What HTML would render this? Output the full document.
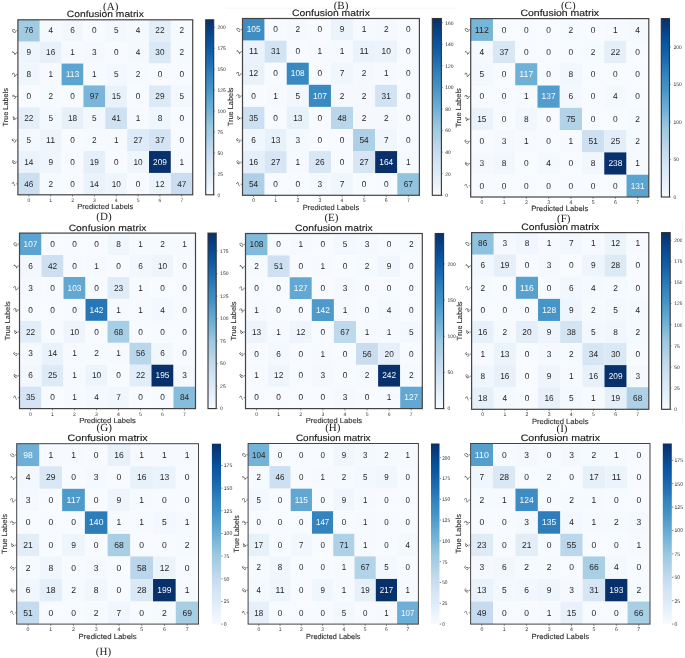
<!DOCTYPE html>
<html><head><meta charset="utf-8"><style>
html,body{margin:0;padding:0;background:#fff;}
svg{display:block;will-change:transform;}
text{font-family:"Liberation Sans", sans-serif;text-rendering:geometricPrecision;}
.cap{font-family:"Liberation Serif", serif;font-size:11px;text-anchor:middle;fill:#222;}
</style></head><body>
<svg width="685" height="658" viewBox="0 0 685 658">
<defs><linearGradient id="gA" x1="0" y1="0" x2="0" y2="1"><stop offset="0" stop-color="#08306b"/><stop offset="0.03" stop-color="#083776"/><stop offset="0.06" stop-color="#084082"/><stop offset="0.09" stop-color="#08488e"/><stop offset="0.12" stop-color="#08509b"/><stop offset="0.16" stop-color="#0e58a2"/><stop offset="0.19" stop-color="#1460a8"/><stop offset="0.22" stop-color="#1a68ae"/><stop offset="0.25" stop-color="#2070b4"/><stop offset="0.28" stop-color="#2979b9"/><stop offset="0.31" stop-color="#3181bd"/><stop offset="0.34" stop-color="#3989c1"/><stop offset="0.38" stop-color="#4191c6"/><stop offset="0.41" stop-color="#4b98ca"/><stop offset="0.44" stop-color="#56a0ce"/><stop offset="0.47" stop-color="#60a7d2"/><stop offset="0.5" stop-color="#6aaed6"/><stop offset="0.53" stop-color="#77b5d9"/><stop offset="0.56" stop-color="#84bcdb"/><stop offset="0.59" stop-color="#91c3de"/><stop offset="0.62" stop-color="#9dcae1"/><stop offset="0.66" stop-color="#a8cee4"/><stop offset="0.69" stop-color="#b2d2e8"/><stop offset="0.72" stop-color="#bcd7eb"/><stop offset="0.75" stop-color="#c6dbef"/><stop offset="0.78" stop-color="#ccdff1"/><stop offset="0.81" stop-color="#d2e3f3"/><stop offset="0.84" stop-color="#d8e7f5"/><stop offset="0.88" stop-color="#deebf7"/><stop offset="0.91" stop-color="#e4eff9"/><stop offset="0.94" stop-color="#eaf3fb"/><stop offset="0.97" stop-color="#f1f7fd"/><stop offset="1" stop-color="#f7fbff"/></linearGradient><linearGradient id="gB" x1="0" y1="0" x2="0" y2="1"><stop offset="0" stop-color="#08306b"/><stop offset="0.03" stop-color="#083776"/><stop offset="0.06" stop-color="#084082"/><stop offset="0.09" stop-color="#08488e"/><stop offset="0.12" stop-color="#08509b"/><stop offset="0.16" stop-color="#0e58a2"/><stop offset="0.19" stop-color="#1460a8"/><stop offset="0.22" stop-color="#1a68ae"/><stop offset="0.25" stop-color="#2070b4"/><stop offset="0.28" stop-color="#2979b9"/><stop offset="0.31" stop-color="#3181bd"/><stop offset="0.34" stop-color="#3989c1"/><stop offset="0.38" stop-color="#4191c6"/><stop offset="0.41" stop-color="#4b98ca"/><stop offset="0.44" stop-color="#56a0ce"/><stop offset="0.47" stop-color="#60a7d2"/><stop offset="0.5" stop-color="#6aaed6"/><stop offset="0.53" stop-color="#77b5d9"/><stop offset="0.56" stop-color="#84bcdb"/><stop offset="0.59" stop-color="#91c3de"/><stop offset="0.62" stop-color="#9dcae1"/><stop offset="0.66" stop-color="#a8cee4"/><stop offset="0.69" stop-color="#b2d2e8"/><stop offset="0.72" stop-color="#bcd7eb"/><stop offset="0.75" stop-color="#c6dbef"/><stop offset="0.78" stop-color="#ccdff1"/><stop offset="0.81" stop-color="#d2e3f3"/><stop offset="0.84" stop-color="#d8e7f5"/><stop offset="0.88" stop-color="#deebf7"/><stop offset="0.91" stop-color="#e4eff9"/><stop offset="0.94" stop-color="#eaf3fb"/><stop offset="0.97" stop-color="#f1f7fd"/><stop offset="1" stop-color="#f7fbff"/></linearGradient><linearGradient id="gC" x1="0" y1="0" x2="0" y2="1"><stop offset="0" stop-color="#08306b"/><stop offset="0.03" stop-color="#083776"/><stop offset="0.06" stop-color="#084082"/><stop offset="0.09" stop-color="#08488e"/><stop offset="0.12" stop-color="#08509b"/><stop offset="0.16" stop-color="#0e58a2"/><stop offset="0.19" stop-color="#1460a8"/><stop offset="0.22" stop-color="#1a68ae"/><stop offset="0.25" stop-color="#2070b4"/><stop offset="0.28" stop-color="#2979b9"/><stop offset="0.31" stop-color="#3181bd"/><stop offset="0.34" stop-color="#3989c1"/><stop offset="0.38" stop-color="#4191c6"/><stop offset="0.41" stop-color="#4b98ca"/><stop offset="0.44" stop-color="#56a0ce"/><stop offset="0.47" stop-color="#60a7d2"/><stop offset="0.5" stop-color="#6aaed6"/><stop offset="0.53" stop-color="#77b5d9"/><stop offset="0.56" stop-color="#84bcdb"/><stop offset="0.59" stop-color="#91c3de"/><stop offset="0.62" stop-color="#9dcae1"/><stop offset="0.66" stop-color="#a8cee4"/><stop offset="0.69" stop-color="#b2d2e8"/><stop offset="0.72" stop-color="#bcd7eb"/><stop offset="0.75" stop-color="#c6dbef"/><stop offset="0.78" stop-color="#ccdff1"/><stop offset="0.81" stop-color="#d2e3f3"/><stop offset="0.84" stop-color="#d8e7f5"/><stop offset="0.88" stop-color="#deebf7"/><stop offset="0.91" stop-color="#e4eff9"/><stop offset="0.94" stop-color="#eaf3fb"/><stop offset="0.97" stop-color="#f1f7fd"/><stop offset="1" stop-color="#f7fbff"/></linearGradient><linearGradient id="gD" x1="0" y1="0" x2="0" y2="1"><stop offset="0" stop-color="#08306b"/><stop offset="0.03" stop-color="#083776"/><stop offset="0.06" stop-color="#084082"/><stop offset="0.09" stop-color="#08488e"/><stop offset="0.12" stop-color="#08509b"/><stop offset="0.16" stop-color="#0e58a2"/><stop offset="0.19" stop-color="#1460a8"/><stop offset="0.22" stop-color="#1a68ae"/><stop offset="0.25" stop-color="#2070b4"/><stop offset="0.28" stop-color="#2979b9"/><stop offset="0.31" stop-color="#3181bd"/><stop offset="0.34" stop-color="#3989c1"/><stop offset="0.38" stop-color="#4191c6"/><stop offset="0.41" stop-color="#4b98ca"/><stop offset="0.44" stop-color="#56a0ce"/><stop offset="0.47" stop-color="#60a7d2"/><stop offset="0.5" stop-color="#6aaed6"/><stop offset="0.53" stop-color="#77b5d9"/><stop offset="0.56" stop-color="#84bcdb"/><stop offset="0.59" stop-color="#91c3de"/><stop offset="0.62" stop-color="#9dcae1"/><stop offset="0.66" stop-color="#a8cee4"/><stop offset="0.69" stop-color="#b2d2e8"/><stop offset="0.72" stop-color="#bcd7eb"/><stop offset="0.75" stop-color="#c6dbef"/><stop offset="0.78" stop-color="#ccdff1"/><stop offset="0.81" stop-color="#d2e3f3"/><stop offset="0.84" stop-color="#d8e7f5"/><stop offset="0.88" stop-color="#deebf7"/><stop offset="0.91" stop-color="#e4eff9"/><stop offset="0.94" stop-color="#eaf3fb"/><stop offset="0.97" stop-color="#f1f7fd"/><stop offset="1" stop-color="#f7fbff"/></linearGradient><linearGradient id="gE" x1="0" y1="0" x2="0" y2="1"><stop offset="0" stop-color="#08306b"/><stop offset="0.03" stop-color="#083776"/><stop offset="0.06" stop-color="#084082"/><stop offset="0.09" stop-color="#08488e"/><stop offset="0.12" stop-color="#08509b"/><stop offset="0.16" stop-color="#0e58a2"/><stop offset="0.19" stop-color="#1460a8"/><stop offset="0.22" stop-color="#1a68ae"/><stop offset="0.25" stop-color="#2070b4"/><stop offset="0.28" stop-color="#2979b9"/><stop offset="0.31" stop-color="#3181bd"/><stop offset="0.34" stop-color="#3989c1"/><stop offset="0.38" stop-color="#4191c6"/><stop offset="0.41" stop-color="#4b98ca"/><stop offset="0.44" stop-color="#56a0ce"/><stop offset="0.47" stop-color="#60a7d2"/><stop offset="0.5" stop-color="#6aaed6"/><stop offset="0.53" stop-color="#77b5d9"/><stop offset="0.56" stop-color="#84bcdb"/><stop offset="0.59" stop-color="#91c3de"/><stop offset="0.62" stop-color="#9dcae1"/><stop offset="0.66" stop-color="#a8cee4"/><stop offset="0.69" stop-color="#b2d2e8"/><stop offset="0.72" stop-color="#bcd7eb"/><stop offset="0.75" stop-color="#c6dbef"/><stop offset="0.78" stop-color="#ccdff1"/><stop offset="0.81" stop-color="#d2e3f3"/><stop offset="0.84" stop-color="#d8e7f5"/><stop offset="0.88" stop-color="#deebf7"/><stop offset="0.91" stop-color="#e4eff9"/><stop offset="0.94" stop-color="#eaf3fb"/><stop offset="0.97" stop-color="#f1f7fd"/><stop offset="1" stop-color="#f7fbff"/></linearGradient><linearGradient id="gF" x1="0" y1="0" x2="0" y2="1"><stop offset="0" stop-color="#08306b"/><stop offset="0.03" stop-color="#083776"/><stop offset="0.06" stop-color="#084082"/><stop offset="0.09" stop-color="#08488e"/><stop offset="0.12" stop-color="#08509b"/><stop offset="0.16" stop-color="#0e58a2"/><stop offset="0.19" stop-color="#1460a8"/><stop offset="0.22" stop-color="#1a68ae"/><stop offset="0.25" stop-color="#2070b4"/><stop offset="0.28" stop-color="#2979b9"/><stop offset="0.31" stop-color="#3181bd"/><stop offset="0.34" stop-color="#3989c1"/><stop offset="0.38" stop-color="#4191c6"/><stop offset="0.41" stop-color="#4b98ca"/><stop offset="0.44" stop-color="#56a0ce"/><stop offset="0.47" stop-color="#60a7d2"/><stop offset="0.5" stop-color="#6aaed6"/><stop offset="0.53" stop-color="#77b5d9"/><stop offset="0.56" stop-color="#84bcdb"/><stop offset="0.59" stop-color="#91c3de"/><stop offset="0.62" stop-color="#9dcae1"/><stop offset="0.66" stop-color="#a8cee4"/><stop offset="0.69" stop-color="#b2d2e8"/><stop offset="0.72" stop-color="#bcd7eb"/><stop offset="0.75" stop-color="#c6dbef"/><stop offset="0.78" stop-color="#ccdff1"/><stop offset="0.81" stop-color="#d2e3f3"/><stop offset="0.84" stop-color="#d8e7f5"/><stop offset="0.88" stop-color="#deebf7"/><stop offset="0.91" stop-color="#e4eff9"/><stop offset="0.94" stop-color="#eaf3fb"/><stop offset="0.97" stop-color="#f1f7fd"/><stop offset="1" stop-color="#f7fbff"/></linearGradient><linearGradient id="gG" x1="0" y1="0" x2="0" y2="1"><stop offset="0" stop-color="#08306b"/><stop offset="0.03" stop-color="#083776"/><stop offset="0.06" stop-color="#084082"/><stop offset="0.09" stop-color="#08488e"/><stop offset="0.12" stop-color="#08509b"/><stop offset="0.16" stop-color="#0e58a2"/><stop offset="0.19" stop-color="#1460a8"/><stop offset="0.22" stop-color="#1a68ae"/><stop offset="0.25" stop-color="#2070b4"/><stop offset="0.28" stop-color="#2979b9"/><stop offset="0.31" stop-color="#3181bd"/><stop offset="0.34" stop-color="#3989c1"/><stop offset="0.38" stop-color="#4191c6"/><stop offset="0.41" stop-color="#4b98ca"/><stop offset="0.44" stop-color="#56a0ce"/><stop offset="0.47" stop-color="#60a7d2"/><stop offset="0.5" stop-color="#6aaed6"/><stop offset="0.53" stop-color="#77b5d9"/><stop offset="0.56" stop-color="#84bcdb"/><stop offset="0.59" stop-color="#91c3de"/><stop offset="0.62" stop-color="#9dcae1"/><stop offset="0.66" stop-color="#a8cee4"/><stop offset="0.69" stop-color="#b2d2e8"/><stop offset="0.72" stop-color="#bcd7eb"/><stop offset="0.75" stop-color="#c6dbef"/><stop offset="0.78" stop-color="#ccdff1"/><stop offset="0.81" stop-color="#d2e3f3"/><stop offset="0.84" stop-color="#d8e7f5"/><stop offset="0.88" stop-color="#deebf7"/><stop offset="0.91" stop-color="#e4eff9"/><stop offset="0.94" stop-color="#eaf3fb"/><stop offset="0.97" stop-color="#f1f7fd"/><stop offset="1" stop-color="#f7fbff"/></linearGradient><linearGradient id="gH" x1="0" y1="0" x2="0" y2="1"><stop offset="0" stop-color="#08306b"/><stop offset="0.03" stop-color="#083776"/><stop offset="0.06" stop-color="#084082"/><stop offset="0.09" stop-color="#08488e"/><stop offset="0.12" stop-color="#08509b"/><stop offset="0.16" stop-color="#0e58a2"/><stop offset="0.19" stop-color="#1460a8"/><stop offset="0.22" stop-color="#1a68ae"/><stop offset="0.25" stop-color="#2070b4"/><stop offset="0.28" stop-color="#2979b9"/><stop offset="0.31" stop-color="#3181bd"/><stop offset="0.34" stop-color="#3989c1"/><stop offset="0.38" stop-color="#4191c6"/><stop offset="0.41" stop-color="#4b98ca"/><stop offset="0.44" stop-color="#56a0ce"/><stop offset="0.47" stop-color="#60a7d2"/><stop offset="0.5" stop-color="#6aaed6"/><stop offset="0.53" stop-color="#77b5d9"/><stop offset="0.56" stop-color="#84bcdb"/><stop offset="0.59" stop-color="#91c3de"/><stop offset="0.62" stop-color="#9dcae1"/><stop offset="0.66" stop-color="#a8cee4"/><stop offset="0.69" stop-color="#b2d2e8"/><stop offset="0.72" stop-color="#bcd7eb"/><stop offset="0.75" stop-color="#c6dbef"/><stop offset="0.78" stop-color="#ccdff1"/><stop offset="0.81" stop-color="#d2e3f3"/><stop offset="0.84" stop-color="#d8e7f5"/><stop offset="0.88" stop-color="#deebf7"/><stop offset="0.91" stop-color="#e4eff9"/><stop offset="0.94" stop-color="#eaf3fb"/><stop offset="0.97" stop-color="#f1f7fd"/><stop offset="1" stop-color="#f7fbff"/></linearGradient><linearGradient id="gI" x1="0" y1="0" x2="0" y2="1"><stop offset="0" stop-color="#08306b"/><stop offset="0.03" stop-color="#083776"/><stop offset="0.06" stop-color="#084082"/><stop offset="0.09" stop-color="#08488e"/><stop offset="0.12" stop-color="#08509b"/><stop offset="0.16" stop-color="#0e58a2"/><stop offset="0.19" stop-color="#1460a8"/><stop offset="0.22" stop-color="#1a68ae"/><stop offset="0.25" stop-color="#2070b4"/><stop offset="0.28" stop-color="#2979b9"/><stop offset="0.31" stop-color="#3181bd"/><stop offset="0.34" stop-color="#3989c1"/><stop offset="0.38" stop-color="#4191c6"/><stop offset="0.41" stop-color="#4b98ca"/><stop offset="0.44" stop-color="#56a0ce"/><stop offset="0.47" stop-color="#60a7d2"/><stop offset="0.5" stop-color="#6aaed6"/><stop offset="0.53" stop-color="#77b5d9"/><stop offset="0.56" stop-color="#84bcdb"/><stop offset="0.59" stop-color="#91c3de"/><stop offset="0.62" stop-color="#9dcae1"/><stop offset="0.66" stop-color="#a8cee4"/><stop offset="0.69" stop-color="#b2d2e8"/><stop offset="0.72" stop-color="#bcd7eb"/><stop offset="0.75" stop-color="#c6dbef"/><stop offset="0.78" stop-color="#ccdff1"/><stop offset="0.81" stop-color="#d2e3f3"/><stop offset="0.84" stop-color="#d8e7f5"/><stop offset="0.88" stop-color="#deebf7"/><stop offset="0.91" stop-color="#e4eff9"/><stop offset="0.94" stop-color="#eaf3fb"/><stop offset="0.97" stop-color="#f1f7fd"/><stop offset="1" stop-color="#f7fbff"/></linearGradient></defs>
<rect width="685" height="658" fill="#fff"/>
<rect x="17.9" y="19.8" width="21.91" height="21.93" fill="#a1cbe2"/>
<rect x="39.75" y="19.8" width="21.91" height="21.93" fill="#f4f9fe"/>
<rect x="61.6" y="19.8" width="21.91" height="21.93" fill="#f2f7fd"/>
<rect x="83.45" y="19.8" width="21.91" height="21.93" fill="#f7fbff"/>
<rect x="105.3" y="19.8" width="21.91" height="21.93" fill="#f2f8fd"/>
<rect x="127.15" y="19.8" width="21.91" height="21.93" fill="#f4f9fe"/>
<rect x="149" y="19.8" width="21.91" height="21.93" fill="#e3eef8"/>
<rect x="170.85" y="19.8" width="21.91" height="21.93" fill="#f5fafe"/>
<rect x="17.9" y="41.67" width="21.91" height="21.93" fill="#eef5fc"/>
<rect x="39.75" y="41.67" width="21.91" height="21.93" fill="#e8f1fa"/>
<rect x="61.6" y="41.67" width="21.91" height="21.93" fill="#f6faff"/>
<rect x="83.45" y="41.67" width="21.91" height="21.93" fill="#f5f9fe"/>
<rect x="105.3" y="41.67" width="21.91" height="21.93" fill="#f7fbff"/>
<rect x="127.15" y="41.67" width="21.91" height="21.93" fill="#f4f9fe"/>
<rect x="149" y="41.67" width="21.91" height="21.93" fill="#dbe9f6"/>
<rect x="170.85" y="41.67" width="21.91" height="21.93" fill="#f5fafe"/>
<rect x="17.9" y="63.55" width="21.91" height="21.93" fill="#f0f6fd"/>
<rect x="39.75" y="63.55" width="21.91" height="21.93" fill="#f6faff"/>
<rect x="61.6" y="63.55" width="21.91" height="21.93" fill="#5da5d1"/>
<rect x="83.45" y="63.55" width="21.91" height="21.93" fill="#f6faff"/>
<rect x="105.3" y="63.55" width="21.91" height="21.93" fill="#f2f8fd"/>
<rect x="127.15" y="63.55" width="21.91" height="21.93" fill="#f5fafe"/>
<rect x="149" y="63.55" width="21.91" height="21.93" fill="#f7fbff"/>
<rect x="170.85" y="63.55" width="21.91" height="21.93" fill="#f7fbff"/>
<rect x="17.9" y="85.42" width="21.91" height="21.93" fill="#f7fbff"/>
<rect x="39.75" y="85.42" width="21.91" height="21.93" fill="#f5fafe"/>
<rect x="61.6" y="85.42" width="21.91" height="21.93" fill="#f7fbff"/>
<rect x="83.45" y="85.42" width="21.91" height="21.93" fill="#7ab6d9"/>
<rect x="105.3" y="85.42" width="21.91" height="21.93" fill="#e9f2fa"/>
<rect x="127.15" y="85.42" width="21.91" height="21.93" fill="#f7fbff"/>
<rect x="149" y="85.42" width="21.91" height="21.93" fill="#dce9f6"/>
<rect x="170.85" y="85.42" width="21.91" height="21.93" fill="#f2f8fd"/>
<rect x="17.9" y="107.3" width="21.91" height="21.93" fill="#e3eef8"/>
<rect x="39.75" y="107.3" width="21.91" height="21.93" fill="#f2f8fd"/>
<rect x="61.6" y="107.3" width="21.91" height="21.93" fill="#e6f0f9"/>
<rect x="83.45" y="107.3" width="21.91" height="21.93" fill="#f2f8fd"/>
<rect x="105.3" y="107.3" width="21.91" height="21.93" fill="#d0e2f2"/>
<rect x="127.15" y="107.3" width="21.91" height="21.93" fill="#f6faff"/>
<rect x="149" y="107.3" width="21.91" height="21.93" fill="#f0f6fd"/>
<rect x="170.85" y="107.3" width="21.91" height="21.93" fill="#f7fbff"/>
<rect x="17.9" y="129.18" width="21.91" height="21.93" fill="#f2f8fd"/>
<rect x="39.75" y="129.18" width="21.91" height="21.93" fill="#edf4fc"/>
<rect x="61.6" y="129.18" width="21.91" height="21.93" fill="#f7fbff"/>
<rect x="83.45" y="129.18" width="21.91" height="21.93" fill="#f5fafe"/>
<rect x="105.3" y="129.18" width="21.91" height="21.93" fill="#f6faff"/>
<rect x="127.15" y="129.18" width="21.91" height="21.93" fill="#ddeaf7"/>
<rect x="149" y="129.18" width="21.91" height="21.93" fill="#d4e4f4"/>
<rect x="170.85" y="129.18" width="21.91" height="21.93" fill="#f7fbff"/>
<rect x="17.9" y="151.05" width="21.91" height="21.93" fill="#eaf2fb"/>
<rect x="39.75" y="151.05" width="21.91" height="21.93" fill="#eef5fc"/>
<rect x="61.6" y="151.05" width="21.91" height="21.93" fill="#f7fbff"/>
<rect x="83.45" y="151.05" width="21.91" height="21.93" fill="#e5eff9"/>
<rect x="105.3" y="151.05" width="21.91" height="21.93" fill="#f7fbff"/>
<rect x="127.15" y="151.05" width="21.91" height="21.93" fill="#eef5fc"/>
<rect x="149" y="151.05" width="21.91" height="21.93" fill="#08306b"/>
<rect x="170.85" y="151.05" width="21.91" height="21.93" fill="#f6faff"/>
<rect x="17.9" y="172.93" width="21.91" height="21.93" fill="#ccdff1"/>
<rect x="39.75" y="172.93" width="21.91" height="21.93" fill="#f5fafe"/>
<rect x="61.6" y="172.93" width="21.91" height="21.93" fill="#f7fbff"/>
<rect x="83.45" y="172.93" width="21.91" height="21.93" fill="#eaf2fb"/>
<rect x="105.3" y="172.93" width="21.91" height="21.93" fill="#eef5fc"/>
<rect x="127.15" y="172.93" width="21.91" height="21.93" fill="#f7fbff"/>
<rect x="149" y="172.93" width="21.91" height="21.93" fill="#ecf4fb"/>
<rect x="170.85" y="172.93" width="21.91" height="21.93" fill="#cbdef1"/>
<text transform="translate(28.82 33.44) scale(1 1)" font-size="8.5" text-anchor="middle" fill="#262626" textLength="9.16" lengthAdjust="spacingAndGlyphs">76</text>
<text transform="translate(50.67 33.44) scale(1 1)" font-size="8.5" text-anchor="middle" fill="#262626" textLength="4.58" lengthAdjust="spacingAndGlyphs">4</text>
<text transform="translate(72.52 33.44) scale(1 1)" font-size="8.5" text-anchor="middle" fill="#262626" textLength="4.58" lengthAdjust="spacingAndGlyphs">6</text>
<text transform="translate(94.38 33.44) scale(1 1)" font-size="8.5" text-anchor="middle" fill="#262626" textLength="4.58" lengthAdjust="spacingAndGlyphs">0</text>
<text transform="translate(116.22 33.44) scale(1 1)" font-size="8.5" text-anchor="middle" fill="#262626" textLength="4.58" lengthAdjust="spacingAndGlyphs">5</text>
<text transform="translate(138.07 33.44) scale(1 1)" font-size="8.5" text-anchor="middle" fill="#262626" textLength="4.58" lengthAdjust="spacingAndGlyphs">4</text>
<text transform="translate(159.92 33.44) scale(1 1)" font-size="8.5" text-anchor="middle" fill="#262626" textLength="9.16" lengthAdjust="spacingAndGlyphs">22</text>
<text transform="translate(181.77 33.44) scale(1 1)" font-size="8.5" text-anchor="middle" fill="#262626" textLength="4.58" lengthAdjust="spacingAndGlyphs">2</text>
<text transform="translate(28.82 55.31) scale(1 1)" font-size="8.5" text-anchor="middle" fill="#262626" textLength="4.58" lengthAdjust="spacingAndGlyphs">9</text>
<text transform="translate(50.67 55.31) scale(1 1)" font-size="8.5" text-anchor="middle" fill="#262626" textLength="9.16" lengthAdjust="spacingAndGlyphs">16</text>
<text transform="translate(72.52 55.31) scale(1 1)" font-size="8.5" text-anchor="middle" fill="#262626" textLength="4.58" lengthAdjust="spacingAndGlyphs">1</text>
<text transform="translate(94.38 55.31) scale(1 1)" font-size="8.5" text-anchor="middle" fill="#262626" textLength="4.58" lengthAdjust="spacingAndGlyphs">3</text>
<text transform="translate(116.22 55.31) scale(1 1)" font-size="8.5" text-anchor="middle" fill="#262626" textLength="4.58" lengthAdjust="spacingAndGlyphs">0</text>
<text transform="translate(138.07 55.31) scale(1 1)" font-size="8.5" text-anchor="middle" fill="#262626" textLength="4.58" lengthAdjust="spacingAndGlyphs">4</text>
<text transform="translate(159.92 55.31) scale(1 1)" font-size="8.5" text-anchor="middle" fill="#262626" textLength="9.16" lengthAdjust="spacingAndGlyphs">30</text>
<text transform="translate(181.77 55.31) scale(1 1)" font-size="8.5" text-anchor="middle" fill="#262626" textLength="4.58" lengthAdjust="spacingAndGlyphs">2</text>
<text transform="translate(28.82 77.19) scale(1 1)" font-size="8.5" text-anchor="middle" fill="#262626" textLength="4.58" lengthAdjust="spacingAndGlyphs">8</text>
<text transform="translate(50.67 77.19) scale(1 1)" font-size="8.5" text-anchor="middle" fill="#262626" textLength="4.58" lengthAdjust="spacingAndGlyphs">1</text>
<text transform="translate(72.52 77.19) scale(1 1)" font-size="8.5" text-anchor="middle" fill="#f7fbff" textLength="13.74" lengthAdjust="spacingAndGlyphs">113</text>
<text transform="translate(94.38 77.19) scale(1 1)" font-size="8.5" text-anchor="middle" fill="#262626" textLength="4.58" lengthAdjust="spacingAndGlyphs">1</text>
<text transform="translate(116.22 77.19) scale(1 1)" font-size="8.5" text-anchor="middle" fill="#262626" textLength="4.58" lengthAdjust="spacingAndGlyphs">5</text>
<text transform="translate(138.07 77.19) scale(1 1)" font-size="8.5" text-anchor="middle" fill="#262626" textLength="4.58" lengthAdjust="spacingAndGlyphs">2</text>
<text transform="translate(159.92 77.19) scale(1 1)" font-size="8.5" text-anchor="middle" fill="#262626" textLength="4.58" lengthAdjust="spacingAndGlyphs">0</text>
<text transform="translate(181.77 77.19) scale(1 1)" font-size="8.5" text-anchor="middle" fill="#262626" textLength="4.58" lengthAdjust="spacingAndGlyphs">0</text>
<text transform="translate(28.82 99.06) scale(1 1)" font-size="8.5" text-anchor="middle" fill="#262626" textLength="4.58" lengthAdjust="spacingAndGlyphs">0</text>
<text transform="translate(50.67 99.06) scale(1 1)" font-size="8.5" text-anchor="middle" fill="#262626" textLength="4.58" lengthAdjust="spacingAndGlyphs">2</text>
<text transform="translate(72.52 99.06) scale(1 1)" font-size="8.5" text-anchor="middle" fill="#262626" textLength="4.58" lengthAdjust="spacingAndGlyphs">0</text>
<text transform="translate(94.38 99.06) scale(1 1)" font-size="8.5" text-anchor="middle" fill="#262626" textLength="9.16" lengthAdjust="spacingAndGlyphs">97</text>
<text transform="translate(116.22 99.06) scale(1 1)" font-size="8.5" text-anchor="middle" fill="#262626" textLength="9.16" lengthAdjust="spacingAndGlyphs">15</text>
<text transform="translate(138.07 99.06) scale(1 1)" font-size="8.5" text-anchor="middle" fill="#262626" textLength="4.58" lengthAdjust="spacingAndGlyphs">0</text>
<text transform="translate(159.92 99.06) scale(1 1)" font-size="8.5" text-anchor="middle" fill="#262626" textLength="9.16" lengthAdjust="spacingAndGlyphs">29</text>
<text transform="translate(181.77 99.06) scale(1 1)" font-size="8.5" text-anchor="middle" fill="#262626" textLength="4.58" lengthAdjust="spacingAndGlyphs">5</text>
<text transform="translate(28.82 120.94) scale(1 1)" font-size="8.5" text-anchor="middle" fill="#262626" textLength="9.16" lengthAdjust="spacingAndGlyphs">22</text>
<text transform="translate(50.67 120.94) scale(1 1)" font-size="8.5" text-anchor="middle" fill="#262626" textLength="4.58" lengthAdjust="spacingAndGlyphs">5</text>
<text transform="translate(72.52 120.94) scale(1 1)" font-size="8.5" text-anchor="middle" fill="#262626" textLength="9.16" lengthAdjust="spacingAndGlyphs">18</text>
<text transform="translate(94.38 120.94) scale(1 1)" font-size="8.5" text-anchor="middle" fill="#262626" textLength="4.58" lengthAdjust="spacingAndGlyphs">5</text>
<text transform="translate(116.22 120.94) scale(1 1)" font-size="8.5" text-anchor="middle" fill="#262626" textLength="9.16" lengthAdjust="spacingAndGlyphs">41</text>
<text transform="translate(138.07 120.94) scale(1 1)" font-size="8.5" text-anchor="middle" fill="#262626" textLength="4.58" lengthAdjust="spacingAndGlyphs">1</text>
<text transform="translate(159.92 120.94) scale(1 1)" font-size="8.5" text-anchor="middle" fill="#262626" textLength="4.58" lengthAdjust="spacingAndGlyphs">8</text>
<text transform="translate(181.77 120.94) scale(1 1)" font-size="8.5" text-anchor="middle" fill="#262626" textLength="4.58" lengthAdjust="spacingAndGlyphs">0</text>
<text transform="translate(28.82 142.81) scale(1 1)" font-size="8.5" text-anchor="middle" fill="#262626" textLength="4.58" lengthAdjust="spacingAndGlyphs">5</text>
<text transform="translate(50.67 142.81) scale(1 1)" font-size="8.5" text-anchor="middle" fill="#262626" textLength="9.16" lengthAdjust="spacingAndGlyphs">11</text>
<text transform="translate(72.52 142.81) scale(1 1)" font-size="8.5" text-anchor="middle" fill="#262626" textLength="4.58" lengthAdjust="spacingAndGlyphs">0</text>
<text transform="translate(94.38 142.81) scale(1 1)" font-size="8.5" text-anchor="middle" fill="#262626" textLength="4.58" lengthAdjust="spacingAndGlyphs">2</text>
<text transform="translate(116.22 142.81) scale(1 1)" font-size="8.5" text-anchor="middle" fill="#262626" textLength="4.58" lengthAdjust="spacingAndGlyphs">1</text>
<text transform="translate(138.07 142.81) scale(1 1)" font-size="8.5" text-anchor="middle" fill="#262626" textLength="9.16" lengthAdjust="spacingAndGlyphs">27</text>
<text transform="translate(159.92 142.81) scale(1 1)" font-size="8.5" text-anchor="middle" fill="#262626" textLength="9.16" lengthAdjust="spacingAndGlyphs">37</text>
<text transform="translate(181.77 142.81) scale(1 1)" font-size="8.5" text-anchor="middle" fill="#262626" textLength="4.58" lengthAdjust="spacingAndGlyphs">0</text>
<text transform="translate(28.82 164.69) scale(1 1)" font-size="8.5" text-anchor="middle" fill="#262626" textLength="9.16" lengthAdjust="spacingAndGlyphs">14</text>
<text transform="translate(50.67 164.69) scale(1 1)" font-size="8.5" text-anchor="middle" fill="#262626" textLength="4.58" lengthAdjust="spacingAndGlyphs">9</text>
<text transform="translate(72.52 164.69) scale(1 1)" font-size="8.5" text-anchor="middle" fill="#262626" textLength="4.58" lengthAdjust="spacingAndGlyphs">0</text>
<text transform="translate(94.38 164.69) scale(1 1)" font-size="8.5" text-anchor="middle" fill="#262626" textLength="9.16" lengthAdjust="spacingAndGlyphs">19</text>
<text transform="translate(116.22 164.69) scale(1 1)" font-size="8.5" text-anchor="middle" fill="#262626" textLength="4.58" lengthAdjust="spacingAndGlyphs">0</text>
<text transform="translate(138.07 164.69) scale(1 1)" font-size="8.5" text-anchor="middle" fill="#262626" textLength="9.16" lengthAdjust="spacingAndGlyphs">10</text>
<text transform="translate(159.92 164.69) scale(1 1)" font-size="8.5" text-anchor="middle" fill="#f7fbff" textLength="13.74" lengthAdjust="spacingAndGlyphs">209</text>
<text transform="translate(181.77 164.69) scale(1 1)" font-size="8.5" text-anchor="middle" fill="#262626" textLength="4.58" lengthAdjust="spacingAndGlyphs">1</text>
<text transform="translate(28.82 186.56) scale(1 1)" font-size="8.5" text-anchor="middle" fill="#262626" textLength="9.16" lengthAdjust="spacingAndGlyphs">46</text>
<text transform="translate(50.67 186.56) scale(1 1)" font-size="8.5" text-anchor="middle" fill="#262626" textLength="4.58" lengthAdjust="spacingAndGlyphs">2</text>
<text transform="translate(72.52 186.56) scale(1 1)" font-size="8.5" text-anchor="middle" fill="#262626" textLength="4.58" lengthAdjust="spacingAndGlyphs">0</text>
<text transform="translate(94.38 186.56) scale(1 1)" font-size="8.5" text-anchor="middle" fill="#262626" textLength="9.16" lengthAdjust="spacingAndGlyphs">14</text>
<text transform="translate(116.22 186.56) scale(1 1)" font-size="8.5" text-anchor="middle" fill="#262626" textLength="9.16" lengthAdjust="spacingAndGlyphs">10</text>
<text transform="translate(138.07 186.56) scale(1 1)" font-size="8.5" text-anchor="middle" fill="#262626" textLength="4.58" lengthAdjust="spacingAndGlyphs">0</text>
<text transform="translate(159.92 186.56) scale(1 1)" font-size="8.5" text-anchor="middle" fill="#262626" textLength="9.16" lengthAdjust="spacingAndGlyphs">12</text>
<text transform="translate(181.77 186.56) scale(1 1)" font-size="8.5" text-anchor="middle" fill="#262626" textLength="9.16" lengthAdjust="spacingAndGlyphs">47</text>
<rect x="17.9" y="19.8" width="174.8" height="175" fill="none" stroke="#444" stroke-width="1.2"/>
<line x1="28.82" y1="194.8" x2="28.82" y2="196.6" stroke="#444" stroke-width="0.6"/>
<text transform="translate(28.82 201.9) scale(1 1)" font-size="5.19" text-anchor="middle" fill="#333" textLength="2.8" lengthAdjust="spacingAndGlyphs">0</text>
<line x1="50.67" y1="194.8" x2="50.67" y2="196.6" stroke="#444" stroke-width="0.6"/>
<text transform="translate(50.67 201.9) scale(1 1)" font-size="5.19" text-anchor="middle" fill="#333" textLength="2.8" lengthAdjust="spacingAndGlyphs">1</text>
<line x1="72.52" y1="194.8" x2="72.52" y2="196.6" stroke="#444" stroke-width="0.6"/>
<text transform="translate(72.52 201.9) scale(1 1)" font-size="5.19" text-anchor="middle" fill="#333" textLength="2.8" lengthAdjust="spacingAndGlyphs">2</text>
<line x1="94.38" y1="194.8" x2="94.38" y2="196.6" stroke="#444" stroke-width="0.6"/>
<text transform="translate(94.38 201.9) scale(1 1)" font-size="5.19" text-anchor="middle" fill="#333" textLength="2.8" lengthAdjust="spacingAndGlyphs">3</text>
<line x1="116.22" y1="194.8" x2="116.22" y2="196.6" stroke="#444" stroke-width="0.6"/>
<text transform="translate(116.22 201.9) scale(1 1)" font-size="5.19" text-anchor="middle" fill="#333" textLength="2.8" lengthAdjust="spacingAndGlyphs">4</text>
<line x1="138.07" y1="194.8" x2="138.07" y2="196.6" stroke="#444" stroke-width="0.6"/>
<text transform="translate(138.07 201.9) scale(1 1)" font-size="5.19" text-anchor="middle" fill="#333" textLength="2.8" lengthAdjust="spacingAndGlyphs">5</text>
<line x1="159.92" y1="194.8" x2="159.92" y2="196.6" stroke="#444" stroke-width="0.6"/>
<text transform="translate(159.92 201.9) scale(1 1)" font-size="5.19" text-anchor="middle" fill="#333" textLength="2.8" lengthAdjust="spacingAndGlyphs">6</text>
<line x1="181.77" y1="194.8" x2="181.77" y2="196.6" stroke="#444" stroke-width="0.6"/>
<text transform="translate(181.77 201.9) scale(1 1)" font-size="5.19" text-anchor="middle" fill="#333" textLength="2.8" lengthAdjust="spacingAndGlyphs">7</text>
<line x1="16.1" y1="30.74" x2="17.9" y2="30.74" stroke="#444" stroke-width="0.6"/>
<text dy="1.7" transform="translate(14.1 31.24) rotate(-45) scale(1 1)" font-size="5.97" text-anchor="middle" fill="#2a2a2a" textLength="3.22" lengthAdjust="spacingAndGlyphs">0</text>
<line x1="16.1" y1="52.61" x2="17.9" y2="52.61" stroke="#444" stroke-width="0.6"/>
<text dy="1.7" transform="translate(14.1 53.11) rotate(-45) scale(1 1)" font-size="5.97" text-anchor="middle" fill="#2a2a2a" textLength="3.22" lengthAdjust="spacingAndGlyphs">1</text>
<line x1="16.1" y1="74.49" x2="17.9" y2="74.49" stroke="#444" stroke-width="0.6"/>
<text dy="1.7" transform="translate(14.1 74.99) rotate(-45) scale(1 1)" font-size="5.97" text-anchor="middle" fill="#2a2a2a" textLength="3.22" lengthAdjust="spacingAndGlyphs">2</text>
<line x1="16.1" y1="96.36" x2="17.9" y2="96.36" stroke="#444" stroke-width="0.6"/>
<text dy="1.7" transform="translate(14.1 96.86) rotate(-45) scale(1 1)" font-size="5.97" text-anchor="middle" fill="#2a2a2a" textLength="3.22" lengthAdjust="spacingAndGlyphs">3</text>
<line x1="16.1" y1="118.24" x2="17.9" y2="118.24" stroke="#444" stroke-width="0.6"/>
<text dy="1.7" transform="translate(14.1 118.74) rotate(-45) scale(1 1)" font-size="5.97" text-anchor="middle" fill="#2a2a2a" textLength="3.22" lengthAdjust="spacingAndGlyphs">4</text>
<line x1="16.1" y1="140.11" x2="17.9" y2="140.11" stroke="#444" stroke-width="0.6"/>
<text dy="1.7" transform="translate(14.1 140.61) rotate(-45) scale(1 1)" font-size="5.97" text-anchor="middle" fill="#2a2a2a" textLength="3.22" lengthAdjust="spacingAndGlyphs">5</text>
<line x1="16.1" y1="161.99" x2="17.9" y2="161.99" stroke="#444" stroke-width="0.6"/>
<text dy="1.7" transform="translate(14.1 162.49) rotate(-45) scale(1 1)" font-size="5.97" text-anchor="middle" fill="#2a2a2a" textLength="3.22" lengthAdjust="spacingAndGlyphs">6</text>
<line x1="16.1" y1="183.86" x2="17.9" y2="183.86" stroke="#444" stroke-width="0.6"/>
<text dy="1.7" transform="translate(14.1 184.36) rotate(-45) scale(1 1)" font-size="5.97" text-anchor="middle" fill="#2a2a2a" textLength="3.22" lengthAdjust="spacingAndGlyphs">7</text>
<text transform="translate(105.3 17.4) scale(1 1)" font-size="9.09" text-anchor="middle" fill="#1a1a1a" stroke="#1a1a1a" stroke-width="0.14" textLength="76.97" lengthAdjust="spacingAndGlyphs">Confusion matrix</text>
<text transform="translate(105.3 209.4) scale(1 1)" font-size="7.34" text-anchor="middle" fill="#2a2a2a" stroke="#2a2a2a" stroke-width="0.1" textLength="55.97" lengthAdjust="spacingAndGlyphs">Predicted Labels</text>
<text transform="translate(8.31 107.3) rotate(-90) scale(1 1)" font-size="7.34" text-anchor="middle" fill="#2a2a2a" stroke="#2a2a2a" stroke-width="0.1" textLength="38.49" lengthAdjust="spacingAndGlyphs">True Labels</text>
<rect x="205.7" y="19.8" width="8" height="175" fill="url(#gA)"/>
<rect x="205.7" y="19.8" width="8" height="175" fill="none" stroke="#333" stroke-width="1.1"/>
<line x1="213.7" y1="194.8" x2="215.1" y2="194.8" stroke="#444" stroke-width="0.5"/>
<text transform="translate(217.6 196.6) scale(1 1)" font-size="5.07" text-anchor="start" fill="#2a2a2a" textLength="2.74" lengthAdjust="spacingAndGlyphs">0</text>
<line x1="213.7" y1="173.87" x2="215.1" y2="173.87" stroke="#444" stroke-width="0.5"/>
<text transform="translate(217.6 175.67) scale(1 1)" font-size="5.07" text-anchor="start" fill="#2a2a2a" textLength="5.47" lengthAdjust="spacingAndGlyphs">25</text>
<line x1="213.7" y1="152.93" x2="215.1" y2="152.93" stroke="#444" stroke-width="0.5"/>
<text transform="translate(217.6 154.73) scale(1 1)" font-size="5.07" text-anchor="start" fill="#2a2a2a" textLength="5.47" lengthAdjust="spacingAndGlyphs">50</text>
<line x1="213.7" y1="132" x2="215.1" y2="132" stroke="#444" stroke-width="0.5"/>
<text transform="translate(217.6 133.8) scale(1 1)" font-size="5.07" text-anchor="start" fill="#2a2a2a" textLength="5.47" lengthAdjust="spacingAndGlyphs">75</text>
<line x1="213.7" y1="111.07" x2="215.1" y2="111.07" stroke="#444" stroke-width="0.5"/>
<text transform="translate(217.6 112.87) scale(1 1)" font-size="5.07" text-anchor="start" fill="#2a2a2a" textLength="8.21" lengthAdjust="spacingAndGlyphs">100</text>
<line x1="213.7" y1="90.13" x2="215.1" y2="90.13" stroke="#444" stroke-width="0.5"/>
<text transform="translate(217.6 91.93) scale(1 1)" font-size="5.07" text-anchor="start" fill="#2a2a2a" textLength="8.21" lengthAdjust="spacingAndGlyphs">125</text>
<line x1="213.7" y1="69.2" x2="215.1" y2="69.2" stroke="#444" stroke-width="0.5"/>
<text transform="translate(217.6 71) scale(1 1)" font-size="5.07" text-anchor="start" fill="#2a2a2a" textLength="8.21" lengthAdjust="spacingAndGlyphs">150</text>
<line x1="213.7" y1="48.27" x2="215.1" y2="48.27" stroke="#444" stroke-width="0.5"/>
<text transform="translate(217.6 50.07) scale(1 1)" font-size="5.07" text-anchor="start" fill="#2a2a2a" textLength="8.21" lengthAdjust="spacingAndGlyphs">175</text>
<line x1="213.7" y1="27.34" x2="215.1" y2="27.34" stroke="#444" stroke-width="0.5"/>
<text transform="translate(217.6 29.14) scale(1 1)" font-size="5.07" text-anchor="start" fill="#2a2a2a" textLength="8.21" lengthAdjust="spacingAndGlyphs">200</text>
<rect x="242.5" y="18.5" width="22.17" height="22.16" fill="#3e8ec4"/>
<rect x="264.61" y="18.5" width="22.17" height="22.16" fill="#f7fbff"/>
<rect x="286.73" y="18.5" width="22.17" height="22.16" fill="#f5f9fe"/>
<rect x="308.84" y="18.5" width="22.17" height="22.16" fill="#f7fbff"/>
<rect x="330.95" y="18.5" width="22.17" height="22.16" fill="#ecf4fb"/>
<rect x="353.06" y="18.5" width="22.17" height="22.16" fill="#f6faff"/>
<rect x="375.17" y="18.5" width="22.17" height="22.16" fill="#f5f9fe"/>
<rect x="397.29" y="18.5" width="22.17" height="22.16" fill="#f7fbff"/>
<rect x="242.5" y="40.6" width="22.17" height="22.16" fill="#eaf2fb"/>
<rect x="264.61" y="40.6" width="22.17" height="22.16" fill="#d2e3f3"/>
<rect x="286.73" y="40.6" width="22.17" height="22.16" fill="#f7fbff"/>
<rect x="308.84" y="40.6" width="22.17" height="22.16" fill="#f6faff"/>
<rect x="330.95" y="40.6" width="22.17" height="22.16" fill="#f6faff"/>
<rect x="353.06" y="40.6" width="22.17" height="22.16" fill="#eaf2fb"/>
<rect x="375.17" y="40.6" width="22.17" height="22.16" fill="#ebf3fb"/>
<rect x="397.29" y="40.6" width="22.17" height="22.16" fill="#f7fbff"/>
<rect x="242.5" y="62.7" width="22.17" height="22.16" fill="#e9f2fa"/>
<rect x="264.61" y="62.7" width="22.17" height="22.16" fill="#f7fbff"/>
<rect x="286.73" y="62.7" width="22.17" height="22.16" fill="#3989c1"/>
<rect x="308.84" y="62.7" width="22.17" height="22.16" fill="#f7fbff"/>
<rect x="330.95" y="62.7" width="22.17" height="22.16" fill="#eff6fc"/>
<rect x="353.06" y="62.7" width="22.17" height="22.16" fill="#f5f9fe"/>
<rect x="375.17" y="62.7" width="22.17" height="22.16" fill="#f6faff"/>
<rect x="397.29" y="62.7" width="22.17" height="22.16" fill="#f7fbff"/>
<rect x="242.5" y="84.8" width="22.17" height="22.16" fill="#f7fbff"/>
<rect x="264.61" y="84.8" width="22.17" height="22.16" fill="#f6faff"/>
<rect x="286.73" y="84.8" width="22.17" height="22.16" fill="#f2f7fd"/>
<rect x="308.84" y="84.8" width="22.17" height="22.16" fill="#3a8ac2"/>
<rect x="330.95" y="84.8" width="22.17" height="22.16" fill="#f5f9fe"/>
<rect x="353.06" y="84.8" width="22.17" height="22.16" fill="#f5f9fe"/>
<rect x="375.17" y="84.8" width="22.17" height="22.16" fill="#d2e3f3"/>
<rect x="397.29" y="84.8" width="22.17" height="22.16" fill="#f7fbff"/>
<rect x="242.5" y="106.9" width="22.17" height="22.16" fill="#cde0f1"/>
<rect x="264.61" y="106.9" width="22.17" height="22.16" fill="#f7fbff"/>
<rect x="286.73" y="106.9" width="22.17" height="22.16" fill="#e7f1fa"/>
<rect x="308.84" y="106.9" width="22.17" height="22.16" fill="#f7fbff"/>
<rect x="330.95" y="106.9" width="22.17" height="22.16" fill="#b9d6ea"/>
<rect x="353.06" y="106.9" width="22.17" height="22.16" fill="#f5f9fe"/>
<rect x="375.17" y="106.9" width="22.17" height="22.16" fill="#f5f9fe"/>
<rect x="397.29" y="106.9" width="22.17" height="22.16" fill="#f7fbff"/>
<rect x="242.5" y="129" width="22.17" height="22.16" fill="#f0f6fd"/>
<rect x="264.61" y="129" width="22.17" height="22.16" fill="#e7f1fa"/>
<rect x="286.73" y="129" width="22.17" height="22.16" fill="#f4f9fe"/>
<rect x="308.84" y="129" width="22.17" height="22.16" fill="#f7fbff"/>
<rect x="330.95" y="129" width="22.17" height="22.16" fill="#f7fbff"/>
<rect x="353.06" y="129" width="22.17" height="22.16" fill="#add0e6"/>
<rect x="375.17" y="129" width="22.17" height="22.16" fill="#eff6fc"/>
<rect x="397.29" y="129" width="22.17" height="22.16" fill="#f7fbff"/>
<rect x="242.5" y="151.1" width="22.17" height="22.16" fill="#e4eff9"/>
<rect x="264.61" y="151.1" width="22.17" height="22.16" fill="#d6e6f4"/>
<rect x="286.73" y="151.1" width="22.17" height="22.16" fill="#f6faff"/>
<rect x="308.84" y="151.1" width="22.17" height="22.16" fill="#d8e7f5"/>
<rect x="330.95" y="151.1" width="22.17" height="22.16" fill="#f7fbff"/>
<rect x="353.06" y="151.1" width="22.17" height="22.16" fill="#d6e6f4"/>
<rect x="375.17" y="151.1" width="22.17" height="22.16" fill="#08306b"/>
<rect x="397.29" y="151.1" width="22.17" height="22.16" fill="#f6faff"/>
<rect x="242.5" y="173.2" width="22.17" height="22.16" fill="#add0e6"/>
<rect x="264.61" y="173.2" width="22.17" height="22.16" fill="#f7fbff"/>
<rect x="286.73" y="173.2" width="22.17" height="22.16" fill="#f7fbff"/>
<rect x="308.84" y="173.2" width="22.17" height="22.16" fill="#f4f9fe"/>
<rect x="330.95" y="173.2" width="22.17" height="22.16" fill="#eff6fc"/>
<rect x="353.06" y="173.2" width="22.17" height="22.16" fill="#f7fbff"/>
<rect x="375.17" y="173.2" width="22.17" height="22.16" fill="#f7fbff"/>
<rect x="397.29" y="173.2" width="22.17" height="22.16" fill="#91c3de"/>
<text transform="translate(253.56 32.28) scale(1.01 1.01)" font-size="8.5" text-anchor="middle" fill="#f7fbff" textLength="13.74" lengthAdjust="spacingAndGlyphs">105</text>
<text transform="translate(275.67 32.28) scale(1.01 1.01)" font-size="8.5" text-anchor="middle" fill="#262626" textLength="4.58" lengthAdjust="spacingAndGlyphs">0</text>
<text transform="translate(297.78 32.28) scale(1.01 1.01)" font-size="8.5" text-anchor="middle" fill="#262626" textLength="4.58" lengthAdjust="spacingAndGlyphs">2</text>
<text transform="translate(319.89 32.28) scale(1.01 1.01)" font-size="8.5" text-anchor="middle" fill="#262626" textLength="4.58" lengthAdjust="spacingAndGlyphs">0</text>
<text transform="translate(342.01 32.28) scale(1.01 1.01)" font-size="8.5" text-anchor="middle" fill="#262626" textLength="4.58" lengthAdjust="spacingAndGlyphs">9</text>
<text transform="translate(364.12 32.28) scale(1.01 1.01)" font-size="8.5" text-anchor="middle" fill="#262626" textLength="4.58" lengthAdjust="spacingAndGlyphs">1</text>
<text transform="translate(386.23 32.28) scale(1.01 1.01)" font-size="8.5" text-anchor="middle" fill="#262626" textLength="4.58" lengthAdjust="spacingAndGlyphs">2</text>
<text transform="translate(408.34 32.28) scale(1.01 1.01)" font-size="8.5" text-anchor="middle" fill="#262626" textLength="4.58" lengthAdjust="spacingAndGlyphs">0</text>
<text transform="translate(253.56 54.38) scale(1.01 1.01)" font-size="8.5" text-anchor="middle" fill="#262626" textLength="9.16" lengthAdjust="spacingAndGlyphs">11</text>
<text transform="translate(275.67 54.38) scale(1.01 1.01)" font-size="8.5" text-anchor="middle" fill="#262626" textLength="9.16" lengthAdjust="spacingAndGlyphs">31</text>
<text transform="translate(297.78 54.38) scale(1.01 1.01)" font-size="8.5" text-anchor="middle" fill="#262626" textLength="4.58" lengthAdjust="spacingAndGlyphs">0</text>
<text transform="translate(319.89 54.38) scale(1.01 1.01)" font-size="8.5" text-anchor="middle" fill="#262626" textLength="4.58" lengthAdjust="spacingAndGlyphs">1</text>
<text transform="translate(342.01 54.38) scale(1.01 1.01)" font-size="8.5" text-anchor="middle" fill="#262626" textLength="4.58" lengthAdjust="spacingAndGlyphs">1</text>
<text transform="translate(364.12 54.38) scale(1.01 1.01)" font-size="8.5" text-anchor="middle" fill="#262626" textLength="9.16" lengthAdjust="spacingAndGlyphs">11</text>
<text transform="translate(386.23 54.38) scale(1.01 1.01)" font-size="8.5" text-anchor="middle" fill="#262626" textLength="9.16" lengthAdjust="spacingAndGlyphs">10</text>
<text transform="translate(408.34 54.38) scale(1.01 1.01)" font-size="8.5" text-anchor="middle" fill="#262626" textLength="4.58" lengthAdjust="spacingAndGlyphs">0</text>
<text transform="translate(253.56 76.48) scale(1.01 1.01)" font-size="8.5" text-anchor="middle" fill="#262626" textLength="9.16" lengthAdjust="spacingAndGlyphs">12</text>
<text transform="translate(275.67 76.48) scale(1.01 1.01)" font-size="8.5" text-anchor="middle" fill="#262626" textLength="4.58" lengthAdjust="spacingAndGlyphs">0</text>
<text transform="translate(297.78 76.48) scale(1.01 1.01)" font-size="8.5" text-anchor="middle" fill="#f7fbff" textLength="13.74" lengthAdjust="spacingAndGlyphs">108</text>
<text transform="translate(319.89 76.48) scale(1.01 1.01)" font-size="8.5" text-anchor="middle" fill="#262626" textLength="4.58" lengthAdjust="spacingAndGlyphs">0</text>
<text transform="translate(342.01 76.48) scale(1.01 1.01)" font-size="8.5" text-anchor="middle" fill="#262626" textLength="4.58" lengthAdjust="spacingAndGlyphs">7</text>
<text transform="translate(364.12 76.48) scale(1.01 1.01)" font-size="8.5" text-anchor="middle" fill="#262626" textLength="4.58" lengthAdjust="spacingAndGlyphs">2</text>
<text transform="translate(386.23 76.48) scale(1.01 1.01)" font-size="8.5" text-anchor="middle" fill="#262626" textLength="4.58" lengthAdjust="spacingAndGlyphs">1</text>
<text transform="translate(408.34 76.48) scale(1.01 1.01)" font-size="8.5" text-anchor="middle" fill="#262626" textLength="4.58" lengthAdjust="spacingAndGlyphs">0</text>
<text transform="translate(253.56 98.58) scale(1.01 1.01)" font-size="8.5" text-anchor="middle" fill="#262626" textLength="4.58" lengthAdjust="spacingAndGlyphs">0</text>
<text transform="translate(275.67 98.58) scale(1.01 1.01)" font-size="8.5" text-anchor="middle" fill="#262626" textLength="4.58" lengthAdjust="spacingAndGlyphs">1</text>
<text transform="translate(297.78 98.58) scale(1.01 1.01)" font-size="8.5" text-anchor="middle" fill="#262626" textLength="4.58" lengthAdjust="spacingAndGlyphs">5</text>
<text transform="translate(319.89 98.58) scale(1.01 1.01)" font-size="8.5" text-anchor="middle" fill="#f7fbff" textLength="13.74" lengthAdjust="spacingAndGlyphs">107</text>
<text transform="translate(342.01 98.58) scale(1.01 1.01)" font-size="8.5" text-anchor="middle" fill="#262626" textLength="4.58" lengthAdjust="spacingAndGlyphs">2</text>
<text transform="translate(364.12 98.58) scale(1.01 1.01)" font-size="8.5" text-anchor="middle" fill="#262626" textLength="4.58" lengthAdjust="spacingAndGlyphs">2</text>
<text transform="translate(386.23 98.58) scale(1.01 1.01)" font-size="8.5" text-anchor="middle" fill="#262626" textLength="9.16" lengthAdjust="spacingAndGlyphs">31</text>
<text transform="translate(408.34 98.58) scale(1.01 1.01)" font-size="8.5" text-anchor="middle" fill="#262626" textLength="4.58" lengthAdjust="spacingAndGlyphs">0</text>
<text transform="translate(253.56 120.68) scale(1.01 1.01)" font-size="8.5" text-anchor="middle" fill="#262626" textLength="9.16" lengthAdjust="spacingAndGlyphs">35</text>
<text transform="translate(275.67 120.68) scale(1.01 1.01)" font-size="8.5" text-anchor="middle" fill="#262626" textLength="4.58" lengthAdjust="spacingAndGlyphs">0</text>
<text transform="translate(297.78 120.68) scale(1.01 1.01)" font-size="8.5" text-anchor="middle" fill="#262626" textLength="9.16" lengthAdjust="spacingAndGlyphs">13</text>
<text transform="translate(319.89 120.68) scale(1.01 1.01)" font-size="8.5" text-anchor="middle" fill="#262626" textLength="4.58" lengthAdjust="spacingAndGlyphs">0</text>
<text transform="translate(342.01 120.68) scale(1.01 1.01)" font-size="8.5" text-anchor="middle" fill="#262626" textLength="9.16" lengthAdjust="spacingAndGlyphs">48</text>
<text transform="translate(364.12 120.68) scale(1.01 1.01)" font-size="8.5" text-anchor="middle" fill="#262626" textLength="4.58" lengthAdjust="spacingAndGlyphs">2</text>
<text transform="translate(386.23 120.68) scale(1.01 1.01)" font-size="8.5" text-anchor="middle" fill="#262626" textLength="4.58" lengthAdjust="spacingAndGlyphs">2</text>
<text transform="translate(408.34 120.68) scale(1.01 1.01)" font-size="8.5" text-anchor="middle" fill="#262626" textLength="4.58" lengthAdjust="spacingAndGlyphs">0</text>
<text transform="translate(253.56 142.78) scale(1.01 1.01)" font-size="8.5" text-anchor="middle" fill="#262626" textLength="4.58" lengthAdjust="spacingAndGlyphs">6</text>
<text transform="translate(275.67 142.78) scale(1.01 1.01)" font-size="8.5" text-anchor="middle" fill="#262626" textLength="9.16" lengthAdjust="spacingAndGlyphs">13</text>
<text transform="translate(297.78 142.78) scale(1.01 1.01)" font-size="8.5" text-anchor="middle" fill="#262626" textLength="4.58" lengthAdjust="spacingAndGlyphs">3</text>
<text transform="translate(319.89 142.78) scale(1.01 1.01)" font-size="8.5" text-anchor="middle" fill="#262626" textLength="4.58" lengthAdjust="spacingAndGlyphs">0</text>
<text transform="translate(342.01 142.78) scale(1.01 1.01)" font-size="8.5" text-anchor="middle" fill="#262626" textLength="4.58" lengthAdjust="spacingAndGlyphs">0</text>
<text transform="translate(364.12 142.78) scale(1.01 1.01)" font-size="8.5" text-anchor="middle" fill="#262626" textLength="9.16" lengthAdjust="spacingAndGlyphs">54</text>
<text transform="translate(386.23 142.78) scale(1.01 1.01)" font-size="8.5" text-anchor="middle" fill="#262626" textLength="4.58" lengthAdjust="spacingAndGlyphs">7</text>
<text transform="translate(408.34 142.78) scale(1.01 1.01)" font-size="8.5" text-anchor="middle" fill="#262626" textLength="4.58" lengthAdjust="spacingAndGlyphs">0</text>
<text transform="translate(253.56 164.88) scale(1.01 1.01)" font-size="8.5" text-anchor="middle" fill="#262626" textLength="9.16" lengthAdjust="spacingAndGlyphs">16</text>
<text transform="translate(275.67 164.88) scale(1.01 1.01)" font-size="8.5" text-anchor="middle" fill="#262626" textLength="9.16" lengthAdjust="spacingAndGlyphs">27</text>
<text transform="translate(297.78 164.88) scale(1.01 1.01)" font-size="8.5" text-anchor="middle" fill="#262626" textLength="4.58" lengthAdjust="spacingAndGlyphs">1</text>
<text transform="translate(319.89 164.88) scale(1.01 1.01)" font-size="8.5" text-anchor="middle" fill="#262626" textLength="9.16" lengthAdjust="spacingAndGlyphs">26</text>
<text transform="translate(342.01 164.88) scale(1.01 1.01)" font-size="8.5" text-anchor="middle" fill="#262626" textLength="4.58" lengthAdjust="spacingAndGlyphs">0</text>
<text transform="translate(364.12 164.88) scale(1.01 1.01)" font-size="8.5" text-anchor="middle" fill="#262626" textLength="9.16" lengthAdjust="spacingAndGlyphs">27</text>
<text transform="translate(386.23 164.88) scale(1.01 1.01)" font-size="8.5" text-anchor="middle" fill="#f7fbff" textLength="13.74" lengthAdjust="spacingAndGlyphs">164</text>
<text transform="translate(408.34 164.88) scale(1.01 1.01)" font-size="8.5" text-anchor="middle" fill="#262626" textLength="4.58" lengthAdjust="spacingAndGlyphs">1</text>
<text transform="translate(253.56 186.98) scale(1.01 1.01)" font-size="8.5" text-anchor="middle" fill="#262626" textLength="9.16" lengthAdjust="spacingAndGlyphs">54</text>
<text transform="translate(275.67 186.98) scale(1.01 1.01)" font-size="8.5" text-anchor="middle" fill="#262626" textLength="4.58" lengthAdjust="spacingAndGlyphs">0</text>
<text transform="translate(297.78 186.98) scale(1.01 1.01)" font-size="8.5" text-anchor="middle" fill="#262626" textLength="4.58" lengthAdjust="spacingAndGlyphs">0</text>
<text transform="translate(319.89 186.98) scale(1.01 1.01)" font-size="8.5" text-anchor="middle" fill="#262626" textLength="4.58" lengthAdjust="spacingAndGlyphs">3</text>
<text transform="translate(342.01 186.98) scale(1.01 1.01)" font-size="8.5" text-anchor="middle" fill="#262626" textLength="4.58" lengthAdjust="spacingAndGlyphs">7</text>
<text transform="translate(364.12 186.98) scale(1.01 1.01)" font-size="8.5" text-anchor="middle" fill="#262626" textLength="4.58" lengthAdjust="spacingAndGlyphs">0</text>
<text transform="translate(386.23 186.98) scale(1.01 1.01)" font-size="8.5" text-anchor="middle" fill="#262626" textLength="4.58" lengthAdjust="spacingAndGlyphs">0</text>
<text transform="translate(408.34 186.98) scale(1.01 1.01)" font-size="8.5" text-anchor="middle" fill="#262626" textLength="9.16" lengthAdjust="spacingAndGlyphs">67</text>
<rect x="242.5" y="18.5" width="176.9" height="176.8" fill="none" stroke="#444" stroke-width="1.2"/>
<line x1="253.56" y1="195.3" x2="253.56" y2="197.12" stroke="#444" stroke-width="0.6"/>
<text transform="translate(253.56 202.4) scale(1.01 1.01)" font-size="5.19" text-anchor="middle" fill="#333" textLength="2.8" lengthAdjust="spacingAndGlyphs">0</text>
<line x1="275.67" y1="195.3" x2="275.67" y2="197.12" stroke="#444" stroke-width="0.6"/>
<text transform="translate(275.67 202.4) scale(1.01 1.01)" font-size="5.19" text-anchor="middle" fill="#333" textLength="2.8" lengthAdjust="spacingAndGlyphs">1</text>
<line x1="297.78" y1="195.3" x2="297.78" y2="197.12" stroke="#444" stroke-width="0.6"/>
<text transform="translate(297.78 202.4) scale(1.01 1.01)" font-size="5.19" text-anchor="middle" fill="#333" textLength="2.8" lengthAdjust="spacingAndGlyphs">2</text>
<line x1="319.89" y1="195.3" x2="319.89" y2="197.12" stroke="#444" stroke-width="0.6"/>
<text transform="translate(319.89 202.4) scale(1.01 1.01)" font-size="5.19" text-anchor="middle" fill="#333" textLength="2.8" lengthAdjust="spacingAndGlyphs">3</text>
<line x1="342.01" y1="195.3" x2="342.01" y2="197.12" stroke="#444" stroke-width="0.6"/>
<text transform="translate(342.01 202.4) scale(1.01 1.01)" font-size="5.19" text-anchor="middle" fill="#333" textLength="2.8" lengthAdjust="spacingAndGlyphs">4</text>
<line x1="364.12" y1="195.3" x2="364.12" y2="197.12" stroke="#444" stroke-width="0.6"/>
<text transform="translate(364.12 202.4) scale(1.01 1.01)" font-size="5.19" text-anchor="middle" fill="#333" textLength="2.8" lengthAdjust="spacingAndGlyphs">5</text>
<line x1="386.23" y1="195.3" x2="386.23" y2="197.12" stroke="#444" stroke-width="0.6"/>
<text transform="translate(386.23 202.4) scale(1.01 1.01)" font-size="5.19" text-anchor="middle" fill="#333" textLength="2.8" lengthAdjust="spacingAndGlyphs">6</text>
<line x1="408.34" y1="195.3" x2="408.34" y2="197.12" stroke="#444" stroke-width="0.6"/>
<text transform="translate(408.34 202.4) scale(1.01 1.01)" font-size="5.19" text-anchor="middle" fill="#333" textLength="2.8" lengthAdjust="spacingAndGlyphs">7</text>
<line x1="240.68" y1="29.55" x2="242.5" y2="29.55" stroke="#444" stroke-width="0.6"/>
<text dy="1.7" transform="translate(238.66 30.05) rotate(-45) scale(1.01 1.01)" font-size="5.97" text-anchor="middle" fill="#2a2a2a" textLength="3.22" lengthAdjust="spacingAndGlyphs">0</text>
<line x1="240.68" y1="51.65" x2="242.5" y2="51.65" stroke="#444" stroke-width="0.6"/>
<text dy="1.7" transform="translate(238.66 52.15) rotate(-45) scale(1.01 1.01)" font-size="5.97" text-anchor="middle" fill="#2a2a2a" textLength="3.22" lengthAdjust="spacingAndGlyphs">1</text>
<line x1="240.68" y1="73.75" x2="242.5" y2="73.75" stroke="#444" stroke-width="0.6"/>
<text dy="1.7" transform="translate(238.66 74.25) rotate(-45) scale(1.01 1.01)" font-size="5.97" text-anchor="middle" fill="#2a2a2a" textLength="3.22" lengthAdjust="spacingAndGlyphs">2</text>
<line x1="240.68" y1="95.85" x2="242.5" y2="95.85" stroke="#444" stroke-width="0.6"/>
<text dy="1.7" transform="translate(238.66 96.35) rotate(-45) scale(1.01 1.01)" font-size="5.97" text-anchor="middle" fill="#2a2a2a" textLength="3.22" lengthAdjust="spacingAndGlyphs">3</text>
<line x1="240.68" y1="117.95" x2="242.5" y2="117.95" stroke="#444" stroke-width="0.6"/>
<text dy="1.7" transform="translate(238.66 118.45) rotate(-45) scale(1.01 1.01)" font-size="5.97" text-anchor="middle" fill="#2a2a2a" textLength="3.22" lengthAdjust="spacingAndGlyphs">4</text>
<line x1="240.68" y1="140.05" x2="242.5" y2="140.05" stroke="#444" stroke-width="0.6"/>
<text dy="1.7" transform="translate(238.66 140.55) rotate(-45) scale(1.01 1.01)" font-size="5.97" text-anchor="middle" fill="#2a2a2a" textLength="3.22" lengthAdjust="spacingAndGlyphs">5</text>
<line x1="240.68" y1="162.15" x2="242.5" y2="162.15" stroke="#444" stroke-width="0.6"/>
<text dy="1.7" transform="translate(238.66 162.65) rotate(-45) scale(1.01 1.01)" font-size="5.97" text-anchor="middle" fill="#2a2a2a" textLength="3.22" lengthAdjust="spacingAndGlyphs">6</text>
<line x1="240.68" y1="184.25" x2="242.5" y2="184.25" stroke="#444" stroke-width="0.6"/>
<text dy="1.7" transform="translate(238.66 184.75) rotate(-45) scale(1.01 1.01)" font-size="5.97" text-anchor="middle" fill="#2a2a2a" textLength="3.22" lengthAdjust="spacingAndGlyphs">7</text>
<text transform="translate(330.95 16.08) scale(1.01 1.01)" font-size="9.09" text-anchor="middle" fill="#1a1a1a" stroke="#1a1a1a" stroke-width="0.14" textLength="76.97" lengthAdjust="spacingAndGlyphs">Confusion matrix</text>
<text transform="translate(330.95 210.05) scale(1.01 1.01)" font-size="7.34" text-anchor="middle" fill="#2a2a2a" stroke="#2a2a2a" stroke-width="0.1" textLength="55.97" lengthAdjust="spacingAndGlyphs">Predicted Labels</text>
<text transform="translate(232.8 106.9) rotate(-90) scale(1.01 1.01)" font-size="7.34" text-anchor="middle" fill="#2a2a2a" stroke="#2a2a2a" stroke-width="0.1" textLength="38.49" lengthAdjust="spacingAndGlyphs">True Labels</text>
<rect x="432.3" y="18.5" width="9.1" height="176.8" fill="url(#gB)"/>
<rect x="432.3" y="18.5" width="9.1" height="176.8" fill="none" stroke="#333" stroke-width="1.1"/>
<line x1="441.4" y1="195.3" x2="442.82" y2="195.3" stroke="#444" stroke-width="0.5"/>
<text transform="translate(445.34 197.12) scale(1.01 1.01)" font-size="5.07" text-anchor="start" fill="#2a2a2a" textLength="2.74" lengthAdjust="spacingAndGlyphs">0</text>
<line x1="441.4" y1="173.74" x2="442.82" y2="173.74" stroke="#444" stroke-width="0.5"/>
<text transform="translate(445.34 175.56) scale(1.01 1.01)" font-size="5.07" text-anchor="start" fill="#2a2a2a" textLength="5.47" lengthAdjust="spacingAndGlyphs">20</text>
<line x1="441.4" y1="152.18" x2="442.82" y2="152.18" stroke="#444" stroke-width="0.5"/>
<text transform="translate(445.34 154) scale(1.01 1.01)" font-size="5.07" text-anchor="start" fill="#2a2a2a" textLength="5.47" lengthAdjust="spacingAndGlyphs">40</text>
<line x1="441.4" y1="130.62" x2="442.82" y2="130.62" stroke="#444" stroke-width="0.5"/>
<text transform="translate(445.34 132.44) scale(1.01 1.01)" font-size="5.07" text-anchor="start" fill="#2a2a2a" textLength="5.47" lengthAdjust="spacingAndGlyphs">60</text>
<line x1="441.4" y1="109.06" x2="442.82" y2="109.06" stroke="#444" stroke-width="0.5"/>
<text transform="translate(445.34 110.87) scale(1.01 1.01)" font-size="5.07" text-anchor="start" fill="#2a2a2a" textLength="5.47" lengthAdjust="spacingAndGlyphs">80</text>
<line x1="441.4" y1="87.5" x2="442.82" y2="87.5" stroke="#444" stroke-width="0.5"/>
<text transform="translate(445.34 89.31) scale(1.01 1.01)" font-size="5.07" text-anchor="start" fill="#2a2a2a" textLength="8.21" lengthAdjust="spacingAndGlyphs">100</text>
<line x1="441.4" y1="65.93" x2="442.82" y2="65.93" stroke="#444" stroke-width="0.5"/>
<text transform="translate(445.34 67.75) scale(1.01 1.01)" font-size="5.07" text-anchor="start" fill="#2a2a2a" textLength="8.21" lengthAdjust="spacingAndGlyphs">120</text>
<line x1="441.4" y1="44.37" x2="442.82" y2="44.37" stroke="#444" stroke-width="0.5"/>
<text transform="translate(445.34 46.19) scale(1.01 1.01)" font-size="5.07" text-anchor="start" fill="#2a2a2a" textLength="8.21" lengthAdjust="spacingAndGlyphs">140</text>
<line x1="441.4" y1="22.81" x2="442.82" y2="22.81" stroke="#444" stroke-width="0.5"/>
<text transform="translate(445.34 24.63) scale(1.01 1.01)" font-size="5.07" text-anchor="start" fill="#2a2a2a" textLength="8.21" lengthAdjust="spacingAndGlyphs">160</text>
<rect x="470.7" y="18.6" width="22.32" height="22.36" fill="#77b5d9"/>
<rect x="492.96" y="18.6" width="22.32" height="22.36" fill="#f7fbff"/>
<rect x="515.23" y="18.6" width="22.32" height="22.36" fill="#f7fbff"/>
<rect x="537.49" y="18.6" width="22.32" height="22.36" fill="#f7fbff"/>
<rect x="559.75" y="18.6" width="22.32" height="22.36" fill="#f5fafe"/>
<rect x="582.01" y="18.6" width="22.32" height="22.36" fill="#f7fbff"/>
<rect x="604.27" y="18.6" width="22.32" height="22.36" fill="#f6faff"/>
<rect x="626.54" y="18.6" width="22.32" height="22.36" fill="#f4f9fe"/>
<rect x="470.7" y="40.9" width="22.32" height="22.36" fill="#f4f9fe"/>
<rect x="492.96" y="40.9" width="22.32" height="22.36" fill="#d9e7f5"/>
<rect x="515.23" y="40.9" width="22.32" height="22.36" fill="#f7fbff"/>
<rect x="537.49" y="40.9" width="22.32" height="22.36" fill="#f7fbff"/>
<rect x="559.75" y="40.9" width="22.32" height="22.36" fill="#f7fbff"/>
<rect x="582.01" y="40.9" width="22.32" height="22.36" fill="#f5fafe"/>
<rect x="604.27" y="40.9" width="22.32" height="22.36" fill="#e5eff9"/>
<rect x="626.54" y="40.9" width="22.32" height="22.36" fill="#f7fbff"/>
<rect x="470.7" y="63.2" width="22.32" height="22.36" fill="#f3f8fe"/>
<rect x="492.96" y="63.2" width="22.32" height="22.36" fill="#f7fbff"/>
<rect x="515.23" y="63.2" width="22.32" height="22.36" fill="#6fb0d7"/>
<rect x="537.49" y="63.2" width="22.32" height="22.36" fill="#f7fbff"/>
<rect x="559.75" y="63.2" width="22.32" height="22.36" fill="#f1f7fd"/>
<rect x="582.01" y="63.2" width="22.32" height="22.36" fill="#f7fbff"/>
<rect x="604.27" y="63.2" width="22.32" height="22.36" fill="#f7fbff"/>
<rect x="626.54" y="63.2" width="22.32" height="22.36" fill="#f7fbff"/>
<rect x="470.7" y="85.5" width="22.32" height="22.36" fill="#f7fbff"/>
<rect x="492.96" y="85.5" width="22.32" height="22.36" fill="#f7fbff"/>
<rect x="515.23" y="85.5" width="22.32" height="22.36" fill="#f6faff"/>
<rect x="537.49" y="85.5" width="22.32" height="22.36" fill="#529dcc"/>
<rect x="559.75" y="85.5" width="22.32" height="22.36" fill="#f2f8fd"/>
<rect x="582.01" y="85.5" width="22.32" height="22.36" fill="#f7fbff"/>
<rect x="604.27" y="85.5" width="22.32" height="22.36" fill="#f4f9fe"/>
<rect x="626.54" y="85.5" width="22.32" height="22.36" fill="#f7fbff"/>
<rect x="470.7" y="107.8" width="22.32" height="22.36" fill="#eaf3fb"/>
<rect x="492.96" y="107.8" width="22.32" height="22.36" fill="#f7fbff"/>
<rect x="515.23" y="107.8" width="22.32" height="22.36" fill="#f1f7fd"/>
<rect x="537.49" y="107.8" width="22.32" height="22.36" fill="#f7fbff"/>
<rect x="559.75" y="107.8" width="22.32" height="22.36" fill="#b2d2e8"/>
<rect x="582.01" y="107.8" width="22.32" height="22.36" fill="#f7fbff"/>
<rect x="604.27" y="107.8" width="22.32" height="22.36" fill="#f7fbff"/>
<rect x="626.54" y="107.8" width="22.32" height="22.36" fill="#f5fafe"/>
<rect x="470.7" y="130.1" width="22.32" height="22.36" fill="#f7fbff"/>
<rect x="492.96" y="130.1" width="22.32" height="22.36" fill="#f5f9fe"/>
<rect x="515.23" y="130.1" width="22.32" height="22.36" fill="#f6faff"/>
<rect x="537.49" y="130.1" width="22.32" height="22.36" fill="#f7fbff"/>
<rect x="559.75" y="130.1" width="22.32" height="22.36" fill="#f6faff"/>
<rect x="582.01" y="130.1" width="22.32" height="22.36" fill="#cde0f1"/>
<rect x="604.27" y="130.1" width="22.32" height="22.36" fill="#e3eef8"/>
<rect x="626.54" y="130.1" width="22.32" height="22.36" fill="#f5fafe"/>
<rect x="470.7" y="152.4" width="22.32" height="22.36" fill="#f5f9fe"/>
<rect x="492.96" y="152.4" width="22.32" height="22.36" fill="#f1f7fd"/>
<rect x="515.23" y="152.4" width="22.32" height="22.36" fill="#f7fbff"/>
<rect x="537.49" y="152.4" width="22.32" height="22.36" fill="#f4f9fe"/>
<rect x="559.75" y="152.4" width="22.32" height="22.36" fill="#f7fbff"/>
<rect x="582.01" y="152.4" width="22.32" height="22.36" fill="#f1f7fd"/>
<rect x="604.27" y="152.4" width="22.32" height="22.36" fill="#08306b"/>
<rect x="626.54" y="152.4" width="22.32" height="22.36" fill="#f6faff"/>
<rect x="470.7" y="174.7" width="22.32" height="22.36" fill="#f7fbff"/>
<rect x="492.96" y="174.7" width="22.32" height="22.36" fill="#f7fbff"/>
<rect x="515.23" y="174.7" width="22.32" height="22.36" fill="#f7fbff"/>
<rect x="537.49" y="174.7" width="22.32" height="22.36" fill="#f7fbff"/>
<rect x="559.75" y="174.7" width="22.32" height="22.36" fill="#f7fbff"/>
<rect x="582.01" y="174.7" width="22.32" height="22.36" fill="#f7fbff"/>
<rect x="604.27" y="174.7" width="22.32" height="22.36" fill="#f7fbff"/>
<rect x="626.54" y="174.7" width="22.32" height="22.36" fill="#5ba3d0"/>
<text transform="translate(481.83 32.5) scale(1.02 1.02)" font-size="8.5" text-anchor="middle" fill="#262626" textLength="13.74" lengthAdjust="spacingAndGlyphs">112</text>
<text transform="translate(504.09 32.5) scale(1.02 1.02)" font-size="8.5" text-anchor="middle" fill="#262626" textLength="4.58" lengthAdjust="spacingAndGlyphs">0</text>
<text transform="translate(526.36 32.5) scale(1.02 1.02)" font-size="8.5" text-anchor="middle" fill="#262626" textLength="4.58" lengthAdjust="spacingAndGlyphs">0</text>
<text transform="translate(548.62 32.5) scale(1.02 1.02)" font-size="8.5" text-anchor="middle" fill="#262626" textLength="4.58" lengthAdjust="spacingAndGlyphs">0</text>
<text transform="translate(570.88 32.5) scale(1.02 1.02)" font-size="8.5" text-anchor="middle" fill="#262626" textLength="4.58" lengthAdjust="spacingAndGlyphs">2</text>
<text transform="translate(593.14 32.5) scale(1.02 1.02)" font-size="8.5" text-anchor="middle" fill="#262626" textLength="4.58" lengthAdjust="spacingAndGlyphs">0</text>
<text transform="translate(615.41 32.5) scale(1.02 1.02)" font-size="8.5" text-anchor="middle" fill="#262626" textLength="4.58" lengthAdjust="spacingAndGlyphs">1</text>
<text transform="translate(637.67 32.5) scale(1.02 1.02)" font-size="8.5" text-anchor="middle" fill="#262626" textLength="4.58" lengthAdjust="spacingAndGlyphs">4</text>
<text transform="translate(481.83 54.8) scale(1.02 1.02)" font-size="8.5" text-anchor="middle" fill="#262626" textLength="4.58" lengthAdjust="spacingAndGlyphs">4</text>
<text transform="translate(504.09 54.8) scale(1.02 1.02)" font-size="8.5" text-anchor="middle" fill="#262626" textLength="9.16" lengthAdjust="spacingAndGlyphs">37</text>
<text transform="translate(526.36 54.8) scale(1.02 1.02)" font-size="8.5" text-anchor="middle" fill="#262626" textLength="4.58" lengthAdjust="spacingAndGlyphs">0</text>
<text transform="translate(548.62 54.8) scale(1.02 1.02)" font-size="8.5" text-anchor="middle" fill="#262626" textLength="4.58" lengthAdjust="spacingAndGlyphs">0</text>
<text transform="translate(570.88 54.8) scale(1.02 1.02)" font-size="8.5" text-anchor="middle" fill="#262626" textLength="4.58" lengthAdjust="spacingAndGlyphs">0</text>
<text transform="translate(593.14 54.8) scale(1.02 1.02)" font-size="8.5" text-anchor="middle" fill="#262626" textLength="4.58" lengthAdjust="spacingAndGlyphs">2</text>
<text transform="translate(615.41 54.8) scale(1.02 1.02)" font-size="8.5" text-anchor="middle" fill="#262626" textLength="9.16" lengthAdjust="spacingAndGlyphs">22</text>
<text transform="translate(637.67 54.8) scale(1.02 1.02)" font-size="8.5" text-anchor="middle" fill="#262626" textLength="4.58" lengthAdjust="spacingAndGlyphs">0</text>
<text transform="translate(481.83 77.1) scale(1.02 1.02)" font-size="8.5" text-anchor="middle" fill="#262626" textLength="4.58" lengthAdjust="spacingAndGlyphs">5</text>
<text transform="translate(504.09 77.1) scale(1.02 1.02)" font-size="8.5" text-anchor="middle" fill="#262626" textLength="4.58" lengthAdjust="spacingAndGlyphs">0</text>
<text transform="translate(526.36 77.1) scale(1.02 1.02)" font-size="8.5" text-anchor="middle" fill="#f7fbff" textLength="13.74" lengthAdjust="spacingAndGlyphs">117</text>
<text transform="translate(548.62 77.1) scale(1.02 1.02)" font-size="8.5" text-anchor="middle" fill="#262626" textLength="4.58" lengthAdjust="spacingAndGlyphs">0</text>
<text transform="translate(570.88 77.1) scale(1.02 1.02)" font-size="8.5" text-anchor="middle" fill="#262626" textLength="4.58" lengthAdjust="spacingAndGlyphs">8</text>
<text transform="translate(593.14 77.1) scale(1.02 1.02)" font-size="8.5" text-anchor="middle" fill="#262626" textLength="4.58" lengthAdjust="spacingAndGlyphs">0</text>
<text transform="translate(615.41 77.1) scale(1.02 1.02)" font-size="8.5" text-anchor="middle" fill="#262626" textLength="4.58" lengthAdjust="spacingAndGlyphs">0</text>
<text transform="translate(637.67 77.1) scale(1.02 1.02)" font-size="8.5" text-anchor="middle" fill="#262626" textLength="4.58" lengthAdjust="spacingAndGlyphs">0</text>
<text transform="translate(481.83 99.4) scale(1.02 1.02)" font-size="8.5" text-anchor="middle" fill="#262626" textLength="4.58" lengthAdjust="spacingAndGlyphs">0</text>
<text transform="translate(504.09 99.4) scale(1.02 1.02)" font-size="8.5" text-anchor="middle" fill="#262626" textLength="4.58" lengthAdjust="spacingAndGlyphs">0</text>
<text transform="translate(526.36 99.4) scale(1.02 1.02)" font-size="8.5" text-anchor="middle" fill="#262626" textLength="4.58" lengthAdjust="spacingAndGlyphs">1</text>
<text transform="translate(548.62 99.4) scale(1.02 1.02)" font-size="8.5" text-anchor="middle" fill="#f7fbff" textLength="13.74" lengthAdjust="spacingAndGlyphs">137</text>
<text transform="translate(570.88 99.4) scale(1.02 1.02)" font-size="8.5" text-anchor="middle" fill="#262626" textLength="4.58" lengthAdjust="spacingAndGlyphs">6</text>
<text transform="translate(593.14 99.4) scale(1.02 1.02)" font-size="8.5" text-anchor="middle" fill="#262626" textLength="4.58" lengthAdjust="spacingAndGlyphs">0</text>
<text transform="translate(615.41 99.4) scale(1.02 1.02)" font-size="8.5" text-anchor="middle" fill="#262626" textLength="4.58" lengthAdjust="spacingAndGlyphs">4</text>
<text transform="translate(637.67 99.4) scale(1.02 1.02)" font-size="8.5" text-anchor="middle" fill="#262626" textLength="4.58" lengthAdjust="spacingAndGlyphs">0</text>
<text transform="translate(481.83 121.7) scale(1.02 1.02)" font-size="8.5" text-anchor="middle" fill="#262626" textLength="9.16" lengthAdjust="spacingAndGlyphs">15</text>
<text transform="translate(504.09 121.7) scale(1.02 1.02)" font-size="8.5" text-anchor="middle" fill="#262626" textLength="4.58" lengthAdjust="spacingAndGlyphs">0</text>
<text transform="translate(526.36 121.7) scale(1.02 1.02)" font-size="8.5" text-anchor="middle" fill="#262626" textLength="4.58" lengthAdjust="spacingAndGlyphs">8</text>
<text transform="translate(548.62 121.7) scale(1.02 1.02)" font-size="8.5" text-anchor="middle" fill="#262626" textLength="4.58" lengthAdjust="spacingAndGlyphs">0</text>
<text transform="translate(570.88 121.7) scale(1.02 1.02)" font-size="8.5" text-anchor="middle" fill="#262626" textLength="9.16" lengthAdjust="spacingAndGlyphs">75</text>
<text transform="translate(593.14 121.7) scale(1.02 1.02)" font-size="8.5" text-anchor="middle" fill="#262626" textLength="4.58" lengthAdjust="spacingAndGlyphs">0</text>
<text transform="translate(615.41 121.7) scale(1.02 1.02)" font-size="8.5" text-anchor="middle" fill="#262626" textLength="4.58" lengthAdjust="spacingAndGlyphs">0</text>
<text transform="translate(637.67 121.7) scale(1.02 1.02)" font-size="8.5" text-anchor="middle" fill="#262626" textLength="4.58" lengthAdjust="spacingAndGlyphs">2</text>
<text transform="translate(481.83 144) scale(1.02 1.02)" font-size="8.5" text-anchor="middle" fill="#262626" textLength="4.58" lengthAdjust="spacingAndGlyphs">0</text>
<text transform="translate(504.09 144) scale(1.02 1.02)" font-size="8.5" text-anchor="middle" fill="#262626" textLength="4.58" lengthAdjust="spacingAndGlyphs">3</text>
<text transform="translate(526.36 144) scale(1.02 1.02)" font-size="8.5" text-anchor="middle" fill="#262626" textLength="4.58" lengthAdjust="spacingAndGlyphs">1</text>
<text transform="translate(548.62 144) scale(1.02 1.02)" font-size="8.5" text-anchor="middle" fill="#262626" textLength="4.58" lengthAdjust="spacingAndGlyphs">0</text>
<text transform="translate(570.88 144) scale(1.02 1.02)" font-size="8.5" text-anchor="middle" fill="#262626" textLength="4.58" lengthAdjust="spacingAndGlyphs">1</text>
<text transform="translate(593.14 144) scale(1.02 1.02)" font-size="8.5" text-anchor="middle" fill="#262626" textLength="9.16" lengthAdjust="spacingAndGlyphs">51</text>
<text transform="translate(615.41 144) scale(1.02 1.02)" font-size="8.5" text-anchor="middle" fill="#262626" textLength="9.16" lengthAdjust="spacingAndGlyphs">25</text>
<text transform="translate(637.67 144) scale(1.02 1.02)" font-size="8.5" text-anchor="middle" fill="#262626" textLength="4.58" lengthAdjust="spacingAndGlyphs">2</text>
<text transform="translate(481.83 166.3) scale(1.02 1.02)" font-size="8.5" text-anchor="middle" fill="#262626" textLength="4.58" lengthAdjust="spacingAndGlyphs">3</text>
<text transform="translate(504.09 166.3) scale(1.02 1.02)" font-size="8.5" text-anchor="middle" fill="#262626" textLength="4.58" lengthAdjust="spacingAndGlyphs">8</text>
<text transform="translate(526.36 166.3) scale(1.02 1.02)" font-size="8.5" text-anchor="middle" fill="#262626" textLength="4.58" lengthAdjust="spacingAndGlyphs">0</text>
<text transform="translate(548.62 166.3) scale(1.02 1.02)" font-size="8.5" text-anchor="middle" fill="#262626" textLength="4.58" lengthAdjust="spacingAndGlyphs">4</text>
<text transform="translate(570.88 166.3) scale(1.02 1.02)" font-size="8.5" text-anchor="middle" fill="#262626" textLength="4.58" lengthAdjust="spacingAndGlyphs">0</text>
<text transform="translate(593.14 166.3) scale(1.02 1.02)" font-size="8.5" text-anchor="middle" fill="#262626" textLength="4.58" lengthAdjust="spacingAndGlyphs">8</text>
<text transform="translate(615.41 166.3) scale(1.02 1.02)" font-size="8.5" text-anchor="middle" fill="#f7fbff" textLength="13.74" lengthAdjust="spacingAndGlyphs">238</text>
<text transform="translate(637.67 166.3) scale(1.02 1.02)" font-size="8.5" text-anchor="middle" fill="#262626" textLength="4.58" lengthAdjust="spacingAndGlyphs">1</text>
<text transform="translate(481.83 188.6) scale(1.02 1.02)" font-size="8.5" text-anchor="middle" fill="#262626" textLength="4.58" lengthAdjust="spacingAndGlyphs">0</text>
<text transform="translate(504.09 188.6) scale(1.02 1.02)" font-size="8.5" text-anchor="middle" fill="#262626" textLength="4.58" lengthAdjust="spacingAndGlyphs">0</text>
<text transform="translate(526.36 188.6) scale(1.02 1.02)" font-size="8.5" text-anchor="middle" fill="#262626" textLength="4.58" lengthAdjust="spacingAndGlyphs">0</text>
<text transform="translate(548.62 188.6) scale(1.02 1.02)" font-size="8.5" text-anchor="middle" fill="#262626" textLength="4.58" lengthAdjust="spacingAndGlyphs">0</text>
<text transform="translate(570.88 188.6) scale(1.02 1.02)" font-size="8.5" text-anchor="middle" fill="#262626" textLength="4.58" lengthAdjust="spacingAndGlyphs">0</text>
<text transform="translate(593.14 188.6) scale(1.02 1.02)" font-size="8.5" text-anchor="middle" fill="#262626" textLength="4.58" lengthAdjust="spacingAndGlyphs">0</text>
<text transform="translate(615.41 188.6) scale(1.02 1.02)" font-size="8.5" text-anchor="middle" fill="#262626" textLength="4.58" lengthAdjust="spacingAndGlyphs">0</text>
<text transform="translate(637.67 188.6) scale(1.02 1.02)" font-size="8.5" text-anchor="middle" fill="#f7fbff" textLength="13.74" lengthAdjust="spacingAndGlyphs">131</text>
<rect x="470.7" y="18.6" width="178.1" height="178.4" fill="none" stroke="#444" stroke-width="1.2"/>
<line x1="481.83" y1="197" x2="481.83" y2="198.83" stroke="#444" stroke-width="0.6"/>
<text transform="translate(481.83 204.1) scale(1.02 1.02)" font-size="5.19" text-anchor="middle" fill="#333" textLength="2.8" lengthAdjust="spacingAndGlyphs">0</text>
<line x1="504.09" y1="197" x2="504.09" y2="198.83" stroke="#444" stroke-width="0.6"/>
<text transform="translate(504.09 204.1) scale(1.02 1.02)" font-size="5.19" text-anchor="middle" fill="#333" textLength="2.8" lengthAdjust="spacingAndGlyphs">1</text>
<line x1="526.36" y1="197" x2="526.36" y2="198.83" stroke="#444" stroke-width="0.6"/>
<text transform="translate(526.36 204.1) scale(1.02 1.02)" font-size="5.19" text-anchor="middle" fill="#333" textLength="2.8" lengthAdjust="spacingAndGlyphs">2</text>
<line x1="548.62" y1="197" x2="548.62" y2="198.83" stroke="#444" stroke-width="0.6"/>
<text transform="translate(548.62 204.1) scale(1.02 1.02)" font-size="5.19" text-anchor="middle" fill="#333" textLength="2.8" lengthAdjust="spacingAndGlyphs">3</text>
<line x1="570.88" y1="197" x2="570.88" y2="198.83" stroke="#444" stroke-width="0.6"/>
<text transform="translate(570.88 204.1) scale(1.02 1.02)" font-size="5.19" text-anchor="middle" fill="#333" textLength="2.8" lengthAdjust="spacingAndGlyphs">4</text>
<line x1="593.14" y1="197" x2="593.14" y2="198.83" stroke="#444" stroke-width="0.6"/>
<text transform="translate(593.14 204.1) scale(1.02 1.02)" font-size="5.19" text-anchor="middle" fill="#333" textLength="2.8" lengthAdjust="spacingAndGlyphs">5</text>
<line x1="615.41" y1="197" x2="615.41" y2="198.83" stroke="#444" stroke-width="0.6"/>
<text transform="translate(615.41 204.1) scale(1.02 1.02)" font-size="5.19" text-anchor="middle" fill="#333" textLength="2.8" lengthAdjust="spacingAndGlyphs">6</text>
<line x1="637.67" y1="197" x2="637.67" y2="198.83" stroke="#444" stroke-width="0.6"/>
<text transform="translate(637.67 204.1) scale(1.02 1.02)" font-size="5.19" text-anchor="middle" fill="#333" textLength="2.8" lengthAdjust="spacingAndGlyphs">7</text>
<line x1="468.87" y1="29.75" x2="470.7" y2="29.75" stroke="#444" stroke-width="0.6"/>
<text dy="1.7" transform="translate(466.83 30.25) rotate(-45) scale(1.02 1.02)" font-size="5.97" text-anchor="middle" fill="#2a2a2a" textLength="3.22" lengthAdjust="spacingAndGlyphs">0</text>
<line x1="468.87" y1="52.05" x2="470.7" y2="52.05" stroke="#444" stroke-width="0.6"/>
<text dy="1.7" transform="translate(466.83 52.55) rotate(-45) scale(1.02 1.02)" font-size="5.97" text-anchor="middle" fill="#2a2a2a" textLength="3.22" lengthAdjust="spacingAndGlyphs">1</text>
<line x1="468.87" y1="74.35" x2="470.7" y2="74.35" stroke="#444" stroke-width="0.6"/>
<text dy="1.7" transform="translate(466.83 74.85) rotate(-45) scale(1.02 1.02)" font-size="5.97" text-anchor="middle" fill="#2a2a2a" textLength="3.22" lengthAdjust="spacingAndGlyphs">2</text>
<line x1="468.87" y1="96.65" x2="470.7" y2="96.65" stroke="#444" stroke-width="0.6"/>
<text dy="1.7" transform="translate(466.83 97.15) rotate(-45) scale(1.02 1.02)" font-size="5.97" text-anchor="middle" fill="#2a2a2a" textLength="3.22" lengthAdjust="spacingAndGlyphs">3</text>
<line x1="468.87" y1="118.95" x2="470.7" y2="118.95" stroke="#444" stroke-width="0.6"/>
<text dy="1.7" transform="translate(466.83 119.45) rotate(-45) scale(1.02 1.02)" font-size="5.97" text-anchor="middle" fill="#2a2a2a" textLength="3.22" lengthAdjust="spacingAndGlyphs">4</text>
<line x1="468.87" y1="141.25" x2="470.7" y2="141.25" stroke="#444" stroke-width="0.6"/>
<text dy="1.7" transform="translate(466.83 141.75) rotate(-45) scale(1.02 1.02)" font-size="5.97" text-anchor="middle" fill="#2a2a2a" textLength="3.22" lengthAdjust="spacingAndGlyphs">5</text>
<line x1="468.87" y1="163.55" x2="470.7" y2="163.55" stroke="#444" stroke-width="0.6"/>
<text dy="1.7" transform="translate(466.83 164.05) rotate(-45) scale(1.02 1.02)" font-size="5.97" text-anchor="middle" fill="#2a2a2a" textLength="3.22" lengthAdjust="spacingAndGlyphs">6</text>
<line x1="468.87" y1="185.85" x2="470.7" y2="185.85" stroke="#444" stroke-width="0.6"/>
<text dy="1.7" transform="translate(466.83 186.35) rotate(-45) scale(1.02 1.02)" font-size="5.97" text-anchor="middle" fill="#2a2a2a" textLength="3.22" lengthAdjust="spacingAndGlyphs">7</text>
<text transform="translate(559.75 16.15) scale(1.02 1.02)" font-size="9.09" text-anchor="middle" fill="#1a1a1a" stroke="#1a1a1a" stroke-width="0.14" textLength="76.97" lengthAdjust="spacingAndGlyphs">Confusion matrix</text>
<text transform="translate(559.75 211.4) scale(1.02 1.02)" font-size="7.34" text-anchor="middle" fill="#2a2a2a" stroke="#2a2a2a" stroke-width="0.1" textLength="55.97" lengthAdjust="spacingAndGlyphs">Predicted Labels</text>
<text transform="translate(460.93 107.8) rotate(-90) scale(1.02 1.02)" font-size="7.34" text-anchor="middle" fill="#2a2a2a" stroke="#2a2a2a" stroke-width="0.1" textLength="38.49" lengthAdjust="spacingAndGlyphs">True Labels</text>
<rect x="661.3" y="18.6" width="8.2" height="178.4" fill="url(#gC)"/>
<rect x="661.3" y="18.6" width="8.2" height="178.4" fill="none" stroke="#333" stroke-width="1.1"/>
<line x1="669.5" y1="197" x2="670.92" y2="197" stroke="#444" stroke-width="0.5"/>
<text transform="translate(673.47 198.83) scale(1.02 1.02)" font-size="5.07" text-anchor="start" fill="#2a2a2a" textLength="2.74" lengthAdjust="spacingAndGlyphs">0</text>
<line x1="669.5" y1="159.52" x2="670.92" y2="159.52" stroke="#444" stroke-width="0.5"/>
<text transform="translate(673.47 161.36) scale(1.02 1.02)" font-size="5.07" text-anchor="start" fill="#2a2a2a" textLength="5.47" lengthAdjust="spacingAndGlyphs">50</text>
<line x1="669.5" y1="122.04" x2="670.92" y2="122.04" stroke="#444" stroke-width="0.5"/>
<text transform="translate(673.47 123.88) scale(1.02 1.02)" font-size="5.07" text-anchor="start" fill="#2a2a2a" textLength="8.21" lengthAdjust="spacingAndGlyphs">100</text>
<line x1="669.5" y1="84.56" x2="670.92" y2="84.56" stroke="#444" stroke-width="0.5"/>
<text transform="translate(673.47 86.4) scale(1.02 1.02)" font-size="5.07" text-anchor="start" fill="#2a2a2a" textLength="8.21" lengthAdjust="spacingAndGlyphs">150</text>
<line x1="669.5" y1="47.08" x2="670.92" y2="47.08" stroke="#444" stroke-width="0.5"/>
<text transform="translate(673.47 48.92) scale(1.02 1.02)" font-size="5.07" text-anchor="start" fill="#2a2a2a" textLength="8.21" lengthAdjust="spacingAndGlyphs">200</text>
<rect x="19.5" y="233.1" width="22.06" height="22" fill="#5ba3d0"/>
<rect x="41.5" y="233.1" width="22.06" height="22" fill="#f7fbff"/>
<rect x="63.5" y="233.1" width="22.06" height="22" fill="#f7fbff"/>
<rect x="85.5" y="233.1" width="22.06" height="22" fill="#f7fbff"/>
<rect x="107.5" y="233.1" width="22.06" height="22" fill="#eff6fc"/>
<rect x="129.5" y="233.1" width="22.06" height="22" fill="#f6faff"/>
<rect x="151.5" y="233.1" width="22.06" height="22" fill="#f5fafe"/>
<rect x="173.5" y="233.1" width="22.06" height="22" fill="#f6faff"/>
<rect x="19.5" y="255.04" width="22.06" height="22" fill="#f2f7fd"/>
<rect x="41.5" y="255.04" width="22.06" height="22" fill="#cddff1"/>
<rect x="63.5" y="255.04" width="22.06" height="22" fill="#f7fbff"/>
<rect x="85.5" y="255.04" width="22.06" height="22" fill="#f6faff"/>
<rect x="107.5" y="255.04" width="22.06" height="22" fill="#f7fbff"/>
<rect x="129.5" y="255.04" width="22.06" height="22" fill="#f2f7fd"/>
<rect x="151.5" y="255.04" width="22.06" height="22" fill="#edf4fc"/>
<rect x="173.5" y="255.04" width="22.06" height="22" fill="#f7fbff"/>
<rect x="19.5" y="276.98" width="22.06" height="22" fill="#f5f9fe"/>
<rect x="41.5" y="276.98" width="22.06" height="22" fill="#f7fbff"/>
<rect x="63.5" y="276.98" width="22.06" height="22" fill="#61a7d2"/>
<rect x="85.5" y="276.98" width="22.06" height="22" fill="#f7fbff"/>
<rect x="107.5" y="276.98" width="22.06" height="22" fill="#dfecf7"/>
<rect x="129.5" y="276.98" width="22.06" height="22" fill="#f6faff"/>
<rect x="151.5" y="276.98" width="22.06" height="22" fill="#f7fbff"/>
<rect x="173.5" y="276.98" width="22.06" height="22" fill="#f7fbff"/>
<rect x="19.5" y="298.91" width="22.06" height="22" fill="#f7fbff"/>
<rect x="41.5" y="298.91" width="22.06" height="22" fill="#f7fbff"/>
<rect x="63.5" y="298.91" width="22.06" height="22" fill="#f7fbff"/>
<rect x="85.5" y="298.91" width="22.06" height="22" fill="#2676b8"/>
<rect x="107.5" y="298.91" width="22.06" height="22" fill="#f6faff"/>
<rect x="129.5" y="298.91" width="22.06" height="22" fill="#f6faff"/>
<rect x="151.5" y="298.91" width="22.06" height="22" fill="#f3f8fe"/>
<rect x="173.5" y="298.91" width="22.06" height="22" fill="#f7fbff"/>
<rect x="19.5" y="320.85" width="22.06" height="22" fill="#e1edf8"/>
<rect x="41.5" y="320.85" width="22.06" height="22" fill="#f7fbff"/>
<rect x="63.5" y="320.85" width="22.06" height="22" fill="#edf4fc"/>
<rect x="85.5" y="320.85" width="22.06" height="22" fill="#f7fbff"/>
<rect x="107.5" y="320.85" width="22.06" height="22" fill="#a6cee4"/>
<rect x="129.5" y="320.85" width="22.06" height="22" fill="#f7fbff"/>
<rect x="151.5" y="320.85" width="22.06" height="22" fill="#f7fbff"/>
<rect x="173.5" y="320.85" width="22.06" height="22" fill="#f7fbff"/>
<rect x="19.5" y="342.79" width="22.06" height="22" fill="#f5f9fe"/>
<rect x="41.5" y="342.79" width="22.06" height="22" fill="#e9f2fa"/>
<rect x="63.5" y="342.79" width="22.06" height="22" fill="#f6faff"/>
<rect x="85.5" y="342.79" width="22.06" height="22" fill="#f5fafe"/>
<rect x="107.5" y="342.79" width="22.06" height="22" fill="#f6faff"/>
<rect x="129.5" y="342.79" width="22.06" height="22" fill="#bad6eb"/>
<rect x="151.5" y="342.79" width="22.06" height="22" fill="#f2f7fd"/>
<rect x="173.5" y="342.79" width="22.06" height="22" fill="#f7fbff"/>
<rect x="19.5" y="364.73" width="22.06" height="22" fill="#f2f7fd"/>
<rect x="41.5" y="364.73" width="22.06" height="22" fill="#deebf7"/>
<rect x="63.5" y="364.73" width="22.06" height="22" fill="#f6faff"/>
<rect x="85.5" y="364.73" width="22.06" height="22" fill="#edf4fc"/>
<rect x="107.5" y="364.73" width="22.06" height="22" fill="#f7fbff"/>
<rect x="129.5" y="364.73" width="22.06" height="22" fill="#e1edf8"/>
<rect x="151.5" y="364.73" width="22.06" height="22" fill="#08306b"/>
<rect x="173.5" y="364.73" width="22.06" height="22" fill="#f5f9fe"/>
<rect x="19.5" y="386.66" width="22.06" height="22" fill="#d4e4f4"/>
<rect x="41.5" y="386.66" width="22.06" height="22" fill="#f7fbff"/>
<rect x="63.5" y="386.66" width="22.06" height="22" fill="#f6faff"/>
<rect x="85.5" y="386.66" width="22.06" height="22" fill="#f3f8fe"/>
<rect x="107.5" y="386.66" width="22.06" height="22" fill="#f0f6fd"/>
<rect x="129.5" y="386.66" width="22.06" height="22" fill="#f7fbff"/>
<rect x="151.5" y="386.66" width="22.06" height="22" fill="#f7fbff"/>
<rect x="173.5" y="386.66" width="22.06" height="22" fill="#87bddc"/>
<text transform="translate(30.5 246.78) scale(1.01 1)" font-size="8.5" text-anchor="middle" fill="#f7fbff" textLength="13.74" lengthAdjust="spacingAndGlyphs">107</text>
<text transform="translate(52.5 246.78) scale(1.01 1)" font-size="8.5" text-anchor="middle" fill="#262626" textLength="4.58" lengthAdjust="spacingAndGlyphs">0</text>
<text transform="translate(74.5 246.78) scale(1.01 1)" font-size="8.5" text-anchor="middle" fill="#262626" textLength="4.58" lengthAdjust="spacingAndGlyphs">0</text>
<text transform="translate(96.5 246.78) scale(1.01 1)" font-size="8.5" text-anchor="middle" fill="#262626" textLength="4.58" lengthAdjust="spacingAndGlyphs">0</text>
<text transform="translate(118.5 246.78) scale(1.01 1)" font-size="8.5" text-anchor="middle" fill="#262626" textLength="4.58" lengthAdjust="spacingAndGlyphs">8</text>
<text transform="translate(140.5 246.78) scale(1.01 1)" font-size="8.5" text-anchor="middle" fill="#262626" textLength="4.58" lengthAdjust="spacingAndGlyphs">1</text>
<text transform="translate(162.5 246.78) scale(1.01 1)" font-size="8.5" text-anchor="middle" fill="#262626" textLength="4.58" lengthAdjust="spacingAndGlyphs">2</text>
<text transform="translate(184.5 246.78) scale(1.01 1)" font-size="8.5" text-anchor="middle" fill="#262626" textLength="4.58" lengthAdjust="spacingAndGlyphs">1</text>
<text transform="translate(30.5 268.71) scale(1.01 1)" font-size="8.5" text-anchor="middle" fill="#262626" textLength="4.58" lengthAdjust="spacingAndGlyphs">6</text>
<text transform="translate(52.5 268.71) scale(1.01 1)" font-size="8.5" text-anchor="middle" fill="#262626" textLength="9.16" lengthAdjust="spacingAndGlyphs">42</text>
<text transform="translate(74.5 268.71) scale(1.01 1)" font-size="8.5" text-anchor="middle" fill="#262626" textLength="4.58" lengthAdjust="spacingAndGlyphs">0</text>
<text transform="translate(96.5 268.71) scale(1.01 1)" font-size="8.5" text-anchor="middle" fill="#262626" textLength="4.58" lengthAdjust="spacingAndGlyphs">1</text>
<text transform="translate(118.5 268.71) scale(1.01 1)" font-size="8.5" text-anchor="middle" fill="#262626" textLength="4.58" lengthAdjust="spacingAndGlyphs">0</text>
<text transform="translate(140.5 268.71) scale(1.01 1)" font-size="8.5" text-anchor="middle" fill="#262626" textLength="4.58" lengthAdjust="spacingAndGlyphs">6</text>
<text transform="translate(162.5 268.71) scale(1.01 1)" font-size="8.5" text-anchor="middle" fill="#262626" textLength="9.16" lengthAdjust="spacingAndGlyphs">10</text>
<text transform="translate(184.5 268.71) scale(1.01 1)" font-size="8.5" text-anchor="middle" fill="#262626" textLength="4.58" lengthAdjust="spacingAndGlyphs">0</text>
<text transform="translate(30.5 290.65) scale(1.01 1)" font-size="8.5" text-anchor="middle" fill="#262626" textLength="4.58" lengthAdjust="spacingAndGlyphs">3</text>
<text transform="translate(52.5 290.65) scale(1.01 1)" font-size="8.5" text-anchor="middle" fill="#262626" textLength="4.58" lengthAdjust="spacingAndGlyphs">0</text>
<text transform="translate(74.5 290.65) scale(1.01 1)" font-size="8.5" text-anchor="middle" fill="#f7fbff" textLength="13.74" lengthAdjust="spacingAndGlyphs">103</text>
<text transform="translate(96.5 290.65) scale(1.01 1)" font-size="8.5" text-anchor="middle" fill="#262626" textLength="4.58" lengthAdjust="spacingAndGlyphs">0</text>
<text transform="translate(118.5 290.65) scale(1.01 1)" font-size="8.5" text-anchor="middle" fill="#262626" textLength="9.16" lengthAdjust="spacingAndGlyphs">23</text>
<text transform="translate(140.5 290.65) scale(1.01 1)" font-size="8.5" text-anchor="middle" fill="#262626" textLength="4.58" lengthAdjust="spacingAndGlyphs">1</text>
<text transform="translate(162.5 290.65) scale(1.01 1)" font-size="8.5" text-anchor="middle" fill="#262626" textLength="4.58" lengthAdjust="spacingAndGlyphs">0</text>
<text transform="translate(184.5 290.65) scale(1.01 1)" font-size="8.5" text-anchor="middle" fill="#262626" textLength="4.58" lengthAdjust="spacingAndGlyphs">0</text>
<text transform="translate(30.5 312.59) scale(1.01 1)" font-size="8.5" text-anchor="middle" fill="#262626" textLength="4.58" lengthAdjust="spacingAndGlyphs">0</text>
<text transform="translate(52.5 312.59) scale(1.01 1)" font-size="8.5" text-anchor="middle" fill="#262626" textLength="4.58" lengthAdjust="spacingAndGlyphs">0</text>
<text transform="translate(74.5 312.59) scale(1.01 1)" font-size="8.5" text-anchor="middle" fill="#262626" textLength="4.58" lengthAdjust="spacingAndGlyphs">0</text>
<text transform="translate(96.5 312.59) scale(1.01 1)" font-size="8.5" text-anchor="middle" fill="#f7fbff" textLength="13.74" lengthAdjust="spacingAndGlyphs">142</text>
<text transform="translate(118.5 312.59) scale(1.01 1)" font-size="8.5" text-anchor="middle" fill="#262626" textLength="4.58" lengthAdjust="spacingAndGlyphs">1</text>
<text transform="translate(140.5 312.59) scale(1.01 1)" font-size="8.5" text-anchor="middle" fill="#262626" textLength="4.58" lengthAdjust="spacingAndGlyphs">1</text>
<text transform="translate(162.5 312.59) scale(1.01 1)" font-size="8.5" text-anchor="middle" fill="#262626" textLength="4.58" lengthAdjust="spacingAndGlyphs">4</text>
<text transform="translate(184.5 312.59) scale(1.01 1)" font-size="8.5" text-anchor="middle" fill="#262626" textLength="4.58" lengthAdjust="spacingAndGlyphs">0</text>
<text transform="translate(30.5 334.53) scale(1.01 1)" font-size="8.5" text-anchor="middle" fill="#262626" textLength="9.16" lengthAdjust="spacingAndGlyphs">22</text>
<text transform="translate(52.5 334.53) scale(1.01 1)" font-size="8.5" text-anchor="middle" fill="#262626" textLength="4.58" lengthAdjust="spacingAndGlyphs">0</text>
<text transform="translate(74.5 334.53) scale(1.01 1)" font-size="8.5" text-anchor="middle" fill="#262626" textLength="9.16" lengthAdjust="spacingAndGlyphs">10</text>
<text transform="translate(96.5 334.53) scale(1.01 1)" font-size="8.5" text-anchor="middle" fill="#262626" textLength="4.58" lengthAdjust="spacingAndGlyphs">0</text>
<text transform="translate(118.5 334.53) scale(1.01 1)" font-size="8.5" text-anchor="middle" fill="#262626" textLength="9.16" lengthAdjust="spacingAndGlyphs">68</text>
<text transform="translate(140.5 334.53) scale(1.01 1)" font-size="8.5" text-anchor="middle" fill="#262626" textLength="4.58" lengthAdjust="spacingAndGlyphs">0</text>
<text transform="translate(162.5 334.53) scale(1.01 1)" font-size="8.5" text-anchor="middle" fill="#262626" textLength="4.58" lengthAdjust="spacingAndGlyphs">0</text>
<text transform="translate(184.5 334.53) scale(1.01 1)" font-size="8.5" text-anchor="middle" fill="#262626" textLength="4.58" lengthAdjust="spacingAndGlyphs">0</text>
<text transform="translate(30.5 356.46) scale(1.01 1)" font-size="8.5" text-anchor="middle" fill="#262626" textLength="4.58" lengthAdjust="spacingAndGlyphs">3</text>
<text transform="translate(52.5 356.46) scale(1.01 1)" font-size="8.5" text-anchor="middle" fill="#262626" textLength="9.16" lengthAdjust="spacingAndGlyphs">14</text>
<text transform="translate(74.5 356.46) scale(1.01 1)" font-size="8.5" text-anchor="middle" fill="#262626" textLength="4.58" lengthAdjust="spacingAndGlyphs">1</text>
<text transform="translate(96.5 356.46) scale(1.01 1)" font-size="8.5" text-anchor="middle" fill="#262626" textLength="4.58" lengthAdjust="spacingAndGlyphs">2</text>
<text transform="translate(118.5 356.46) scale(1.01 1)" font-size="8.5" text-anchor="middle" fill="#262626" textLength="4.58" lengthAdjust="spacingAndGlyphs">1</text>
<text transform="translate(140.5 356.46) scale(1.01 1)" font-size="8.5" text-anchor="middle" fill="#262626" textLength="9.16" lengthAdjust="spacingAndGlyphs">56</text>
<text transform="translate(162.5 356.46) scale(1.01 1)" font-size="8.5" text-anchor="middle" fill="#262626" textLength="4.58" lengthAdjust="spacingAndGlyphs">6</text>
<text transform="translate(184.5 356.46) scale(1.01 1)" font-size="8.5" text-anchor="middle" fill="#262626" textLength="4.58" lengthAdjust="spacingAndGlyphs">0</text>
<text transform="translate(30.5 378.4) scale(1.01 1)" font-size="8.5" text-anchor="middle" fill="#262626" textLength="4.58" lengthAdjust="spacingAndGlyphs">6</text>
<text transform="translate(52.5 378.4) scale(1.01 1)" font-size="8.5" text-anchor="middle" fill="#262626" textLength="9.16" lengthAdjust="spacingAndGlyphs">25</text>
<text transform="translate(74.5 378.4) scale(1.01 1)" font-size="8.5" text-anchor="middle" fill="#262626" textLength="4.58" lengthAdjust="spacingAndGlyphs">1</text>
<text transform="translate(96.5 378.4) scale(1.01 1)" font-size="8.5" text-anchor="middle" fill="#262626" textLength="9.16" lengthAdjust="spacingAndGlyphs">10</text>
<text transform="translate(118.5 378.4) scale(1.01 1)" font-size="8.5" text-anchor="middle" fill="#262626" textLength="4.58" lengthAdjust="spacingAndGlyphs">0</text>
<text transform="translate(140.5 378.4) scale(1.01 1)" font-size="8.5" text-anchor="middle" fill="#262626" textLength="9.16" lengthAdjust="spacingAndGlyphs">22</text>
<text transform="translate(162.5 378.4) scale(1.01 1)" font-size="8.5" text-anchor="middle" fill="#f7fbff" textLength="13.74" lengthAdjust="spacingAndGlyphs">195</text>
<text transform="translate(184.5 378.4) scale(1.01 1)" font-size="8.5" text-anchor="middle" fill="#262626" textLength="4.58" lengthAdjust="spacingAndGlyphs">3</text>
<text transform="translate(30.5 400.34) scale(1.01 1)" font-size="8.5" text-anchor="middle" fill="#262626" textLength="9.16" lengthAdjust="spacingAndGlyphs">35</text>
<text transform="translate(52.5 400.34) scale(1.01 1)" font-size="8.5" text-anchor="middle" fill="#262626" textLength="4.58" lengthAdjust="spacingAndGlyphs">0</text>
<text transform="translate(74.5 400.34) scale(1.01 1)" font-size="8.5" text-anchor="middle" fill="#262626" textLength="4.58" lengthAdjust="spacingAndGlyphs">1</text>
<text transform="translate(96.5 400.34) scale(1.01 1)" font-size="8.5" text-anchor="middle" fill="#262626" textLength="4.58" lengthAdjust="spacingAndGlyphs">4</text>
<text transform="translate(118.5 400.34) scale(1.01 1)" font-size="8.5" text-anchor="middle" fill="#262626" textLength="4.58" lengthAdjust="spacingAndGlyphs">7</text>
<text transform="translate(140.5 400.34) scale(1.01 1)" font-size="8.5" text-anchor="middle" fill="#262626" textLength="4.58" lengthAdjust="spacingAndGlyphs">0</text>
<text transform="translate(162.5 400.34) scale(1.01 1)" font-size="8.5" text-anchor="middle" fill="#262626" textLength="4.58" lengthAdjust="spacingAndGlyphs">0</text>
<text transform="translate(184.5 400.34) scale(1.01 1)" font-size="8.5" text-anchor="middle" fill="#262626" textLength="9.16" lengthAdjust="spacingAndGlyphs">84</text>
<rect x="19.5" y="233.1" width="176" height="175.5" fill="none" stroke="#444" stroke-width="1.2"/>
<line x1="30.5" y1="408.6" x2="30.5" y2="410.41" stroke="#444" stroke-width="0.6"/>
<text transform="translate(30.5 415.7) scale(1.01 1)" font-size="5.19" text-anchor="middle" fill="#333" textLength="2.8" lengthAdjust="spacingAndGlyphs">0</text>
<line x1="52.5" y1="408.6" x2="52.5" y2="410.41" stroke="#444" stroke-width="0.6"/>
<text transform="translate(52.5 415.7) scale(1.01 1)" font-size="5.19" text-anchor="middle" fill="#333" textLength="2.8" lengthAdjust="spacingAndGlyphs">1</text>
<line x1="74.5" y1="408.6" x2="74.5" y2="410.41" stroke="#444" stroke-width="0.6"/>
<text transform="translate(74.5 415.7) scale(1.01 1)" font-size="5.19" text-anchor="middle" fill="#333" textLength="2.8" lengthAdjust="spacingAndGlyphs">2</text>
<line x1="96.5" y1="408.6" x2="96.5" y2="410.41" stroke="#444" stroke-width="0.6"/>
<text transform="translate(96.5 415.7) scale(1.01 1)" font-size="5.19" text-anchor="middle" fill="#333" textLength="2.8" lengthAdjust="spacingAndGlyphs">3</text>
<line x1="118.5" y1="408.6" x2="118.5" y2="410.41" stroke="#444" stroke-width="0.6"/>
<text transform="translate(118.5 415.7) scale(1.01 1)" font-size="5.19" text-anchor="middle" fill="#333" textLength="2.8" lengthAdjust="spacingAndGlyphs">4</text>
<line x1="140.5" y1="408.6" x2="140.5" y2="410.41" stroke="#444" stroke-width="0.6"/>
<text transform="translate(140.5 415.7) scale(1.01 1)" font-size="5.19" text-anchor="middle" fill="#333" textLength="2.8" lengthAdjust="spacingAndGlyphs">5</text>
<line x1="162.5" y1="408.6" x2="162.5" y2="410.41" stroke="#444" stroke-width="0.6"/>
<text transform="translate(162.5 415.7) scale(1.01 1)" font-size="5.19" text-anchor="middle" fill="#333" textLength="2.8" lengthAdjust="spacingAndGlyphs">6</text>
<line x1="184.5" y1="408.6" x2="184.5" y2="410.41" stroke="#444" stroke-width="0.6"/>
<text transform="translate(184.5 415.7) scale(1.01 1)" font-size="5.19" text-anchor="middle" fill="#333" textLength="2.8" lengthAdjust="spacingAndGlyphs">7</text>
<line x1="17.69" y1="244.07" x2="19.5" y2="244.07" stroke="#444" stroke-width="0.6"/>
<text dy="1.7" transform="translate(15.68 244.57) rotate(-45) scale(1.01 1)" font-size="5.97" text-anchor="middle" fill="#2a2a2a" textLength="3.22" lengthAdjust="spacingAndGlyphs">0</text>
<line x1="17.69" y1="266.01" x2="19.5" y2="266.01" stroke="#444" stroke-width="0.6"/>
<text dy="1.7" transform="translate(15.68 266.51) rotate(-45) scale(1.01 1)" font-size="5.97" text-anchor="middle" fill="#2a2a2a" textLength="3.22" lengthAdjust="spacingAndGlyphs">1</text>
<line x1="17.69" y1="287.94" x2="19.5" y2="287.94" stroke="#444" stroke-width="0.6"/>
<text dy="1.7" transform="translate(15.68 288.44) rotate(-45) scale(1.01 1)" font-size="5.97" text-anchor="middle" fill="#2a2a2a" textLength="3.22" lengthAdjust="spacingAndGlyphs">2</text>
<line x1="17.69" y1="309.88" x2="19.5" y2="309.88" stroke="#444" stroke-width="0.6"/>
<text dy="1.7" transform="translate(15.68 310.38) rotate(-45) scale(1.01 1)" font-size="5.97" text-anchor="middle" fill="#2a2a2a" textLength="3.22" lengthAdjust="spacingAndGlyphs">3</text>
<line x1="17.69" y1="331.82" x2="19.5" y2="331.82" stroke="#444" stroke-width="0.6"/>
<text dy="1.7" transform="translate(15.68 332.32) rotate(-45) scale(1.01 1)" font-size="5.97" text-anchor="middle" fill="#2a2a2a" textLength="3.22" lengthAdjust="spacingAndGlyphs">4</text>
<line x1="17.69" y1="353.76" x2="19.5" y2="353.76" stroke="#444" stroke-width="0.6"/>
<text dy="1.7" transform="translate(15.68 354.26) rotate(-45) scale(1.01 1)" font-size="5.97" text-anchor="middle" fill="#2a2a2a" textLength="3.22" lengthAdjust="spacingAndGlyphs">5</text>
<line x1="17.69" y1="375.69" x2="19.5" y2="375.69" stroke="#444" stroke-width="0.6"/>
<text dy="1.7" transform="translate(15.68 376.19) rotate(-45) scale(1.01 1)" font-size="5.97" text-anchor="middle" fill="#2a2a2a" textLength="3.22" lengthAdjust="spacingAndGlyphs">6</text>
<line x1="17.69" y1="397.63" x2="19.5" y2="397.63" stroke="#444" stroke-width="0.6"/>
<text dy="1.7" transform="translate(15.68 398.13) rotate(-45) scale(1.01 1)" font-size="5.97" text-anchor="middle" fill="#2a2a2a" textLength="3.22" lengthAdjust="spacingAndGlyphs">7</text>
<text transform="translate(107.5 230.69) scale(1.01 1)" font-size="9.09" text-anchor="middle" fill="#1a1a1a" stroke="#1a1a1a" stroke-width="0.14" textLength="76.97" lengthAdjust="spacingAndGlyphs">Confusion matrix</text>
<text transform="translate(107.5 423.05) scale(1.01 1)" font-size="7.34" text-anchor="middle" fill="#2a2a2a" stroke="#2a2a2a" stroke-width="0.1" textLength="55.97" lengthAdjust="spacingAndGlyphs">Predicted Labels</text>
<text transform="translate(9.85 320.85) rotate(-90) scale(1.01 1)" font-size="7.34" text-anchor="middle" fill="#2a2a2a" stroke="#2a2a2a" stroke-width="0.1" textLength="38.49" lengthAdjust="spacingAndGlyphs">True Labels</text>
<rect x="208" y="233.1" width="8.2" height="175.5" fill="url(#gD)"/>
<rect x="208" y="233.1" width="8.2" height="175.5" fill="none" stroke="#333" stroke-width="1.1"/>
<line x1="216.2" y1="408.6" x2="217.61" y2="408.6" stroke="#444" stroke-width="0.5"/>
<text transform="translate(220.12 410.41) scale(1.01 1)" font-size="5.07" text-anchor="start" fill="#2a2a2a" textLength="2.74" lengthAdjust="spacingAndGlyphs">0</text>
<line x1="216.2" y1="386.1" x2="217.61" y2="386.1" stroke="#444" stroke-width="0.5"/>
<text transform="translate(220.12 387.91) scale(1.01 1)" font-size="5.07" text-anchor="start" fill="#2a2a2a" textLength="5.47" lengthAdjust="spacingAndGlyphs">25</text>
<line x1="216.2" y1="363.6" x2="217.61" y2="363.6" stroke="#444" stroke-width="0.5"/>
<text transform="translate(220.12 365.41) scale(1.01 1)" font-size="5.07" text-anchor="start" fill="#2a2a2a" textLength="5.47" lengthAdjust="spacingAndGlyphs">50</text>
<line x1="216.2" y1="341.1" x2="217.61" y2="341.1" stroke="#444" stroke-width="0.5"/>
<text transform="translate(220.12 342.91) scale(1.01 1)" font-size="5.07" text-anchor="start" fill="#2a2a2a" textLength="5.47" lengthAdjust="spacingAndGlyphs">75</text>
<line x1="216.2" y1="318.6" x2="217.61" y2="318.6" stroke="#444" stroke-width="0.5"/>
<text transform="translate(220.12 320.41) scale(1.01 1)" font-size="5.07" text-anchor="start" fill="#2a2a2a" textLength="8.21" lengthAdjust="spacingAndGlyphs">100</text>
<line x1="216.2" y1="296.1" x2="217.61" y2="296.1" stroke="#444" stroke-width="0.5"/>
<text transform="translate(220.12 297.91) scale(1.01 1)" font-size="5.07" text-anchor="start" fill="#2a2a2a" textLength="8.21" lengthAdjust="spacingAndGlyphs">125</text>
<line x1="216.2" y1="273.6" x2="217.61" y2="273.6" stroke="#444" stroke-width="0.5"/>
<text transform="translate(220.12 275.41) scale(1.01 1)" font-size="5.07" text-anchor="start" fill="#2a2a2a" textLength="8.21" lengthAdjust="spacingAndGlyphs">150</text>
<line x1="216.2" y1="251.1" x2="217.61" y2="251.1" stroke="#444" stroke-width="0.5"/>
<text transform="translate(220.12 252.91) scale(1.01 1)" font-size="5.07" text-anchor="start" fill="#2a2a2a" textLength="8.21" lengthAdjust="spacingAndGlyphs">175</text>
<rect x="245.5" y="233.5" width="22.16" height="21.95" fill="#81badb"/>
<rect x="267.6" y="233.5" width="22.16" height="21.95" fill="#f7fbff"/>
<rect x="289.7" y="233.5" width="22.16" height="21.95" fill="#f6faff"/>
<rect x="311.8" y="233.5" width="22.16" height="21.95" fill="#f7fbff"/>
<rect x="333.9" y="233.5" width="22.16" height="21.95" fill="#f3f8fe"/>
<rect x="356" y="233.5" width="22.16" height="21.95" fill="#f5f9fe"/>
<rect x="378.1" y="233.5" width="22.16" height="21.95" fill="#f7fbff"/>
<rect x="400.2" y="233.5" width="22.16" height="21.95" fill="#f5fafe"/>
<rect x="245.5" y="255.39" width="22.16" height="21.95" fill="#f5fafe"/>
<rect x="267.6" y="255.39" width="22.16" height="21.95" fill="#cee0f2"/>
<rect x="289.7" y="255.39" width="22.16" height="21.95" fill="#f7fbff"/>
<rect x="311.8" y="255.39" width="22.16" height="21.95" fill="#f6faff"/>
<rect x="333.9" y="255.39" width="22.16" height="21.95" fill="#f7fbff"/>
<rect x="356" y="255.39" width="22.16" height="21.95" fill="#f5fafe"/>
<rect x="378.1" y="255.39" width="22.16" height="21.95" fill="#f0f6fd"/>
<rect x="400.2" y="255.39" width="22.16" height="21.95" fill="#f7fbff"/>
<rect x="245.5" y="277.27" width="22.16" height="21.95" fill="#f7fbff"/>
<rect x="267.6" y="277.27" width="22.16" height="21.95" fill="#f7fbff"/>
<rect x="289.7" y="277.27" width="22.16" height="21.95" fill="#63a8d3"/>
<rect x="311.8" y="277.27" width="22.16" height="21.95" fill="#f7fbff"/>
<rect x="333.9" y="277.27" width="22.16" height="21.95" fill="#f5f9fe"/>
<rect x="356" y="277.27" width="22.16" height="21.95" fill="#f7fbff"/>
<rect x="378.1" y="277.27" width="22.16" height="21.95" fill="#f7fbff"/>
<rect x="400.2" y="277.27" width="22.16" height="21.95" fill="#f7fbff"/>
<rect x="245.5" y="299.16" width="22.16" height="21.95" fill="#f6faff"/>
<rect x="267.6" y="299.16" width="22.16" height="21.95" fill="#f7fbff"/>
<rect x="289.7" y="299.16" width="22.16" height="21.95" fill="#f7fbff"/>
<rect x="311.8" y="299.16" width="22.16" height="21.95" fill="#4e9acb"/>
<rect x="333.9" y="299.16" width="22.16" height="21.95" fill="#f6faff"/>
<rect x="356" y="299.16" width="22.16" height="21.95" fill="#f7fbff"/>
<rect x="378.1" y="299.16" width="22.16" height="21.95" fill="#f4f9fe"/>
<rect x="400.2" y="299.16" width="22.16" height="21.95" fill="#f7fbff"/>
<rect x="245.5" y="321.05" width="22.16" height="21.95" fill="#edf4fc"/>
<rect x="267.6" y="321.05" width="22.16" height="21.95" fill="#f6faff"/>
<rect x="289.7" y="321.05" width="22.16" height="21.95" fill="#eef5fc"/>
<rect x="311.8" y="321.05" width="22.16" height="21.95" fill="#f7fbff"/>
<rect x="333.9" y="321.05" width="22.16" height="21.95" fill="#bed8ec"/>
<rect x="356" y="321.05" width="22.16" height="21.95" fill="#f6faff"/>
<rect x="378.1" y="321.05" width="22.16" height="21.95" fill="#f6faff"/>
<rect x="400.2" y="321.05" width="22.16" height="21.95" fill="#f3f8fe"/>
<rect x="245.5" y="342.94" width="22.16" height="21.95" fill="#f7fbff"/>
<rect x="267.6" y="342.94" width="22.16" height="21.95" fill="#f2f8fd"/>
<rect x="289.7" y="342.94" width="22.16" height="21.95" fill="#f7fbff"/>
<rect x="311.8" y="342.94" width="22.16" height="21.95" fill="#f6faff"/>
<rect x="333.9" y="342.94" width="22.16" height="21.95" fill="#f7fbff"/>
<rect x="356" y="342.94" width="22.16" height="21.95" fill="#caddf0"/>
<rect x="378.1" y="342.94" width="22.16" height="21.95" fill="#e7f0fa"/>
<rect x="400.2" y="342.94" width="22.16" height="21.95" fill="#f7fbff"/>
<rect x="245.5" y="364.83" width="22.16" height="21.95" fill="#f6faff"/>
<rect x="267.6" y="364.83" width="22.16" height="21.95" fill="#eef5fc"/>
<rect x="289.7" y="364.83" width="22.16" height="21.95" fill="#f7fbff"/>
<rect x="311.8" y="364.83" width="22.16" height="21.95" fill="#f5f9fe"/>
<rect x="333.9" y="364.83" width="22.16" height="21.95" fill="#f7fbff"/>
<rect x="356" y="364.83" width="22.16" height="21.95" fill="#f5fafe"/>
<rect x="378.1" y="364.83" width="22.16" height="21.95" fill="#08306b"/>
<rect x="400.2" y="364.83" width="22.16" height="21.95" fill="#f5fafe"/>
<rect x="245.5" y="386.71" width="22.16" height="21.95" fill="#f7fbff"/>
<rect x="267.6" y="386.71" width="22.16" height="21.95" fill="#f7fbff"/>
<rect x="289.7" y="386.71" width="22.16" height="21.95" fill="#f7fbff"/>
<rect x="311.8" y="386.71" width="22.16" height="21.95" fill="#f7fbff"/>
<rect x="333.9" y="386.71" width="22.16" height="21.95" fill="#f5f9fe"/>
<rect x="356" y="386.71" width="22.16" height="21.95" fill="#f7fbff"/>
<rect x="378.1" y="386.71" width="22.16" height="21.95" fill="#f6faff"/>
<rect x="400.2" y="386.71" width="22.16" height="21.95" fill="#63a8d3"/>
<text transform="translate(256.55 247.15) scale(1.01 1)" font-size="8.5" text-anchor="middle" fill="#262626" textLength="13.74" lengthAdjust="spacingAndGlyphs">108</text>
<text transform="translate(278.65 247.15) scale(1.01 1)" font-size="8.5" text-anchor="middle" fill="#262626" textLength="4.58" lengthAdjust="spacingAndGlyphs">0</text>
<text transform="translate(300.75 247.15) scale(1.01 1)" font-size="8.5" text-anchor="middle" fill="#262626" textLength="4.58" lengthAdjust="spacingAndGlyphs">1</text>
<text transform="translate(322.85 247.15) scale(1.01 1)" font-size="8.5" text-anchor="middle" fill="#262626" textLength="4.58" lengthAdjust="spacingAndGlyphs">0</text>
<text transform="translate(344.95 247.15) scale(1.01 1)" font-size="8.5" text-anchor="middle" fill="#262626" textLength="4.58" lengthAdjust="spacingAndGlyphs">5</text>
<text transform="translate(367.05 247.15) scale(1.01 1)" font-size="8.5" text-anchor="middle" fill="#262626" textLength="4.58" lengthAdjust="spacingAndGlyphs">3</text>
<text transform="translate(389.15 247.15) scale(1.01 1)" font-size="8.5" text-anchor="middle" fill="#262626" textLength="4.58" lengthAdjust="spacingAndGlyphs">0</text>
<text transform="translate(411.25 247.15) scale(1.01 1)" font-size="8.5" text-anchor="middle" fill="#262626" textLength="4.58" lengthAdjust="spacingAndGlyphs">2</text>
<text transform="translate(256.55 269.03) scale(1.01 1)" font-size="8.5" text-anchor="middle" fill="#262626" textLength="4.58" lengthAdjust="spacingAndGlyphs">2</text>
<text transform="translate(278.65 269.03) scale(1.01 1)" font-size="8.5" text-anchor="middle" fill="#262626" textLength="9.16" lengthAdjust="spacingAndGlyphs">51</text>
<text transform="translate(300.75 269.03) scale(1.01 1)" font-size="8.5" text-anchor="middle" fill="#262626" textLength="4.58" lengthAdjust="spacingAndGlyphs">0</text>
<text transform="translate(322.85 269.03) scale(1.01 1)" font-size="8.5" text-anchor="middle" fill="#262626" textLength="4.58" lengthAdjust="spacingAndGlyphs">1</text>
<text transform="translate(344.95 269.03) scale(1.01 1)" font-size="8.5" text-anchor="middle" fill="#262626" textLength="4.58" lengthAdjust="spacingAndGlyphs">0</text>
<text transform="translate(367.05 269.03) scale(1.01 1)" font-size="8.5" text-anchor="middle" fill="#262626" textLength="4.58" lengthAdjust="spacingAndGlyphs">2</text>
<text transform="translate(389.15 269.03) scale(1.01 1)" font-size="8.5" text-anchor="middle" fill="#262626" textLength="4.58" lengthAdjust="spacingAndGlyphs">9</text>
<text transform="translate(411.25 269.03) scale(1.01 1)" font-size="8.5" text-anchor="middle" fill="#262626" textLength="4.58" lengthAdjust="spacingAndGlyphs">0</text>
<text transform="translate(256.55 290.92) scale(1.01 1)" font-size="8.5" text-anchor="middle" fill="#262626" textLength="4.58" lengthAdjust="spacingAndGlyphs">0</text>
<text transform="translate(278.65 290.92) scale(1.01 1)" font-size="8.5" text-anchor="middle" fill="#262626" textLength="4.58" lengthAdjust="spacingAndGlyphs">0</text>
<text transform="translate(300.75 290.92) scale(1.01 1)" font-size="8.5" text-anchor="middle" fill="#f7fbff" textLength="13.74" lengthAdjust="spacingAndGlyphs">127</text>
<text transform="translate(322.85 290.92) scale(1.01 1)" font-size="8.5" text-anchor="middle" fill="#262626" textLength="4.58" lengthAdjust="spacingAndGlyphs">0</text>
<text transform="translate(344.95 290.92) scale(1.01 1)" font-size="8.5" text-anchor="middle" fill="#262626" textLength="4.58" lengthAdjust="spacingAndGlyphs">3</text>
<text transform="translate(367.05 290.92) scale(1.01 1)" font-size="8.5" text-anchor="middle" fill="#262626" textLength="4.58" lengthAdjust="spacingAndGlyphs">0</text>
<text transform="translate(389.15 290.92) scale(1.01 1)" font-size="8.5" text-anchor="middle" fill="#262626" textLength="4.58" lengthAdjust="spacingAndGlyphs">0</text>
<text transform="translate(411.25 290.92) scale(1.01 1)" font-size="8.5" text-anchor="middle" fill="#262626" textLength="4.58" lengthAdjust="spacingAndGlyphs">0</text>
<text transform="translate(256.55 312.81) scale(1.01 1)" font-size="8.5" text-anchor="middle" fill="#262626" textLength="4.58" lengthAdjust="spacingAndGlyphs">1</text>
<text transform="translate(278.65 312.81) scale(1.01 1)" font-size="8.5" text-anchor="middle" fill="#262626" textLength="4.58" lengthAdjust="spacingAndGlyphs">0</text>
<text transform="translate(300.75 312.81) scale(1.01 1)" font-size="8.5" text-anchor="middle" fill="#262626" textLength="4.58" lengthAdjust="spacingAndGlyphs">0</text>
<text transform="translate(322.85 312.81) scale(1.01 1)" font-size="8.5" text-anchor="middle" fill="#f7fbff" textLength="13.74" lengthAdjust="spacingAndGlyphs">142</text>
<text transform="translate(344.95 312.81) scale(1.01 1)" font-size="8.5" text-anchor="middle" fill="#262626" textLength="4.58" lengthAdjust="spacingAndGlyphs">1</text>
<text transform="translate(367.05 312.81) scale(1.01 1)" font-size="8.5" text-anchor="middle" fill="#262626" textLength="4.58" lengthAdjust="spacingAndGlyphs">0</text>
<text transform="translate(389.15 312.81) scale(1.01 1)" font-size="8.5" text-anchor="middle" fill="#262626" textLength="4.58" lengthAdjust="spacingAndGlyphs">4</text>
<text transform="translate(411.25 312.81) scale(1.01 1)" font-size="8.5" text-anchor="middle" fill="#262626" textLength="4.58" lengthAdjust="spacingAndGlyphs">0</text>
<text transform="translate(256.55 334.7) scale(1.01 1)" font-size="8.5" text-anchor="middle" fill="#262626" textLength="9.16" lengthAdjust="spacingAndGlyphs">13</text>
<text transform="translate(278.65 334.7) scale(1.01 1)" font-size="8.5" text-anchor="middle" fill="#262626" textLength="4.58" lengthAdjust="spacingAndGlyphs">1</text>
<text transform="translate(300.75 334.7) scale(1.01 1)" font-size="8.5" text-anchor="middle" fill="#262626" textLength="9.16" lengthAdjust="spacingAndGlyphs">12</text>
<text transform="translate(322.85 334.7) scale(1.01 1)" font-size="8.5" text-anchor="middle" fill="#262626" textLength="4.58" lengthAdjust="spacingAndGlyphs">0</text>
<text transform="translate(344.95 334.7) scale(1.01 1)" font-size="8.5" text-anchor="middle" fill="#262626" textLength="9.16" lengthAdjust="spacingAndGlyphs">67</text>
<text transform="translate(367.05 334.7) scale(1.01 1)" font-size="8.5" text-anchor="middle" fill="#262626" textLength="4.58" lengthAdjust="spacingAndGlyphs">1</text>
<text transform="translate(389.15 334.7) scale(1.01 1)" font-size="8.5" text-anchor="middle" fill="#262626" textLength="4.58" lengthAdjust="spacingAndGlyphs">1</text>
<text transform="translate(411.25 334.7) scale(1.01 1)" font-size="8.5" text-anchor="middle" fill="#262626" textLength="4.58" lengthAdjust="spacingAndGlyphs">5</text>
<text transform="translate(256.55 356.58) scale(1.01 1)" font-size="8.5" text-anchor="middle" fill="#262626" textLength="4.58" lengthAdjust="spacingAndGlyphs">0</text>
<text transform="translate(278.65 356.58) scale(1.01 1)" font-size="8.5" text-anchor="middle" fill="#262626" textLength="4.58" lengthAdjust="spacingAndGlyphs">6</text>
<text transform="translate(300.75 356.58) scale(1.01 1)" font-size="8.5" text-anchor="middle" fill="#262626" textLength="4.58" lengthAdjust="spacingAndGlyphs">0</text>
<text transform="translate(322.85 356.58) scale(1.01 1)" font-size="8.5" text-anchor="middle" fill="#262626" textLength="4.58" lengthAdjust="spacingAndGlyphs">1</text>
<text transform="translate(344.95 356.58) scale(1.01 1)" font-size="8.5" text-anchor="middle" fill="#262626" textLength="4.58" lengthAdjust="spacingAndGlyphs">0</text>
<text transform="translate(367.05 356.58) scale(1.01 1)" font-size="8.5" text-anchor="middle" fill="#262626" textLength="9.16" lengthAdjust="spacingAndGlyphs">56</text>
<text transform="translate(389.15 356.58) scale(1.01 1)" font-size="8.5" text-anchor="middle" fill="#262626" textLength="9.16" lengthAdjust="spacingAndGlyphs">20</text>
<text transform="translate(411.25 356.58) scale(1.01 1)" font-size="8.5" text-anchor="middle" fill="#262626" textLength="4.58" lengthAdjust="spacingAndGlyphs">0</text>
<text transform="translate(256.55 378.47) scale(1.01 1)" font-size="8.5" text-anchor="middle" fill="#262626" textLength="4.58" lengthAdjust="spacingAndGlyphs">1</text>
<text transform="translate(278.65 378.47) scale(1.01 1)" font-size="8.5" text-anchor="middle" fill="#262626" textLength="9.16" lengthAdjust="spacingAndGlyphs">12</text>
<text transform="translate(300.75 378.47) scale(1.01 1)" font-size="8.5" text-anchor="middle" fill="#262626" textLength="4.58" lengthAdjust="spacingAndGlyphs">0</text>
<text transform="translate(322.85 378.47) scale(1.01 1)" font-size="8.5" text-anchor="middle" fill="#262626" textLength="4.58" lengthAdjust="spacingAndGlyphs">3</text>
<text transform="translate(344.95 378.47) scale(1.01 1)" font-size="8.5" text-anchor="middle" fill="#262626" textLength="4.58" lengthAdjust="spacingAndGlyphs">0</text>
<text transform="translate(367.05 378.47) scale(1.01 1)" font-size="8.5" text-anchor="middle" fill="#262626" textLength="4.58" lengthAdjust="spacingAndGlyphs">2</text>
<text transform="translate(389.15 378.47) scale(1.01 1)" font-size="8.5" text-anchor="middle" fill="#f7fbff" textLength="13.74" lengthAdjust="spacingAndGlyphs">242</text>
<text transform="translate(411.25 378.47) scale(1.01 1)" font-size="8.5" text-anchor="middle" fill="#262626" textLength="4.58" lengthAdjust="spacingAndGlyphs">2</text>
<text transform="translate(256.55 400.36) scale(1.01 1)" font-size="8.5" text-anchor="middle" fill="#262626" textLength="4.58" lengthAdjust="spacingAndGlyphs">0</text>
<text transform="translate(278.65 400.36) scale(1.01 1)" font-size="8.5" text-anchor="middle" fill="#262626" textLength="4.58" lengthAdjust="spacingAndGlyphs">0</text>
<text transform="translate(300.75 400.36) scale(1.01 1)" font-size="8.5" text-anchor="middle" fill="#262626" textLength="4.58" lengthAdjust="spacingAndGlyphs">0</text>
<text transform="translate(322.85 400.36) scale(1.01 1)" font-size="8.5" text-anchor="middle" fill="#262626" textLength="4.58" lengthAdjust="spacingAndGlyphs">0</text>
<text transform="translate(344.95 400.36) scale(1.01 1)" font-size="8.5" text-anchor="middle" fill="#262626" textLength="4.58" lengthAdjust="spacingAndGlyphs">3</text>
<text transform="translate(367.05 400.36) scale(1.01 1)" font-size="8.5" text-anchor="middle" fill="#262626" textLength="4.58" lengthAdjust="spacingAndGlyphs">0</text>
<text transform="translate(389.15 400.36) scale(1.01 1)" font-size="8.5" text-anchor="middle" fill="#262626" textLength="4.58" lengthAdjust="spacingAndGlyphs">1</text>
<text transform="translate(411.25 400.36) scale(1.01 1)" font-size="8.5" text-anchor="middle" fill="#f7fbff" textLength="13.74" lengthAdjust="spacingAndGlyphs">127</text>
<rect x="245.5" y="233.5" width="176.8" height="175.1" fill="none" stroke="#444" stroke-width="1.2"/>
<line x1="256.55" y1="408.6" x2="256.55" y2="410.4" stroke="#444" stroke-width="0.6"/>
<text transform="translate(256.55 415.7) scale(1.01 1)" font-size="5.19" text-anchor="middle" fill="#333" textLength="2.8" lengthAdjust="spacingAndGlyphs">0</text>
<line x1="278.65" y1="408.6" x2="278.65" y2="410.4" stroke="#444" stroke-width="0.6"/>
<text transform="translate(278.65 415.7) scale(1.01 1)" font-size="5.19" text-anchor="middle" fill="#333" textLength="2.8" lengthAdjust="spacingAndGlyphs">1</text>
<line x1="300.75" y1="408.6" x2="300.75" y2="410.4" stroke="#444" stroke-width="0.6"/>
<text transform="translate(300.75 415.7) scale(1.01 1)" font-size="5.19" text-anchor="middle" fill="#333" textLength="2.8" lengthAdjust="spacingAndGlyphs">2</text>
<line x1="322.85" y1="408.6" x2="322.85" y2="410.4" stroke="#444" stroke-width="0.6"/>
<text transform="translate(322.85 415.7) scale(1.01 1)" font-size="5.19" text-anchor="middle" fill="#333" textLength="2.8" lengthAdjust="spacingAndGlyphs">3</text>
<line x1="344.95" y1="408.6" x2="344.95" y2="410.4" stroke="#444" stroke-width="0.6"/>
<text transform="translate(344.95 415.7) scale(1.01 1)" font-size="5.19" text-anchor="middle" fill="#333" textLength="2.8" lengthAdjust="spacingAndGlyphs">4</text>
<line x1="367.05" y1="408.6" x2="367.05" y2="410.4" stroke="#444" stroke-width="0.6"/>
<text transform="translate(367.05 415.7) scale(1.01 1)" font-size="5.19" text-anchor="middle" fill="#333" textLength="2.8" lengthAdjust="spacingAndGlyphs">5</text>
<line x1="389.15" y1="408.6" x2="389.15" y2="410.4" stroke="#444" stroke-width="0.6"/>
<text transform="translate(389.15 415.7) scale(1.01 1)" font-size="5.19" text-anchor="middle" fill="#333" textLength="2.8" lengthAdjust="spacingAndGlyphs">6</text>
<line x1="411.25" y1="408.6" x2="411.25" y2="410.4" stroke="#444" stroke-width="0.6"/>
<text transform="translate(411.25 415.7) scale(1.01 1)" font-size="5.19" text-anchor="middle" fill="#333" textLength="2.8" lengthAdjust="spacingAndGlyphs">7</text>
<line x1="243.68" y1="244.44" x2="245.5" y2="244.44" stroke="#444" stroke-width="0.6"/>
<text dy="1.7" transform="translate(241.66 244.94) rotate(-45) scale(1.01 1)" font-size="5.97" text-anchor="middle" fill="#2a2a2a" textLength="3.22" lengthAdjust="spacingAndGlyphs">0</text>
<line x1="243.68" y1="266.33" x2="245.5" y2="266.33" stroke="#444" stroke-width="0.6"/>
<text dy="1.7" transform="translate(241.66 266.83) rotate(-45) scale(1.01 1)" font-size="5.97" text-anchor="middle" fill="#2a2a2a" textLength="3.22" lengthAdjust="spacingAndGlyphs">1</text>
<line x1="243.68" y1="288.22" x2="245.5" y2="288.22" stroke="#444" stroke-width="0.6"/>
<text dy="1.7" transform="translate(241.66 288.72) rotate(-45) scale(1.01 1)" font-size="5.97" text-anchor="middle" fill="#2a2a2a" textLength="3.22" lengthAdjust="spacingAndGlyphs">2</text>
<line x1="243.68" y1="310.11" x2="245.5" y2="310.11" stroke="#444" stroke-width="0.6"/>
<text dy="1.7" transform="translate(241.66 310.61) rotate(-45) scale(1.01 1)" font-size="5.97" text-anchor="middle" fill="#2a2a2a" textLength="3.22" lengthAdjust="spacingAndGlyphs">3</text>
<line x1="243.68" y1="331.99" x2="245.5" y2="331.99" stroke="#444" stroke-width="0.6"/>
<text dy="1.7" transform="translate(241.66 332.49) rotate(-45) scale(1.01 1)" font-size="5.97" text-anchor="middle" fill="#2a2a2a" textLength="3.22" lengthAdjust="spacingAndGlyphs">4</text>
<line x1="243.68" y1="353.88" x2="245.5" y2="353.88" stroke="#444" stroke-width="0.6"/>
<text dy="1.7" transform="translate(241.66 354.38) rotate(-45) scale(1.01 1)" font-size="5.97" text-anchor="middle" fill="#2a2a2a" textLength="3.22" lengthAdjust="spacingAndGlyphs">5</text>
<line x1="243.68" y1="375.77" x2="245.5" y2="375.77" stroke="#444" stroke-width="0.6"/>
<text dy="1.7" transform="translate(241.66 376.27) rotate(-45) scale(1.01 1)" font-size="5.97" text-anchor="middle" fill="#2a2a2a" textLength="3.22" lengthAdjust="spacingAndGlyphs">6</text>
<line x1="243.68" y1="397.66" x2="245.5" y2="397.66" stroke="#444" stroke-width="0.6"/>
<text dy="1.7" transform="translate(241.66 398.16) rotate(-45) scale(1.01 1)" font-size="5.97" text-anchor="middle" fill="#2a2a2a" textLength="3.22" lengthAdjust="spacingAndGlyphs">7</text>
<text transform="translate(333.9 231.1) scale(1.01 1)" font-size="9.09" text-anchor="middle" fill="#1a1a1a" stroke="#1a1a1a" stroke-width="0.14" textLength="76.97" lengthAdjust="spacingAndGlyphs">Confusion matrix</text>
<text transform="translate(333.9 423.05) scale(1.01 1)" font-size="7.34" text-anchor="middle" fill="#2a2a2a" stroke="#2a2a2a" stroke-width="0.1" textLength="55.97" lengthAdjust="spacingAndGlyphs">Predicted Labels</text>
<text transform="translate(235.8 321.05) rotate(-90) scale(1.01 1)" font-size="7.34" text-anchor="middle" fill="#2a2a2a" stroke="#2a2a2a" stroke-width="0.1" textLength="38.49" lengthAdjust="spacingAndGlyphs">True Labels</text>
<rect x="435.2" y="233.5" width="8.4" height="175.1" fill="url(#gE)"/>
<rect x="435.2" y="233.5" width="8.4" height="175.1" fill="none" stroke="#333" stroke-width="1.1"/>
<line x1="443.6" y1="408.6" x2="445.01" y2="408.6" stroke="#444" stroke-width="0.5"/>
<text transform="translate(447.54 410.4) scale(1.01 1)" font-size="5.07" text-anchor="start" fill="#2a2a2a" textLength="2.74" lengthAdjust="spacingAndGlyphs">0</text>
<line x1="443.6" y1="372.42" x2="445.01" y2="372.42" stroke="#444" stroke-width="0.5"/>
<text transform="translate(447.54 374.22) scale(1.01 1)" font-size="5.07" text-anchor="start" fill="#2a2a2a" textLength="5.47" lengthAdjust="spacingAndGlyphs">50</text>
<line x1="443.6" y1="336.24" x2="445.01" y2="336.24" stroke="#444" stroke-width="0.5"/>
<text transform="translate(447.54 338.05) scale(1.01 1)" font-size="5.07" text-anchor="start" fill="#2a2a2a" textLength="8.21" lengthAdjust="spacingAndGlyphs">100</text>
<line x1="443.6" y1="300.07" x2="445.01" y2="300.07" stroke="#444" stroke-width="0.5"/>
<text transform="translate(447.54 301.87) scale(1.01 1)" font-size="5.07" text-anchor="start" fill="#2a2a2a" textLength="8.21" lengthAdjust="spacingAndGlyphs">150</text>
<line x1="443.6" y1="263.89" x2="445.01" y2="263.89" stroke="#444" stroke-width="0.5"/>
<text transform="translate(447.54 265.69) scale(1.01 1)" font-size="5.07" text-anchor="start" fill="#2a2a2a" textLength="8.21" lengthAdjust="spacingAndGlyphs">200</text>
<rect x="471.6" y="232.6" width="22.21" height="22.15" fill="#8fc2de"/>
<rect x="493.75" y="232.6" width="22.21" height="22.15" fill="#f5f9fe"/>
<rect x="515.9" y="232.6" width="22.21" height="22.15" fill="#f0f6fd"/>
<rect x="538.05" y="232.6" width="22.21" height="22.15" fill="#f6faff"/>
<rect x="560.2" y="232.6" width="22.21" height="22.15" fill="#f1f7fd"/>
<rect x="582.35" y="232.6" width="22.21" height="22.15" fill="#f6faff"/>
<rect x="604.5" y="232.6" width="22.21" height="22.15" fill="#ecf4fb"/>
<rect x="626.65" y="232.6" width="22.21" height="22.15" fill="#f6faff"/>
<rect x="471.6" y="254.69" width="22.21" height="22.15" fill="#f2f7fd"/>
<rect x="493.75" y="254.69" width="22.21" height="22.15" fill="#e5eff9"/>
<rect x="515.9" y="254.69" width="22.21" height="22.15" fill="#f7fbff"/>
<rect x="538.05" y="254.69" width="22.21" height="22.15" fill="#f5f9fe"/>
<rect x="560.2" y="254.69" width="22.21" height="22.15" fill="#f7fbff"/>
<rect x="582.35" y="254.69" width="22.21" height="22.15" fill="#eef5fc"/>
<rect x="604.5" y="254.69" width="22.21" height="22.15" fill="#dceaf6"/>
<rect x="626.65" y="254.69" width="22.21" height="22.15" fill="#f7fbff"/>
<rect x="471.6" y="276.77" width="22.21" height="22.15" fill="#f5fafe"/>
<rect x="493.75" y="276.77" width="22.21" height="22.15" fill="#f7fbff"/>
<rect x="515.9" y="276.77" width="22.21" height="22.15" fill="#58a1cf"/>
<rect x="538.05" y="276.77" width="22.21" height="22.15" fill="#f7fbff"/>
<rect x="560.2" y="276.77" width="22.21" height="22.15" fill="#f2f7fd"/>
<rect x="582.35" y="276.77" width="22.21" height="22.15" fill="#f4f9fe"/>
<rect x="604.5" y="276.77" width="22.21" height="22.15" fill="#f5fafe"/>
<rect x="626.65" y="276.77" width="22.21" height="22.15" fill="#f7fbff"/>
<rect x="471.6" y="298.86" width="22.21" height="22.15" fill="#f7fbff"/>
<rect x="493.75" y="298.86" width="22.21" height="22.15" fill="#f7fbff"/>
<rect x="515.9" y="298.86" width="22.21" height="22.15" fill="#f7fbff"/>
<rect x="538.05" y="298.86" width="22.21" height="22.15" fill="#4695c8"/>
<rect x="560.2" y="298.86" width="22.21" height="22.15" fill="#eef5fc"/>
<rect x="582.35" y="298.86" width="22.21" height="22.15" fill="#f5fafe"/>
<rect x="604.5" y="298.86" width="22.21" height="22.15" fill="#f2f8fd"/>
<rect x="626.65" y="298.86" width="22.21" height="22.15" fill="#f4f9fe"/>
<rect x="471.6" y="320.95" width="22.21" height="22.15" fill="#e8f1fa"/>
<rect x="493.75" y="320.95" width="22.21" height="22.15" fill="#f5fafe"/>
<rect x="515.9" y="320.95" width="22.21" height="22.15" fill="#e4eff9"/>
<rect x="538.05" y="320.95" width="22.21" height="22.15" fill="#eef5fc"/>
<rect x="560.2" y="320.95" width="22.21" height="22.15" fill="#d3e4f3"/>
<rect x="582.35" y="320.95" width="22.21" height="22.15" fill="#f2f8fd"/>
<rect x="604.5" y="320.95" width="22.21" height="22.15" fill="#f0f6fd"/>
<rect x="626.65" y="320.95" width="22.21" height="22.15" fill="#f5fafe"/>
<rect x="471.6" y="343.04" width="22.21" height="22.15" fill="#f6faff"/>
<rect x="493.75" y="343.04" width="22.21" height="22.15" fill="#ebf3fb"/>
<rect x="515.9" y="343.04" width="22.21" height="22.15" fill="#f7fbff"/>
<rect x="538.05" y="343.04" width="22.21" height="22.15" fill="#f5f9fe"/>
<rect x="560.2" y="343.04" width="22.21" height="22.15" fill="#f5fafe"/>
<rect x="582.35" y="343.04" width="22.21" height="22.15" fill="#d7e6f5"/>
<rect x="604.5" y="343.04" width="22.21" height="22.15" fill="#dbe9f6"/>
<rect x="626.65" y="343.04" width="22.21" height="22.15" fill="#f7fbff"/>
<rect x="471.6" y="365.12" width="22.21" height="22.15" fill="#f0f6fd"/>
<rect x="493.75" y="365.12" width="22.21" height="22.15" fill="#e8f1fa"/>
<rect x="515.9" y="365.12" width="22.21" height="22.15" fill="#f7fbff"/>
<rect x="538.05" y="365.12" width="22.21" height="22.15" fill="#eef5fc"/>
<rect x="560.2" y="365.12" width="22.21" height="22.15" fill="#f6faff"/>
<rect x="582.35" y="365.12" width="22.21" height="22.15" fill="#e8f1fa"/>
<rect x="604.5" y="365.12" width="22.21" height="22.15" fill="#08306b"/>
<rect x="626.65" y="365.12" width="22.21" height="22.15" fill="#f5f9fe"/>
<rect x="471.6" y="387.21" width="22.21" height="22.15" fill="#e6f0f9"/>
<rect x="493.75" y="387.21" width="22.21" height="22.15" fill="#f4f9fe"/>
<rect x="515.9" y="387.21" width="22.21" height="22.15" fill="#f7fbff"/>
<rect x="538.05" y="387.21" width="22.21" height="22.15" fill="#e8f1fa"/>
<rect x="560.2" y="387.21" width="22.21" height="22.15" fill="#f2f8fd"/>
<rect x="582.35" y="387.21" width="22.21" height="22.15" fill="#f6faff"/>
<rect x="604.5" y="387.21" width="22.21" height="22.15" fill="#e5eff9"/>
<rect x="626.65" y="387.21" width="22.21" height="22.15" fill="#aed1e7"/>
<text transform="translate(482.68 246.37) scale(1.01 1.01)" font-size="8.5" text-anchor="middle" fill="#262626" textLength="9.16" lengthAdjust="spacingAndGlyphs">86</text>
<text transform="translate(504.82 246.37) scale(1.01 1.01)" font-size="8.5" text-anchor="middle" fill="#262626" textLength="4.58" lengthAdjust="spacingAndGlyphs">3</text>
<text transform="translate(526.98 246.37) scale(1.01 1.01)" font-size="8.5" text-anchor="middle" fill="#262626" textLength="4.58" lengthAdjust="spacingAndGlyphs">8</text>
<text transform="translate(549.12 246.37) scale(1.01 1.01)" font-size="8.5" text-anchor="middle" fill="#262626" textLength="4.58" lengthAdjust="spacingAndGlyphs">1</text>
<text transform="translate(571.27 246.37) scale(1.01 1.01)" font-size="8.5" text-anchor="middle" fill="#262626" textLength="4.58" lengthAdjust="spacingAndGlyphs">7</text>
<text transform="translate(593.42 246.37) scale(1.01 1.01)" font-size="8.5" text-anchor="middle" fill="#262626" textLength="4.58" lengthAdjust="spacingAndGlyphs">1</text>
<text transform="translate(615.57 246.37) scale(1.01 1.01)" font-size="8.5" text-anchor="middle" fill="#262626" textLength="9.16" lengthAdjust="spacingAndGlyphs">12</text>
<text transform="translate(637.72 246.37) scale(1.01 1.01)" font-size="8.5" text-anchor="middle" fill="#262626" textLength="4.58" lengthAdjust="spacingAndGlyphs">1</text>
<text transform="translate(482.68 268.46) scale(1.01 1.01)" font-size="8.5" text-anchor="middle" fill="#262626" textLength="4.58" lengthAdjust="spacingAndGlyphs">6</text>
<text transform="translate(504.82 268.46) scale(1.01 1.01)" font-size="8.5" text-anchor="middle" fill="#262626" textLength="9.16" lengthAdjust="spacingAndGlyphs">19</text>
<text transform="translate(526.98 268.46) scale(1.01 1.01)" font-size="8.5" text-anchor="middle" fill="#262626" textLength="4.58" lengthAdjust="spacingAndGlyphs">0</text>
<text transform="translate(549.12 268.46) scale(1.01 1.01)" font-size="8.5" text-anchor="middle" fill="#262626" textLength="4.58" lengthAdjust="spacingAndGlyphs">3</text>
<text transform="translate(571.27 268.46) scale(1.01 1.01)" font-size="8.5" text-anchor="middle" fill="#262626" textLength="4.58" lengthAdjust="spacingAndGlyphs">0</text>
<text transform="translate(593.42 268.46) scale(1.01 1.01)" font-size="8.5" text-anchor="middle" fill="#262626" textLength="4.58" lengthAdjust="spacingAndGlyphs">9</text>
<text transform="translate(615.57 268.46) scale(1.01 1.01)" font-size="8.5" text-anchor="middle" fill="#262626" textLength="9.16" lengthAdjust="spacingAndGlyphs">28</text>
<text transform="translate(637.72 268.46) scale(1.01 1.01)" font-size="8.5" text-anchor="middle" fill="#262626" textLength="4.58" lengthAdjust="spacingAndGlyphs">0</text>
<text transform="translate(482.68 290.54) scale(1.01 1.01)" font-size="8.5" text-anchor="middle" fill="#262626" textLength="4.58" lengthAdjust="spacingAndGlyphs">2</text>
<text transform="translate(504.82 290.54) scale(1.01 1.01)" font-size="8.5" text-anchor="middle" fill="#262626" textLength="4.58" lengthAdjust="spacingAndGlyphs">0</text>
<text transform="translate(526.98 290.54) scale(1.01 1.01)" font-size="8.5" text-anchor="middle" fill="#f7fbff" textLength="13.74" lengthAdjust="spacingAndGlyphs">116</text>
<text transform="translate(549.12 290.54) scale(1.01 1.01)" font-size="8.5" text-anchor="middle" fill="#262626" textLength="4.58" lengthAdjust="spacingAndGlyphs">0</text>
<text transform="translate(571.27 290.54) scale(1.01 1.01)" font-size="8.5" text-anchor="middle" fill="#262626" textLength="4.58" lengthAdjust="spacingAndGlyphs">6</text>
<text transform="translate(593.42 290.54) scale(1.01 1.01)" font-size="8.5" text-anchor="middle" fill="#262626" textLength="4.58" lengthAdjust="spacingAndGlyphs">4</text>
<text transform="translate(615.57 290.54) scale(1.01 1.01)" font-size="8.5" text-anchor="middle" fill="#262626" textLength="4.58" lengthAdjust="spacingAndGlyphs">2</text>
<text transform="translate(637.72 290.54) scale(1.01 1.01)" font-size="8.5" text-anchor="middle" fill="#262626" textLength="4.58" lengthAdjust="spacingAndGlyphs">0</text>
<text transform="translate(482.68 312.63) scale(1.01 1.01)" font-size="8.5" text-anchor="middle" fill="#262626" textLength="4.58" lengthAdjust="spacingAndGlyphs">0</text>
<text transform="translate(504.82 312.63) scale(1.01 1.01)" font-size="8.5" text-anchor="middle" fill="#262626" textLength="4.58" lengthAdjust="spacingAndGlyphs">0</text>
<text transform="translate(526.98 312.63) scale(1.01 1.01)" font-size="8.5" text-anchor="middle" fill="#262626" textLength="4.58" lengthAdjust="spacingAndGlyphs">0</text>
<text transform="translate(549.12 312.63) scale(1.01 1.01)" font-size="8.5" text-anchor="middle" fill="#f7fbff" textLength="13.74" lengthAdjust="spacingAndGlyphs">128</text>
<text transform="translate(571.27 312.63) scale(1.01 1.01)" font-size="8.5" text-anchor="middle" fill="#262626" textLength="4.58" lengthAdjust="spacingAndGlyphs">9</text>
<text transform="translate(593.42 312.63) scale(1.01 1.01)" font-size="8.5" text-anchor="middle" fill="#262626" textLength="4.58" lengthAdjust="spacingAndGlyphs">2</text>
<text transform="translate(615.57 312.63) scale(1.01 1.01)" font-size="8.5" text-anchor="middle" fill="#262626" textLength="4.58" lengthAdjust="spacingAndGlyphs">5</text>
<text transform="translate(637.72 312.63) scale(1.01 1.01)" font-size="8.5" text-anchor="middle" fill="#262626" textLength="4.58" lengthAdjust="spacingAndGlyphs">4</text>
<text transform="translate(482.68 334.72) scale(1.01 1.01)" font-size="8.5" text-anchor="middle" fill="#262626" textLength="9.16" lengthAdjust="spacingAndGlyphs">16</text>
<text transform="translate(504.82 334.72) scale(1.01 1.01)" font-size="8.5" text-anchor="middle" fill="#262626" textLength="4.58" lengthAdjust="spacingAndGlyphs">2</text>
<text transform="translate(526.98 334.72) scale(1.01 1.01)" font-size="8.5" text-anchor="middle" fill="#262626" textLength="9.16" lengthAdjust="spacingAndGlyphs">20</text>
<text transform="translate(549.12 334.72) scale(1.01 1.01)" font-size="8.5" text-anchor="middle" fill="#262626" textLength="4.58" lengthAdjust="spacingAndGlyphs">9</text>
<text transform="translate(571.27 334.72) scale(1.01 1.01)" font-size="8.5" text-anchor="middle" fill="#262626" textLength="9.16" lengthAdjust="spacingAndGlyphs">38</text>
<text transform="translate(593.42 334.72) scale(1.01 1.01)" font-size="8.5" text-anchor="middle" fill="#262626" textLength="4.58" lengthAdjust="spacingAndGlyphs">5</text>
<text transform="translate(615.57 334.72) scale(1.01 1.01)" font-size="8.5" text-anchor="middle" fill="#262626" textLength="4.58" lengthAdjust="spacingAndGlyphs">8</text>
<text transform="translate(637.72 334.72) scale(1.01 1.01)" font-size="8.5" text-anchor="middle" fill="#262626" textLength="4.58" lengthAdjust="spacingAndGlyphs">2</text>
<text transform="translate(482.68 356.81) scale(1.01 1.01)" font-size="8.5" text-anchor="middle" fill="#262626" textLength="4.58" lengthAdjust="spacingAndGlyphs">1</text>
<text transform="translate(504.82 356.81) scale(1.01 1.01)" font-size="8.5" text-anchor="middle" fill="#262626" textLength="9.16" lengthAdjust="spacingAndGlyphs">13</text>
<text transform="translate(526.98 356.81) scale(1.01 1.01)" font-size="8.5" text-anchor="middle" fill="#262626" textLength="4.58" lengthAdjust="spacingAndGlyphs">0</text>
<text transform="translate(549.12 356.81) scale(1.01 1.01)" font-size="8.5" text-anchor="middle" fill="#262626" textLength="4.58" lengthAdjust="spacingAndGlyphs">3</text>
<text transform="translate(571.27 356.81) scale(1.01 1.01)" font-size="8.5" text-anchor="middle" fill="#262626" textLength="4.58" lengthAdjust="spacingAndGlyphs">2</text>
<text transform="translate(593.42 356.81) scale(1.01 1.01)" font-size="8.5" text-anchor="middle" fill="#262626" textLength="9.16" lengthAdjust="spacingAndGlyphs">34</text>
<text transform="translate(615.57 356.81) scale(1.01 1.01)" font-size="8.5" text-anchor="middle" fill="#262626" textLength="9.16" lengthAdjust="spacingAndGlyphs">30</text>
<text transform="translate(637.72 356.81) scale(1.01 1.01)" font-size="8.5" text-anchor="middle" fill="#262626" textLength="4.58" lengthAdjust="spacingAndGlyphs">0</text>
<text transform="translate(482.68 378.89) scale(1.01 1.01)" font-size="8.5" text-anchor="middle" fill="#262626" textLength="4.58" lengthAdjust="spacingAndGlyphs">8</text>
<text transform="translate(504.82 378.89) scale(1.01 1.01)" font-size="8.5" text-anchor="middle" fill="#262626" textLength="9.16" lengthAdjust="spacingAndGlyphs">16</text>
<text transform="translate(526.98 378.89) scale(1.01 1.01)" font-size="8.5" text-anchor="middle" fill="#262626" textLength="4.58" lengthAdjust="spacingAndGlyphs">0</text>
<text transform="translate(549.12 378.89) scale(1.01 1.01)" font-size="8.5" text-anchor="middle" fill="#262626" textLength="4.58" lengthAdjust="spacingAndGlyphs">9</text>
<text transform="translate(571.27 378.89) scale(1.01 1.01)" font-size="8.5" text-anchor="middle" fill="#262626" textLength="4.58" lengthAdjust="spacingAndGlyphs">1</text>
<text transform="translate(593.42 378.89) scale(1.01 1.01)" font-size="8.5" text-anchor="middle" fill="#262626" textLength="9.16" lengthAdjust="spacingAndGlyphs">16</text>
<text transform="translate(615.57 378.89) scale(1.01 1.01)" font-size="8.5" text-anchor="middle" fill="#f7fbff" textLength="13.74" lengthAdjust="spacingAndGlyphs">209</text>
<text transform="translate(637.72 378.89) scale(1.01 1.01)" font-size="8.5" text-anchor="middle" fill="#262626" textLength="4.58" lengthAdjust="spacingAndGlyphs">3</text>
<text transform="translate(482.68 400.98) scale(1.01 1.01)" font-size="8.5" text-anchor="middle" fill="#262626" textLength="9.16" lengthAdjust="spacingAndGlyphs">18</text>
<text transform="translate(504.82 400.98) scale(1.01 1.01)" font-size="8.5" text-anchor="middle" fill="#262626" textLength="4.58" lengthAdjust="spacingAndGlyphs">4</text>
<text transform="translate(526.98 400.98) scale(1.01 1.01)" font-size="8.5" text-anchor="middle" fill="#262626" textLength="4.58" lengthAdjust="spacingAndGlyphs">0</text>
<text transform="translate(549.12 400.98) scale(1.01 1.01)" font-size="8.5" text-anchor="middle" fill="#262626" textLength="9.16" lengthAdjust="spacingAndGlyphs">16</text>
<text transform="translate(571.27 400.98) scale(1.01 1.01)" font-size="8.5" text-anchor="middle" fill="#262626" textLength="4.58" lengthAdjust="spacingAndGlyphs">5</text>
<text transform="translate(593.42 400.98) scale(1.01 1.01)" font-size="8.5" text-anchor="middle" fill="#262626" textLength="4.58" lengthAdjust="spacingAndGlyphs">1</text>
<text transform="translate(615.57 400.98) scale(1.01 1.01)" font-size="8.5" text-anchor="middle" fill="#262626" textLength="9.16" lengthAdjust="spacingAndGlyphs">19</text>
<text transform="translate(637.72 400.98) scale(1.01 1.01)" font-size="8.5" text-anchor="middle" fill="#262626" textLength="9.16" lengthAdjust="spacingAndGlyphs">68</text>
<rect x="471.6" y="232.6" width="177.2" height="176.7" fill="none" stroke="#444" stroke-width="1.2"/>
<line x1="482.68" y1="409.3" x2="482.68" y2="411.12" stroke="#444" stroke-width="0.6"/>
<text transform="translate(482.68 416.4) scale(1.01 1.01)" font-size="5.19" text-anchor="middle" fill="#333" textLength="2.8" lengthAdjust="spacingAndGlyphs">0</text>
<line x1="504.82" y1="409.3" x2="504.82" y2="411.12" stroke="#444" stroke-width="0.6"/>
<text transform="translate(504.82 416.4) scale(1.01 1.01)" font-size="5.19" text-anchor="middle" fill="#333" textLength="2.8" lengthAdjust="spacingAndGlyphs">1</text>
<line x1="526.98" y1="409.3" x2="526.98" y2="411.12" stroke="#444" stroke-width="0.6"/>
<text transform="translate(526.98 416.4) scale(1.01 1.01)" font-size="5.19" text-anchor="middle" fill="#333" textLength="2.8" lengthAdjust="spacingAndGlyphs">2</text>
<line x1="549.12" y1="409.3" x2="549.12" y2="411.12" stroke="#444" stroke-width="0.6"/>
<text transform="translate(549.12 416.4) scale(1.01 1.01)" font-size="5.19" text-anchor="middle" fill="#333" textLength="2.8" lengthAdjust="spacingAndGlyphs">3</text>
<line x1="571.27" y1="409.3" x2="571.27" y2="411.12" stroke="#444" stroke-width="0.6"/>
<text transform="translate(571.27 416.4) scale(1.01 1.01)" font-size="5.19" text-anchor="middle" fill="#333" textLength="2.8" lengthAdjust="spacingAndGlyphs">4</text>
<line x1="593.42" y1="409.3" x2="593.42" y2="411.12" stroke="#444" stroke-width="0.6"/>
<text transform="translate(593.42 416.4) scale(1.01 1.01)" font-size="5.19" text-anchor="middle" fill="#333" textLength="2.8" lengthAdjust="spacingAndGlyphs">5</text>
<line x1="615.57" y1="409.3" x2="615.57" y2="411.12" stroke="#444" stroke-width="0.6"/>
<text transform="translate(615.57 416.4) scale(1.01 1.01)" font-size="5.19" text-anchor="middle" fill="#333" textLength="2.8" lengthAdjust="spacingAndGlyphs">6</text>
<line x1="637.72" y1="409.3" x2="637.72" y2="411.12" stroke="#444" stroke-width="0.6"/>
<text transform="translate(637.72 416.4) scale(1.01 1.01)" font-size="5.19" text-anchor="middle" fill="#333" textLength="2.8" lengthAdjust="spacingAndGlyphs">7</text>
<line x1="469.78" y1="243.64" x2="471.6" y2="243.64" stroke="#444" stroke-width="0.6"/>
<text dy="1.7" transform="translate(467.75 244.14) rotate(-45) scale(1.01 1.01)" font-size="5.97" text-anchor="middle" fill="#2a2a2a" textLength="3.22" lengthAdjust="spacingAndGlyphs">0</text>
<line x1="469.78" y1="265.73" x2="471.6" y2="265.73" stroke="#444" stroke-width="0.6"/>
<text dy="1.7" transform="translate(467.75 266.23) rotate(-45) scale(1.01 1.01)" font-size="5.97" text-anchor="middle" fill="#2a2a2a" textLength="3.22" lengthAdjust="spacingAndGlyphs">1</text>
<line x1="469.78" y1="287.82" x2="471.6" y2="287.82" stroke="#444" stroke-width="0.6"/>
<text dy="1.7" transform="translate(467.75 288.32) rotate(-45) scale(1.01 1.01)" font-size="5.97" text-anchor="middle" fill="#2a2a2a" textLength="3.22" lengthAdjust="spacingAndGlyphs">2</text>
<line x1="469.78" y1="309.91" x2="471.6" y2="309.91" stroke="#444" stroke-width="0.6"/>
<text dy="1.7" transform="translate(467.75 310.41) rotate(-45) scale(1.01 1.01)" font-size="5.97" text-anchor="middle" fill="#2a2a2a" textLength="3.22" lengthAdjust="spacingAndGlyphs">3</text>
<line x1="469.78" y1="331.99" x2="471.6" y2="331.99" stroke="#444" stroke-width="0.6"/>
<text dy="1.7" transform="translate(467.75 332.49) rotate(-45) scale(1.01 1.01)" font-size="5.97" text-anchor="middle" fill="#2a2a2a" textLength="3.22" lengthAdjust="spacingAndGlyphs">4</text>
<line x1="469.78" y1="354.08" x2="471.6" y2="354.08" stroke="#444" stroke-width="0.6"/>
<text dy="1.7" transform="translate(467.75 354.58) rotate(-45) scale(1.01 1.01)" font-size="5.97" text-anchor="middle" fill="#2a2a2a" textLength="3.22" lengthAdjust="spacingAndGlyphs">5</text>
<line x1="469.78" y1="376.17" x2="471.6" y2="376.17" stroke="#444" stroke-width="0.6"/>
<text dy="1.7" transform="translate(467.75 376.67) rotate(-45) scale(1.01 1.01)" font-size="5.97" text-anchor="middle" fill="#2a2a2a" textLength="3.22" lengthAdjust="spacingAndGlyphs">6</text>
<line x1="469.78" y1="398.26" x2="471.6" y2="398.26" stroke="#444" stroke-width="0.6"/>
<text dy="1.7" transform="translate(467.75 398.76) rotate(-45) scale(1.01 1.01)" font-size="5.97" text-anchor="middle" fill="#2a2a2a" textLength="3.22" lengthAdjust="spacingAndGlyphs">7</text>
<text transform="translate(560.2 230.18) scale(1.01 1.01)" font-size="9.09" text-anchor="middle" fill="#1a1a1a" stroke="#1a1a1a" stroke-width="0.14" textLength="76.97" lengthAdjust="spacingAndGlyphs">Confusion matrix</text>
<text transform="translate(560.2 423.5) scale(1.01 1.01)" font-size="7.34" text-anchor="middle" fill="#2a2a2a" stroke="#2a2a2a" stroke-width="0.1" textLength="55.97" lengthAdjust="spacingAndGlyphs">Predicted Labels</text>
<text transform="translate(461.88 320.95) rotate(-90) scale(1.01 1.01)" font-size="7.34" text-anchor="middle" fill="#2a2a2a" stroke="#2a2a2a" stroke-width="0.1" textLength="38.49" lengthAdjust="spacingAndGlyphs">True Labels</text>
<rect x="661.6" y="232.6" width="8.6" height="176.7" fill="url(#gF)"/>
<rect x="661.6" y="232.6" width="8.6" height="176.7" fill="none" stroke="#333" stroke-width="1.1"/>
<line x1="670.2" y1="409.3" x2="671.62" y2="409.3" stroke="#444" stroke-width="0.5"/>
<text transform="translate(674.15 411.12) scale(1.01 1.01)" font-size="5.07" text-anchor="start" fill="#2a2a2a" textLength="2.74" lengthAdjust="spacingAndGlyphs">0</text>
<line x1="670.2" y1="388.16" x2="671.62" y2="388.16" stroke="#444" stroke-width="0.5"/>
<text transform="translate(674.15 389.98) scale(1.01 1.01)" font-size="5.07" text-anchor="start" fill="#2a2a2a" textLength="5.47" lengthAdjust="spacingAndGlyphs">25</text>
<line x1="670.2" y1="367.03" x2="671.62" y2="367.03" stroke="#444" stroke-width="0.5"/>
<text transform="translate(674.15 368.84) scale(1.01 1.01)" font-size="5.07" text-anchor="start" fill="#2a2a2a" textLength="5.47" lengthAdjust="spacingAndGlyphs">50</text>
<line x1="670.2" y1="345.89" x2="671.62" y2="345.89" stroke="#444" stroke-width="0.5"/>
<text transform="translate(674.15 347.71) scale(1.01 1.01)" font-size="5.07" text-anchor="start" fill="#2a2a2a" textLength="5.47" lengthAdjust="spacingAndGlyphs">75</text>
<line x1="670.2" y1="324.75" x2="671.62" y2="324.75" stroke="#444" stroke-width="0.5"/>
<text transform="translate(674.15 326.57) scale(1.01 1.01)" font-size="5.07" text-anchor="start" fill="#2a2a2a" textLength="8.21" lengthAdjust="spacingAndGlyphs">100</text>
<line x1="670.2" y1="303.62" x2="671.62" y2="303.62" stroke="#444" stroke-width="0.5"/>
<text transform="translate(674.15 305.44) scale(1.01 1.01)" font-size="5.07" text-anchor="start" fill="#2a2a2a" textLength="8.21" lengthAdjust="spacingAndGlyphs">125</text>
<line x1="670.2" y1="282.48" x2="671.62" y2="282.48" stroke="#444" stroke-width="0.5"/>
<text transform="translate(674.15 284.3) scale(1.01 1.01)" font-size="5.07" text-anchor="start" fill="#2a2a2a" textLength="8.21" lengthAdjust="spacingAndGlyphs">150</text>
<line x1="670.2" y1="261.35" x2="671.62" y2="261.35" stroke="#444" stroke-width="0.5"/>
<text transform="translate(674.15 263.16) scale(1.01 1.01)" font-size="5.07" text-anchor="start" fill="#2a2a2a" textLength="8.21" lengthAdjust="spacingAndGlyphs">175</text>
<line x1="670.2" y1="240.21" x2="671.62" y2="240.21" stroke="#444" stroke-width="0.5"/>
<text transform="translate(674.15 242.03) scale(1.01 1.01)" font-size="5.07" text-anchor="start" fill="#2a2a2a" textLength="8.21" lengthAdjust="spacingAndGlyphs">200</text>
<rect x="16.7" y="443.7" width="22.79" height="22.61" fill="#6dafd7"/>
<rect x="39.42" y="443.7" width="22.79" height="22.61" fill="#f6faff"/>
<rect x="62.15" y="443.7" width="22.79" height="22.61" fill="#f6faff"/>
<rect x="84.88" y="443.7" width="22.79" height="22.61" fill="#f7fbff"/>
<rect x="107.6" y="443.7" width="22.79" height="22.61" fill="#e7f1fa"/>
<rect x="130.32" y="443.7" width="22.79" height="22.61" fill="#f6faff"/>
<rect x="153.05" y="443.7" width="22.79" height="22.61" fill="#f6faff"/>
<rect x="175.78" y="443.7" width="22.79" height="22.61" fill="#f6faff"/>
<rect x="16.7" y="466.25" width="22.79" height="22.61" fill="#f3f8fe"/>
<rect x="39.42" y="466.25" width="22.79" height="22.61" fill="#dae8f6"/>
<rect x="62.15" y="466.25" width="22.79" height="22.61" fill="#f7fbff"/>
<rect x="84.88" y="466.25" width="22.79" height="22.61" fill="#f5f9fe"/>
<rect x="107.6" y="466.25" width="22.79" height="22.61" fill="#f7fbff"/>
<rect x="130.32" y="466.25" width="22.79" height="22.61" fill="#e7f1fa"/>
<rect x="153.05" y="466.25" width="22.79" height="22.61" fill="#eaf3fb"/>
<rect x="175.78" y="466.25" width="22.79" height="22.61" fill="#f7fbff"/>
<rect x="16.7" y="488.8" width="22.79" height="22.61" fill="#f5f9fe"/>
<rect x="39.42" y="488.8" width="22.79" height="22.61" fill="#f7fbff"/>
<rect x="62.15" y="488.8" width="22.79" height="22.61" fill="#4e9acb"/>
<rect x="84.88" y="488.8" width="22.79" height="22.61" fill="#f7fbff"/>
<rect x="107.6" y="488.8" width="22.79" height="22.61" fill="#eef5fc"/>
<rect x="130.32" y="488.8" width="22.79" height="22.61" fill="#f6faff"/>
<rect x="153.05" y="488.8" width="22.79" height="22.61" fill="#f7fbff"/>
<rect x="175.78" y="488.8" width="22.79" height="22.61" fill="#f7fbff"/>
<rect x="16.7" y="511.35" width="22.79" height="22.61" fill="#f7fbff"/>
<rect x="39.42" y="511.35" width="22.79" height="22.61" fill="#f7fbff"/>
<rect x="62.15" y="511.35" width="22.79" height="22.61" fill="#f7fbff"/>
<rect x="84.88" y="511.35" width="22.79" height="22.61" fill="#2d7dbb"/>
<rect x="107.6" y="511.35" width="22.79" height="22.61" fill="#f6faff"/>
<rect x="130.32" y="511.35" width="22.79" height="22.61" fill="#f6faff"/>
<rect x="153.05" y="511.35" width="22.79" height="22.61" fill="#f2f8fd"/>
<rect x="175.78" y="511.35" width="22.79" height="22.61" fill="#f6faff"/>
<rect x="16.7" y="533.9" width="22.79" height="22.61" fill="#e2edf8"/>
<rect x="39.42" y="533.9" width="22.79" height="22.61" fill="#f7fbff"/>
<rect x="62.15" y="533.9" width="22.79" height="22.61" fill="#eef5fc"/>
<rect x="84.88" y="533.9" width="22.79" height="22.61" fill="#f7fbff"/>
<rect x="107.6" y="533.9" width="22.79" height="22.61" fill="#a9cfe5"/>
<rect x="130.32" y="533.9" width="22.79" height="22.61" fill="#f7fbff"/>
<rect x="153.05" y="533.9" width="22.79" height="22.61" fill="#f7fbff"/>
<rect x="175.78" y="533.9" width="22.79" height="22.61" fill="#f5fafe"/>
<rect x="16.7" y="556.45" width="22.79" height="22.61" fill="#f5fafe"/>
<rect x="39.42" y="556.45" width="22.79" height="22.61" fill="#eff6fc"/>
<rect x="62.15" y="556.45" width="22.79" height="22.61" fill="#f7fbff"/>
<rect x="84.88" y="556.45" width="22.79" height="22.61" fill="#f5f9fe"/>
<rect x="107.6" y="556.45" width="22.79" height="22.61" fill="#f7fbff"/>
<rect x="130.32" y="556.45" width="22.79" height="22.61" fill="#b9d6ea"/>
<rect x="153.05" y="556.45" width="22.79" height="22.61" fill="#ebf3fb"/>
<rect x="175.78" y="556.45" width="22.79" height="22.61" fill="#f7fbff"/>
<rect x="16.7" y="579" width="22.79" height="22.61" fill="#f2f7fd"/>
<rect x="39.42" y="579" width="22.79" height="22.61" fill="#e5eff9"/>
<rect x="62.15" y="579" width="22.79" height="22.61" fill="#f5fafe"/>
<rect x="84.88" y="579" width="22.79" height="22.61" fill="#eff6fc"/>
<rect x="107.6" y="579" width="22.79" height="22.61" fill="#f7fbff"/>
<rect x="130.32" y="579" width="22.79" height="22.61" fill="#dbe9f6"/>
<rect x="153.05" y="579" width="22.79" height="22.61" fill="#08306b"/>
<rect x="175.78" y="579" width="22.79" height="22.61" fill="#f6faff"/>
<rect x="16.7" y="601.55" width="22.79" height="22.61" fill="#c4daee"/>
<rect x="39.42" y="601.55" width="22.79" height="22.61" fill="#f7fbff"/>
<rect x="62.15" y="601.55" width="22.79" height="22.61" fill="#f7fbff"/>
<rect x="84.88" y="601.55" width="22.79" height="22.61" fill="#f5fafe"/>
<rect x="107.6" y="601.55" width="22.79" height="22.61" fill="#f0f6fd"/>
<rect x="130.32" y="601.55" width="22.79" height="22.61" fill="#f7fbff"/>
<rect x="153.05" y="601.55" width="22.79" height="22.61" fill="#f5fafe"/>
<rect x="175.78" y="601.55" width="22.79" height="22.61" fill="#a8cee4"/>
<text transform="translate(28.06 457.76) scale(1.04 1.03)" font-size="8.5" text-anchor="middle" fill="#f7fbff" textLength="9.16" lengthAdjust="spacingAndGlyphs">98</text>
<text transform="translate(50.79 457.76) scale(1.04 1.03)" font-size="8.5" text-anchor="middle" fill="#262626" textLength="4.58" lengthAdjust="spacingAndGlyphs">1</text>
<text transform="translate(73.51 457.76) scale(1.04 1.03)" font-size="8.5" text-anchor="middle" fill="#262626" textLength="4.58" lengthAdjust="spacingAndGlyphs">1</text>
<text transform="translate(96.24 457.76) scale(1.04 1.03)" font-size="8.5" text-anchor="middle" fill="#262626" textLength="4.58" lengthAdjust="spacingAndGlyphs">0</text>
<text transform="translate(118.96 457.76) scale(1.04 1.03)" font-size="8.5" text-anchor="middle" fill="#262626" textLength="9.16" lengthAdjust="spacingAndGlyphs">16</text>
<text transform="translate(141.69 457.76) scale(1.04 1.03)" font-size="8.5" text-anchor="middle" fill="#262626" textLength="4.58" lengthAdjust="spacingAndGlyphs">1</text>
<text transform="translate(164.41 457.76) scale(1.04 1.03)" font-size="8.5" text-anchor="middle" fill="#262626" textLength="4.58" lengthAdjust="spacingAndGlyphs">1</text>
<text transform="translate(187.14 457.76) scale(1.04 1.03)" font-size="8.5" text-anchor="middle" fill="#262626" textLength="4.58" lengthAdjust="spacingAndGlyphs">1</text>
<text transform="translate(28.06 480.31) scale(1.04 1.03)" font-size="8.5" text-anchor="middle" fill="#262626" textLength="4.58" lengthAdjust="spacingAndGlyphs">4</text>
<text transform="translate(50.79 480.31) scale(1.04 1.03)" font-size="8.5" text-anchor="middle" fill="#262626" textLength="9.16" lengthAdjust="spacingAndGlyphs">29</text>
<text transform="translate(73.51 480.31) scale(1.04 1.03)" font-size="8.5" text-anchor="middle" fill="#262626" textLength="4.58" lengthAdjust="spacingAndGlyphs">0</text>
<text transform="translate(96.24 480.31) scale(1.04 1.03)" font-size="8.5" text-anchor="middle" fill="#262626" textLength="4.58" lengthAdjust="spacingAndGlyphs">3</text>
<text transform="translate(118.96 480.31) scale(1.04 1.03)" font-size="8.5" text-anchor="middle" fill="#262626" textLength="4.58" lengthAdjust="spacingAndGlyphs">0</text>
<text transform="translate(141.69 480.31) scale(1.04 1.03)" font-size="8.5" text-anchor="middle" fill="#262626" textLength="9.16" lengthAdjust="spacingAndGlyphs">16</text>
<text transform="translate(164.41 480.31) scale(1.04 1.03)" font-size="8.5" text-anchor="middle" fill="#262626" textLength="9.16" lengthAdjust="spacingAndGlyphs">13</text>
<text transform="translate(187.14 480.31) scale(1.04 1.03)" font-size="8.5" text-anchor="middle" fill="#262626" textLength="4.58" lengthAdjust="spacingAndGlyphs">0</text>
<text transform="translate(28.06 502.86) scale(1.04 1.03)" font-size="8.5" text-anchor="middle" fill="#262626" textLength="4.58" lengthAdjust="spacingAndGlyphs">3</text>
<text transform="translate(50.79 502.86) scale(1.04 1.03)" font-size="8.5" text-anchor="middle" fill="#262626" textLength="4.58" lengthAdjust="spacingAndGlyphs">0</text>
<text transform="translate(73.51 502.86) scale(1.04 1.03)" font-size="8.5" text-anchor="middle" fill="#f7fbff" textLength="13.74" lengthAdjust="spacingAndGlyphs">117</text>
<text transform="translate(96.24 502.86) scale(1.04 1.03)" font-size="8.5" text-anchor="middle" fill="#262626" textLength="4.58" lengthAdjust="spacingAndGlyphs">0</text>
<text transform="translate(118.96 502.86) scale(1.04 1.03)" font-size="8.5" text-anchor="middle" fill="#262626" textLength="4.58" lengthAdjust="spacingAndGlyphs">9</text>
<text transform="translate(141.69 502.86) scale(1.04 1.03)" font-size="8.5" text-anchor="middle" fill="#262626" textLength="4.58" lengthAdjust="spacingAndGlyphs">1</text>
<text transform="translate(164.41 502.86) scale(1.04 1.03)" font-size="8.5" text-anchor="middle" fill="#262626" textLength="4.58" lengthAdjust="spacingAndGlyphs">0</text>
<text transform="translate(187.14 502.86) scale(1.04 1.03)" font-size="8.5" text-anchor="middle" fill="#262626" textLength="4.58" lengthAdjust="spacingAndGlyphs">0</text>
<text transform="translate(28.06 525.41) scale(1.04 1.03)" font-size="8.5" text-anchor="middle" fill="#262626" textLength="4.58" lengthAdjust="spacingAndGlyphs">0</text>
<text transform="translate(50.79 525.41) scale(1.04 1.03)" font-size="8.5" text-anchor="middle" fill="#262626" textLength="4.58" lengthAdjust="spacingAndGlyphs">0</text>
<text transform="translate(73.51 525.41) scale(1.04 1.03)" font-size="8.5" text-anchor="middle" fill="#262626" textLength="4.58" lengthAdjust="spacingAndGlyphs">0</text>
<text transform="translate(96.24 525.41) scale(1.04 1.03)" font-size="8.5" text-anchor="middle" fill="#f7fbff" textLength="13.74" lengthAdjust="spacingAndGlyphs">140</text>
<text transform="translate(118.96 525.41) scale(1.04 1.03)" font-size="8.5" text-anchor="middle" fill="#262626" textLength="4.58" lengthAdjust="spacingAndGlyphs">1</text>
<text transform="translate(141.69 525.41) scale(1.04 1.03)" font-size="8.5" text-anchor="middle" fill="#262626" textLength="4.58" lengthAdjust="spacingAndGlyphs">1</text>
<text transform="translate(164.41 525.41) scale(1.04 1.03)" font-size="8.5" text-anchor="middle" fill="#262626" textLength="4.58" lengthAdjust="spacingAndGlyphs">5</text>
<text transform="translate(187.14 525.41) scale(1.04 1.03)" font-size="8.5" text-anchor="middle" fill="#262626" textLength="4.58" lengthAdjust="spacingAndGlyphs">1</text>
<text transform="translate(28.06 547.96) scale(1.04 1.03)" font-size="8.5" text-anchor="middle" fill="#262626" textLength="9.16" lengthAdjust="spacingAndGlyphs">21</text>
<text transform="translate(50.79 547.96) scale(1.04 1.03)" font-size="8.5" text-anchor="middle" fill="#262626" textLength="4.58" lengthAdjust="spacingAndGlyphs">0</text>
<text transform="translate(73.51 547.96) scale(1.04 1.03)" font-size="8.5" text-anchor="middle" fill="#262626" textLength="4.58" lengthAdjust="spacingAndGlyphs">9</text>
<text transform="translate(96.24 547.96) scale(1.04 1.03)" font-size="8.5" text-anchor="middle" fill="#262626" textLength="4.58" lengthAdjust="spacingAndGlyphs">0</text>
<text transform="translate(118.96 547.96) scale(1.04 1.03)" font-size="8.5" text-anchor="middle" fill="#262626" textLength="9.16" lengthAdjust="spacingAndGlyphs">68</text>
<text transform="translate(141.69 547.96) scale(1.04 1.03)" font-size="8.5" text-anchor="middle" fill="#262626" textLength="4.58" lengthAdjust="spacingAndGlyphs">0</text>
<text transform="translate(164.41 547.96) scale(1.04 1.03)" font-size="8.5" text-anchor="middle" fill="#262626" textLength="4.58" lengthAdjust="spacingAndGlyphs">0</text>
<text transform="translate(187.14 547.96) scale(1.04 1.03)" font-size="8.5" text-anchor="middle" fill="#262626" textLength="4.58" lengthAdjust="spacingAndGlyphs">2</text>
<text transform="translate(28.06 570.51) scale(1.04 1.03)" font-size="8.5" text-anchor="middle" fill="#262626" textLength="4.58" lengthAdjust="spacingAndGlyphs">2</text>
<text transform="translate(50.79 570.51) scale(1.04 1.03)" font-size="8.5" text-anchor="middle" fill="#262626" textLength="4.58" lengthAdjust="spacingAndGlyphs">8</text>
<text transform="translate(73.51 570.51) scale(1.04 1.03)" font-size="8.5" text-anchor="middle" fill="#262626" textLength="4.58" lengthAdjust="spacingAndGlyphs">0</text>
<text transform="translate(96.24 570.51) scale(1.04 1.03)" font-size="8.5" text-anchor="middle" fill="#262626" textLength="4.58" lengthAdjust="spacingAndGlyphs">3</text>
<text transform="translate(118.96 570.51) scale(1.04 1.03)" font-size="8.5" text-anchor="middle" fill="#262626" textLength="4.58" lengthAdjust="spacingAndGlyphs">0</text>
<text transform="translate(141.69 570.51) scale(1.04 1.03)" font-size="8.5" text-anchor="middle" fill="#262626" textLength="9.16" lengthAdjust="spacingAndGlyphs">58</text>
<text transform="translate(164.41 570.51) scale(1.04 1.03)" font-size="8.5" text-anchor="middle" fill="#262626" textLength="9.16" lengthAdjust="spacingAndGlyphs">12</text>
<text transform="translate(187.14 570.51) scale(1.04 1.03)" font-size="8.5" text-anchor="middle" fill="#262626" textLength="4.58" lengthAdjust="spacingAndGlyphs">0</text>
<text transform="translate(28.06 593.06) scale(1.04 1.03)" font-size="8.5" text-anchor="middle" fill="#262626" textLength="4.58" lengthAdjust="spacingAndGlyphs">6</text>
<text transform="translate(50.79 593.06) scale(1.04 1.03)" font-size="8.5" text-anchor="middle" fill="#262626" textLength="9.16" lengthAdjust="spacingAndGlyphs">18</text>
<text transform="translate(73.51 593.06) scale(1.04 1.03)" font-size="8.5" text-anchor="middle" fill="#262626" textLength="4.58" lengthAdjust="spacingAndGlyphs">2</text>
<text transform="translate(96.24 593.06) scale(1.04 1.03)" font-size="8.5" text-anchor="middle" fill="#262626" textLength="4.58" lengthAdjust="spacingAndGlyphs">8</text>
<text transform="translate(118.96 593.06) scale(1.04 1.03)" font-size="8.5" text-anchor="middle" fill="#262626" textLength="4.58" lengthAdjust="spacingAndGlyphs">0</text>
<text transform="translate(141.69 593.06) scale(1.04 1.03)" font-size="8.5" text-anchor="middle" fill="#262626" textLength="9.16" lengthAdjust="spacingAndGlyphs">28</text>
<text transform="translate(164.41 593.06) scale(1.04 1.03)" font-size="8.5" text-anchor="middle" fill="#f7fbff" textLength="13.74" lengthAdjust="spacingAndGlyphs">199</text>
<text transform="translate(187.14 593.06) scale(1.04 1.03)" font-size="8.5" text-anchor="middle" fill="#262626" textLength="4.58" lengthAdjust="spacingAndGlyphs">1</text>
<text transform="translate(28.06 615.61) scale(1.04 1.03)" font-size="8.5" text-anchor="middle" fill="#262626" textLength="9.16" lengthAdjust="spacingAndGlyphs">51</text>
<text transform="translate(50.79 615.61) scale(1.04 1.03)" font-size="8.5" text-anchor="middle" fill="#262626" textLength="4.58" lengthAdjust="spacingAndGlyphs">0</text>
<text transform="translate(73.51 615.61) scale(1.04 1.03)" font-size="8.5" text-anchor="middle" fill="#262626" textLength="4.58" lengthAdjust="spacingAndGlyphs">0</text>
<text transform="translate(96.24 615.61) scale(1.04 1.03)" font-size="8.5" text-anchor="middle" fill="#262626" textLength="4.58" lengthAdjust="spacingAndGlyphs">2</text>
<text transform="translate(118.96 615.61) scale(1.04 1.03)" font-size="8.5" text-anchor="middle" fill="#262626" textLength="4.58" lengthAdjust="spacingAndGlyphs">7</text>
<text transform="translate(141.69 615.61) scale(1.04 1.03)" font-size="8.5" text-anchor="middle" fill="#262626" textLength="4.58" lengthAdjust="spacingAndGlyphs">0</text>
<text transform="translate(164.41 615.61) scale(1.04 1.03)" font-size="8.5" text-anchor="middle" fill="#262626" textLength="4.58" lengthAdjust="spacingAndGlyphs">2</text>
<text transform="translate(187.14 615.61) scale(1.04 1.03)" font-size="8.5" text-anchor="middle" fill="#262626" textLength="9.16" lengthAdjust="spacingAndGlyphs">69</text>
<rect x="16.7" y="443.7" width="181.8" height="180.4" fill="none" stroke="#444" stroke-width="1.0"/>
<line x1="28.06" y1="624.1" x2="28.06" y2="625.96" stroke="#444" stroke-width="0.6"/>
<text transform="translate(28.06 631.2) scale(1.04 1.03)" font-size="5.19" text-anchor="middle" fill="#333" textLength="2.8" lengthAdjust="spacingAndGlyphs">0</text>
<line x1="50.79" y1="624.1" x2="50.79" y2="625.96" stroke="#444" stroke-width="0.6"/>
<text transform="translate(50.79 631.2) scale(1.04 1.03)" font-size="5.19" text-anchor="middle" fill="#333" textLength="2.8" lengthAdjust="spacingAndGlyphs">1</text>
<line x1="73.51" y1="624.1" x2="73.51" y2="625.96" stroke="#444" stroke-width="0.6"/>
<text transform="translate(73.51 631.2) scale(1.04 1.03)" font-size="5.19" text-anchor="middle" fill="#333" textLength="2.8" lengthAdjust="spacingAndGlyphs">2</text>
<line x1="96.24" y1="624.1" x2="96.24" y2="625.96" stroke="#444" stroke-width="0.6"/>
<text transform="translate(96.24 631.2) scale(1.04 1.03)" font-size="5.19" text-anchor="middle" fill="#333" textLength="2.8" lengthAdjust="spacingAndGlyphs">3</text>
<line x1="118.96" y1="624.1" x2="118.96" y2="625.96" stroke="#444" stroke-width="0.6"/>
<text transform="translate(118.96 631.2) scale(1.04 1.03)" font-size="5.19" text-anchor="middle" fill="#333" textLength="2.8" lengthAdjust="spacingAndGlyphs">4</text>
<line x1="141.69" y1="624.1" x2="141.69" y2="625.96" stroke="#444" stroke-width="0.6"/>
<text transform="translate(141.69 631.2) scale(1.04 1.03)" font-size="5.19" text-anchor="middle" fill="#333" textLength="2.8" lengthAdjust="spacingAndGlyphs">5</text>
<line x1="164.41" y1="624.1" x2="164.41" y2="625.96" stroke="#444" stroke-width="0.6"/>
<text transform="translate(164.41 631.2) scale(1.04 1.03)" font-size="5.19" text-anchor="middle" fill="#333" textLength="2.8" lengthAdjust="spacingAndGlyphs">6</text>
<line x1="187.14" y1="624.1" x2="187.14" y2="625.96" stroke="#444" stroke-width="0.6"/>
<text transform="translate(187.14 631.2) scale(1.04 1.03)" font-size="5.19" text-anchor="middle" fill="#333" textLength="2.8" lengthAdjust="spacingAndGlyphs">7</text>
<line x1="14.83" y1="454.97" x2="16.7" y2="454.97" stroke="#444" stroke-width="0.6"/>
<text dy="1.7" transform="translate(12.75 455.47) rotate(-45) scale(1.04 1.03)" font-size="5.97" text-anchor="middle" fill="#2a2a2a" textLength="3.22" lengthAdjust="spacingAndGlyphs">0</text>
<line x1="14.83" y1="477.52" x2="16.7" y2="477.52" stroke="#444" stroke-width="0.6"/>
<text dy="1.7" transform="translate(12.75 478.02) rotate(-45) scale(1.04 1.03)" font-size="5.97" text-anchor="middle" fill="#2a2a2a" textLength="3.22" lengthAdjust="spacingAndGlyphs">1</text>
<line x1="14.83" y1="500.07" x2="16.7" y2="500.07" stroke="#444" stroke-width="0.6"/>
<text dy="1.7" transform="translate(12.75 500.57) rotate(-45) scale(1.04 1.03)" font-size="5.97" text-anchor="middle" fill="#2a2a2a" textLength="3.22" lengthAdjust="spacingAndGlyphs">2</text>
<line x1="14.83" y1="522.62" x2="16.7" y2="522.62" stroke="#444" stroke-width="0.6"/>
<text dy="1.7" transform="translate(12.75 523.12) rotate(-45) scale(1.04 1.03)" font-size="5.97" text-anchor="middle" fill="#2a2a2a" textLength="3.22" lengthAdjust="spacingAndGlyphs">3</text>
<line x1="14.83" y1="545.17" x2="16.7" y2="545.17" stroke="#444" stroke-width="0.6"/>
<text dy="1.7" transform="translate(12.75 545.67) rotate(-45) scale(1.04 1.03)" font-size="5.97" text-anchor="middle" fill="#2a2a2a" textLength="3.22" lengthAdjust="spacingAndGlyphs">4</text>
<line x1="14.83" y1="567.73" x2="16.7" y2="567.73" stroke="#444" stroke-width="0.6"/>
<text dy="1.7" transform="translate(12.75 568.23) rotate(-45) scale(1.04 1.03)" font-size="5.97" text-anchor="middle" fill="#2a2a2a" textLength="3.22" lengthAdjust="spacingAndGlyphs">5</text>
<line x1="14.83" y1="590.27" x2="16.7" y2="590.27" stroke="#444" stroke-width="0.6"/>
<text dy="1.7" transform="translate(12.75 590.77) rotate(-45) scale(1.04 1.03)" font-size="5.97" text-anchor="middle" fill="#2a2a2a" textLength="3.22" lengthAdjust="spacingAndGlyphs">6</text>
<line x1="14.83" y1="612.83" x2="16.7" y2="612.83" stroke="#444" stroke-width="0.6"/>
<text dy="1.7" transform="translate(12.75 613.33) rotate(-45) scale(1.04 1.03)" font-size="5.97" text-anchor="middle" fill="#2a2a2a" textLength="3.22" lengthAdjust="spacingAndGlyphs">7</text>
<text transform="translate(107.6 441.23) scale(1.04 1.03)" font-size="9.09" text-anchor="middle" fill="#1a1a1a" stroke="#1a1a1a" stroke-width="0.14" textLength="76.97" lengthAdjust="spacingAndGlyphs">Confusion matrix</text>
<text transform="translate(107.6 639.15) scale(1.04 1.03)" font-size="7.34" text-anchor="middle" fill="#2a2a2a" stroke="#2a2a2a" stroke-width="0.1" textLength="55.97" lengthAdjust="spacingAndGlyphs">Predicted Labels</text>
<text transform="translate(6.73 533.9) rotate(-90) scale(1.04 1.03)" font-size="7.34" text-anchor="middle" fill="#2a2a2a" stroke="#2a2a2a" stroke-width="0.1" textLength="38.49" lengthAdjust="spacingAndGlyphs">True Labels</text>
<rect x="211.9" y="443.7" width="9.1" height="180.4" fill="url(#gG)"/>
<line x1="221.2" y1="624.1" x2="222.6" y2="624.1" stroke="#555" stroke-width="0.7"/>
<text transform="translate(223.7 625.96) scale(1.04 1.03)" font-size="5.07" text-anchor="start" fill="#2a2a2a" textLength="2.74" lengthAdjust="spacingAndGlyphs">0</text>
<line x1="221.2" y1="601.44" x2="222.6" y2="601.44" stroke="#555" stroke-width="0.7"/>
<text transform="translate(223.7 603.29) scale(1.04 1.03)" font-size="5.07" text-anchor="start" fill="#2a2a2a" textLength="5.47" lengthAdjust="spacingAndGlyphs">25</text>
<line x1="221.2" y1="578.77" x2="222.6" y2="578.77" stroke="#555" stroke-width="0.7"/>
<text transform="translate(223.7 580.63) scale(1.04 1.03)" font-size="5.07" text-anchor="start" fill="#2a2a2a" textLength="5.47" lengthAdjust="spacingAndGlyphs">50</text>
<line x1="221.2" y1="556.11" x2="222.6" y2="556.11" stroke="#555" stroke-width="0.7"/>
<text transform="translate(223.7 557.97) scale(1.04 1.03)" font-size="5.07" text-anchor="start" fill="#2a2a2a" textLength="5.47" lengthAdjust="spacingAndGlyphs">75</text>
<line x1="221.2" y1="533.45" x2="222.6" y2="533.45" stroke="#555" stroke-width="0.7"/>
<text transform="translate(223.7 535.3) scale(1.04 1.03)" font-size="5.07" text-anchor="start" fill="#2a2a2a" textLength="8.21" lengthAdjust="spacingAndGlyphs">100</text>
<line x1="221.2" y1="510.78" x2="222.6" y2="510.78" stroke="#555" stroke-width="0.7"/>
<text transform="translate(223.7 512.64) scale(1.04 1.03)" font-size="5.07" text-anchor="start" fill="#2a2a2a" textLength="8.21" lengthAdjust="spacingAndGlyphs">125</text>
<line x1="221.2" y1="488.12" x2="222.6" y2="488.12" stroke="#555" stroke-width="0.7"/>
<text transform="translate(223.7 489.98) scale(1.04 1.03)" font-size="5.07" text-anchor="start" fill="#2a2a2a" textLength="8.21" lengthAdjust="spacingAndGlyphs">150</text>
<line x1="221.2" y1="465.46" x2="222.6" y2="465.46" stroke="#555" stroke-width="0.7"/>
<text transform="translate(223.7 467.31) scale(1.04 1.03)" font-size="5.07" text-anchor="start" fill="#2a2a2a" textLength="8.21" lengthAdjust="spacingAndGlyphs">175</text>
<rect x="248.1" y="443.5" width="21.35" height="22.64" fill="#74b3d8"/>
<rect x="269.39" y="443.5" width="21.35" height="22.64" fill="#f7fbff"/>
<rect x="290.68" y="443.5" width="21.35" height="22.64" fill="#f7fbff"/>
<rect x="311.96" y="443.5" width="21.35" height="22.64" fill="#f7fbff"/>
<rect x="333.25" y="443.5" width="21.35" height="22.64" fill="#eff6fc"/>
<rect x="354.54" y="443.5" width="21.35" height="22.64" fill="#f5f9fe"/>
<rect x="375.82" y="443.5" width="21.35" height="22.64" fill="#f5fafe"/>
<rect x="397.11" y="443.5" width="21.35" height="22.64" fill="#f6faff"/>
<rect x="248.1" y="466.07" width="21.35" height="22.64" fill="#f5fafe"/>
<rect x="269.39" y="466.07" width="21.35" height="22.64" fill="#cde0f1"/>
<rect x="290.68" y="466.07" width="21.35" height="22.64" fill="#f7fbff"/>
<rect x="311.96" y="466.07" width="21.35" height="22.64" fill="#f6faff"/>
<rect x="333.25" y="466.07" width="21.35" height="22.64" fill="#f5fafe"/>
<rect x="354.54" y="466.07" width="21.35" height="22.64" fill="#f3f8fe"/>
<rect x="375.82" y="466.07" width="21.35" height="22.64" fill="#eff6fc"/>
<rect x="397.11" y="466.07" width="21.35" height="22.64" fill="#f7fbff"/>
<rect x="248.1" y="488.65" width="21.35" height="22.64" fill="#f3f8fe"/>
<rect x="269.39" y="488.65" width="21.35" height="22.64" fill="#f7fbff"/>
<rect x="290.68" y="488.65" width="21.35" height="22.64" fill="#61a7d2"/>
<rect x="311.96" y="488.65" width="21.35" height="22.64" fill="#f7fbff"/>
<rect x="333.25" y="488.65" width="21.35" height="22.64" fill="#eff6fc"/>
<rect x="354.54" y="488.65" width="21.35" height="22.64" fill="#f6faff"/>
<rect x="375.82" y="488.65" width="21.35" height="22.64" fill="#f7fbff"/>
<rect x="397.11" y="488.65" width="21.35" height="22.64" fill="#f7fbff"/>
<rect x="248.1" y="511.23" width="21.35" height="22.64" fill="#f7fbff"/>
<rect x="269.39" y="511.23" width="21.35" height="22.64" fill="#f7fbff"/>
<rect x="290.68" y="511.23" width="21.35" height="22.64" fill="#f7fbff"/>
<rect x="311.96" y="511.23" width="21.35" height="22.64" fill="#3484bf"/>
<rect x="333.25" y="511.23" width="21.35" height="22.64" fill="#f7fbff"/>
<rect x="354.54" y="511.23" width="21.35" height="22.64" fill="#f6faff"/>
<rect x="375.82" y="511.23" width="21.35" height="22.64" fill="#f7fbff"/>
<rect x="397.11" y="511.23" width="21.35" height="22.64" fill="#f7fbff"/>
<rect x="248.1" y="533.8" width="21.35" height="22.64" fill="#e7f1fa"/>
<rect x="269.39" y="533.8" width="21.35" height="22.64" fill="#f7fbff"/>
<rect x="290.68" y="533.8" width="21.35" height="22.64" fill="#f1f7fd"/>
<rect x="311.96" y="533.8" width="21.35" height="22.64" fill="#f7fbff"/>
<rect x="333.25" y="533.8" width="21.35" height="22.64" fill="#aed1e7"/>
<rect x="354.54" y="533.8" width="21.35" height="22.64" fill="#f6faff"/>
<rect x="375.82" y="533.8" width="21.35" height="22.64" fill="#f7fbff"/>
<rect x="397.11" y="533.8" width="21.35" height="22.64" fill="#f4f9fe"/>
<rect x="248.1" y="556.38" width="21.35" height="22.64" fill="#f5fafe"/>
<rect x="269.39" y="556.38" width="21.35" height="22.64" fill="#f0f6fd"/>
<rect x="290.68" y="556.38" width="21.35" height="22.64" fill="#f7fbff"/>
<rect x="311.96" y="556.38" width="21.35" height="22.64" fill="#f7fbff"/>
<rect x="333.25" y="556.38" width="21.35" height="22.64" fill="#f6faff"/>
<rect x="354.54" y="556.38" width="21.35" height="22.64" fill="#b3d3e8"/>
<rect x="375.82" y="556.38" width="21.35" height="22.64" fill="#f3f8fe"/>
<rect x="397.11" y="556.38" width="21.35" height="22.64" fill="#f7fbff"/>
<rect x="248.1" y="578.95" width="21.35" height="22.64" fill="#f4f9fe"/>
<rect x="269.39" y="578.95" width="21.35" height="22.64" fill="#eef5fc"/>
<rect x="290.68" y="578.95" width="21.35" height="22.64" fill="#f7fbff"/>
<rect x="311.96" y="578.95" width="21.35" height="22.64" fill="#eff6fc"/>
<rect x="333.25" y="578.95" width="21.35" height="22.64" fill="#f6faff"/>
<rect x="354.54" y="578.95" width="21.35" height="22.64" fill="#e6f0f9"/>
<rect x="375.82" y="578.95" width="21.35" height="22.64" fill="#08306b"/>
<rect x="397.11" y="578.95" width="21.35" height="22.64" fill="#f6faff"/>
<rect x="248.1" y="601.53" width="21.35" height="22.64" fill="#e7f0fa"/>
<rect x="269.39" y="601.53" width="21.35" height="22.64" fill="#f7fbff"/>
<rect x="290.68" y="601.53" width="21.35" height="22.64" fill="#f7fbff"/>
<rect x="311.96" y="601.53" width="21.35" height="22.64" fill="#f7fbff"/>
<rect x="333.25" y="601.53" width="21.35" height="22.64" fill="#f3f8fe"/>
<rect x="354.54" y="601.53" width="21.35" height="22.64" fill="#f7fbff"/>
<rect x="375.82" y="601.53" width="21.35" height="22.64" fill="#f6faff"/>
<rect x="397.11" y="601.53" width="21.35" height="22.64" fill="#6dafd7"/>
<text transform="translate(258.74 457.57) scale(0.97 1.03)" font-size="8.5" text-anchor="middle" fill="#262626" textLength="13.74" lengthAdjust="spacingAndGlyphs">104</text>
<text transform="translate(280.03 457.57) scale(0.97 1.03)" font-size="8.5" text-anchor="middle" fill="#262626" textLength="4.58" lengthAdjust="spacingAndGlyphs">0</text>
<text transform="translate(301.32 457.57) scale(0.97 1.03)" font-size="8.5" text-anchor="middle" fill="#262626" textLength="4.58" lengthAdjust="spacingAndGlyphs">0</text>
<text transform="translate(322.61 457.57) scale(0.97 1.03)" font-size="8.5" text-anchor="middle" fill="#262626" textLength="4.58" lengthAdjust="spacingAndGlyphs">0</text>
<text transform="translate(343.89 457.57) scale(0.97 1.03)" font-size="8.5" text-anchor="middle" fill="#262626" textLength="4.58" lengthAdjust="spacingAndGlyphs">9</text>
<text transform="translate(365.18 457.57) scale(0.97 1.03)" font-size="8.5" text-anchor="middle" fill="#262626" textLength="4.58" lengthAdjust="spacingAndGlyphs">3</text>
<text transform="translate(386.47 457.57) scale(0.97 1.03)" font-size="8.5" text-anchor="middle" fill="#262626" textLength="4.58" lengthAdjust="spacingAndGlyphs">2</text>
<text transform="translate(407.76 457.57) scale(0.97 1.03)" font-size="8.5" text-anchor="middle" fill="#262626" textLength="4.58" lengthAdjust="spacingAndGlyphs">1</text>
<text transform="translate(258.74 480.15) scale(0.97 1.03)" font-size="8.5" text-anchor="middle" fill="#262626" textLength="4.58" lengthAdjust="spacingAndGlyphs">2</text>
<text transform="translate(280.03 480.15) scale(0.97 1.03)" font-size="8.5" text-anchor="middle" fill="#262626" textLength="9.16" lengthAdjust="spacingAndGlyphs">46</text>
<text transform="translate(301.32 480.15) scale(0.97 1.03)" font-size="8.5" text-anchor="middle" fill="#262626" textLength="4.58" lengthAdjust="spacingAndGlyphs">0</text>
<text transform="translate(322.61 480.15) scale(0.97 1.03)" font-size="8.5" text-anchor="middle" fill="#262626" textLength="4.58" lengthAdjust="spacingAndGlyphs">1</text>
<text transform="translate(343.89 480.15) scale(0.97 1.03)" font-size="8.5" text-anchor="middle" fill="#262626" textLength="4.58" lengthAdjust="spacingAndGlyphs">2</text>
<text transform="translate(365.18 480.15) scale(0.97 1.03)" font-size="8.5" text-anchor="middle" fill="#262626" textLength="4.58" lengthAdjust="spacingAndGlyphs">5</text>
<text transform="translate(386.47 480.15) scale(0.97 1.03)" font-size="8.5" text-anchor="middle" fill="#262626" textLength="4.58" lengthAdjust="spacingAndGlyphs">9</text>
<text transform="translate(407.76 480.15) scale(0.97 1.03)" font-size="8.5" text-anchor="middle" fill="#262626" textLength="4.58" lengthAdjust="spacingAndGlyphs">0</text>
<text transform="translate(258.74 502.72) scale(0.97 1.03)" font-size="8.5" text-anchor="middle" fill="#262626" textLength="4.58" lengthAdjust="spacingAndGlyphs">5</text>
<text transform="translate(280.03 502.72) scale(0.97 1.03)" font-size="8.5" text-anchor="middle" fill="#262626" textLength="4.58" lengthAdjust="spacingAndGlyphs">0</text>
<text transform="translate(301.32 502.72) scale(0.97 1.03)" font-size="8.5" text-anchor="middle" fill="#f7fbff" textLength="13.74" lengthAdjust="spacingAndGlyphs">115</text>
<text transform="translate(322.61 502.72) scale(0.97 1.03)" font-size="8.5" text-anchor="middle" fill="#262626" textLength="4.58" lengthAdjust="spacingAndGlyphs">0</text>
<text transform="translate(343.89 502.72) scale(0.97 1.03)" font-size="8.5" text-anchor="middle" fill="#262626" textLength="4.58" lengthAdjust="spacingAndGlyphs">9</text>
<text transform="translate(365.18 502.72) scale(0.97 1.03)" font-size="8.5" text-anchor="middle" fill="#262626" textLength="4.58" lengthAdjust="spacingAndGlyphs">1</text>
<text transform="translate(386.47 502.72) scale(0.97 1.03)" font-size="8.5" text-anchor="middle" fill="#262626" textLength="4.58" lengthAdjust="spacingAndGlyphs">0</text>
<text transform="translate(407.76 502.72) scale(0.97 1.03)" font-size="8.5" text-anchor="middle" fill="#262626" textLength="4.58" lengthAdjust="spacingAndGlyphs">0</text>
<text transform="translate(258.74 525.3) scale(0.97 1.03)" font-size="8.5" text-anchor="middle" fill="#262626" textLength="4.58" lengthAdjust="spacingAndGlyphs">0</text>
<text transform="translate(280.03 525.3) scale(0.97 1.03)" font-size="8.5" text-anchor="middle" fill="#262626" textLength="4.58" lengthAdjust="spacingAndGlyphs">0</text>
<text transform="translate(301.32 525.3) scale(0.97 1.03)" font-size="8.5" text-anchor="middle" fill="#262626" textLength="4.58" lengthAdjust="spacingAndGlyphs">0</text>
<text transform="translate(322.61 525.3) scale(0.97 1.03)" font-size="8.5" text-anchor="middle" fill="#f7fbff" textLength="13.74" lengthAdjust="spacingAndGlyphs">147</text>
<text transform="translate(343.89 525.3) scale(0.97 1.03)" font-size="8.5" text-anchor="middle" fill="#262626" textLength="4.58" lengthAdjust="spacingAndGlyphs">0</text>
<text transform="translate(365.18 525.3) scale(0.97 1.03)" font-size="8.5" text-anchor="middle" fill="#262626" textLength="4.58" lengthAdjust="spacingAndGlyphs">1</text>
<text transform="translate(386.47 525.3) scale(0.97 1.03)" font-size="8.5" text-anchor="middle" fill="#262626" textLength="4.58" lengthAdjust="spacingAndGlyphs">0</text>
<text transform="translate(407.76 525.3) scale(0.97 1.03)" font-size="8.5" text-anchor="middle" fill="#262626" textLength="4.58" lengthAdjust="spacingAndGlyphs">0</text>
<text transform="translate(258.74 547.87) scale(0.97 1.03)" font-size="8.5" text-anchor="middle" fill="#262626" textLength="9.16" lengthAdjust="spacingAndGlyphs">17</text>
<text transform="translate(280.03 547.87) scale(0.97 1.03)" font-size="8.5" text-anchor="middle" fill="#262626" textLength="4.58" lengthAdjust="spacingAndGlyphs">0</text>
<text transform="translate(301.32 547.87) scale(0.97 1.03)" font-size="8.5" text-anchor="middle" fill="#262626" textLength="4.58" lengthAdjust="spacingAndGlyphs">7</text>
<text transform="translate(322.61 547.87) scale(0.97 1.03)" font-size="8.5" text-anchor="middle" fill="#262626" textLength="4.58" lengthAdjust="spacingAndGlyphs">0</text>
<text transform="translate(343.89 547.87) scale(0.97 1.03)" font-size="8.5" text-anchor="middle" fill="#262626" textLength="9.16" lengthAdjust="spacingAndGlyphs">71</text>
<text transform="translate(365.18 547.87) scale(0.97 1.03)" font-size="8.5" text-anchor="middle" fill="#262626" textLength="4.58" lengthAdjust="spacingAndGlyphs">1</text>
<text transform="translate(386.47 547.87) scale(0.97 1.03)" font-size="8.5" text-anchor="middle" fill="#262626" textLength="4.58" lengthAdjust="spacingAndGlyphs">0</text>
<text transform="translate(407.76 547.87) scale(0.97 1.03)" font-size="8.5" text-anchor="middle" fill="#262626" textLength="4.58" lengthAdjust="spacingAndGlyphs">4</text>
<text transform="translate(258.74 570.45) scale(0.97 1.03)" font-size="8.5" text-anchor="middle" fill="#262626" textLength="4.58" lengthAdjust="spacingAndGlyphs">2</text>
<text transform="translate(280.03 570.45) scale(0.97 1.03)" font-size="8.5" text-anchor="middle" fill="#262626" textLength="4.58" lengthAdjust="spacingAndGlyphs">8</text>
<text transform="translate(301.32 570.45) scale(0.97 1.03)" font-size="8.5" text-anchor="middle" fill="#262626" textLength="4.58" lengthAdjust="spacingAndGlyphs">0</text>
<text transform="translate(322.61 570.45) scale(0.97 1.03)" font-size="8.5" text-anchor="middle" fill="#262626" textLength="4.58" lengthAdjust="spacingAndGlyphs">0</text>
<text transform="translate(343.89 570.45) scale(0.97 1.03)" font-size="8.5" text-anchor="middle" fill="#262626" textLength="4.58" lengthAdjust="spacingAndGlyphs">1</text>
<text transform="translate(365.18 570.45) scale(0.97 1.03)" font-size="8.5" text-anchor="middle" fill="#262626" textLength="9.16" lengthAdjust="spacingAndGlyphs">67</text>
<text transform="translate(386.47 570.45) scale(0.97 1.03)" font-size="8.5" text-anchor="middle" fill="#262626" textLength="4.58" lengthAdjust="spacingAndGlyphs">5</text>
<text transform="translate(407.76 570.45) scale(0.97 1.03)" font-size="8.5" text-anchor="middle" fill="#262626" textLength="4.58" lengthAdjust="spacingAndGlyphs">0</text>
<text transform="translate(258.74 593.02) scale(0.97 1.03)" font-size="8.5" text-anchor="middle" fill="#262626" textLength="4.58" lengthAdjust="spacingAndGlyphs">4</text>
<text transform="translate(280.03 593.02) scale(0.97 1.03)" font-size="8.5" text-anchor="middle" fill="#262626" textLength="9.16" lengthAdjust="spacingAndGlyphs">11</text>
<text transform="translate(301.32 593.02) scale(0.97 1.03)" font-size="8.5" text-anchor="middle" fill="#262626" textLength="4.58" lengthAdjust="spacingAndGlyphs">0</text>
<text transform="translate(322.61 593.02) scale(0.97 1.03)" font-size="8.5" text-anchor="middle" fill="#262626" textLength="4.58" lengthAdjust="spacingAndGlyphs">9</text>
<text transform="translate(343.89 593.02) scale(0.97 1.03)" font-size="8.5" text-anchor="middle" fill="#262626" textLength="4.58" lengthAdjust="spacingAndGlyphs">1</text>
<text transform="translate(365.18 593.02) scale(0.97 1.03)" font-size="8.5" text-anchor="middle" fill="#262626" textLength="9.16" lengthAdjust="spacingAndGlyphs">19</text>
<text transform="translate(386.47 593.02) scale(0.97 1.03)" font-size="8.5" text-anchor="middle" fill="#f7fbff" textLength="13.74" lengthAdjust="spacingAndGlyphs">217</text>
<text transform="translate(407.76 593.02) scale(0.97 1.03)" font-size="8.5" text-anchor="middle" fill="#262626" textLength="4.58" lengthAdjust="spacingAndGlyphs">1</text>
<text transform="translate(258.74 615.6) scale(0.97 1.03)" font-size="8.5" text-anchor="middle" fill="#262626" textLength="9.16" lengthAdjust="spacingAndGlyphs">18</text>
<text transform="translate(280.03 615.6) scale(0.97 1.03)" font-size="8.5" text-anchor="middle" fill="#262626" textLength="4.58" lengthAdjust="spacingAndGlyphs">0</text>
<text transform="translate(301.32 615.6) scale(0.97 1.03)" font-size="8.5" text-anchor="middle" fill="#262626" textLength="4.58" lengthAdjust="spacingAndGlyphs">0</text>
<text transform="translate(322.61 615.6) scale(0.97 1.03)" font-size="8.5" text-anchor="middle" fill="#262626" textLength="4.58" lengthAdjust="spacingAndGlyphs">0</text>
<text transform="translate(343.89 615.6) scale(0.97 1.03)" font-size="8.5" text-anchor="middle" fill="#262626" textLength="4.58" lengthAdjust="spacingAndGlyphs">5</text>
<text transform="translate(365.18 615.6) scale(0.97 1.03)" font-size="8.5" text-anchor="middle" fill="#262626" textLength="4.58" lengthAdjust="spacingAndGlyphs">0</text>
<text transform="translate(386.47 615.6) scale(0.97 1.03)" font-size="8.5" text-anchor="middle" fill="#262626" textLength="4.58" lengthAdjust="spacingAndGlyphs">1</text>
<text transform="translate(407.76 615.6) scale(0.97 1.03)" font-size="8.5" text-anchor="middle" fill="#f7fbff" textLength="13.74" lengthAdjust="spacingAndGlyphs">107</text>
<rect x="248.1" y="443.5" width="170.3" height="180.6" fill="none" stroke="#444" stroke-width="1.0"/>
<line x1="258.74" y1="624.1" x2="258.74" y2="625.96" stroke="#444" stroke-width="0.6"/>
<text transform="translate(258.74 631.2) scale(0.97 1.03)" font-size="5.19" text-anchor="middle" fill="#333" textLength="2.8" lengthAdjust="spacingAndGlyphs">0</text>
<line x1="280.03" y1="624.1" x2="280.03" y2="625.96" stroke="#444" stroke-width="0.6"/>
<text transform="translate(280.03 631.2) scale(0.97 1.03)" font-size="5.19" text-anchor="middle" fill="#333" textLength="2.8" lengthAdjust="spacingAndGlyphs">1</text>
<line x1="301.32" y1="624.1" x2="301.32" y2="625.96" stroke="#444" stroke-width="0.6"/>
<text transform="translate(301.32 631.2) scale(0.97 1.03)" font-size="5.19" text-anchor="middle" fill="#333" textLength="2.8" lengthAdjust="spacingAndGlyphs">2</text>
<line x1="322.61" y1="624.1" x2="322.61" y2="625.96" stroke="#444" stroke-width="0.6"/>
<text transform="translate(322.61 631.2) scale(0.97 1.03)" font-size="5.19" text-anchor="middle" fill="#333" textLength="2.8" lengthAdjust="spacingAndGlyphs">3</text>
<line x1="343.89" y1="624.1" x2="343.89" y2="625.96" stroke="#444" stroke-width="0.6"/>
<text transform="translate(343.89 631.2) scale(0.97 1.03)" font-size="5.19" text-anchor="middle" fill="#333" textLength="2.8" lengthAdjust="spacingAndGlyphs">4</text>
<line x1="365.18" y1="624.1" x2="365.18" y2="625.96" stroke="#444" stroke-width="0.6"/>
<text transform="translate(365.18 631.2) scale(0.97 1.03)" font-size="5.19" text-anchor="middle" fill="#333" textLength="2.8" lengthAdjust="spacingAndGlyphs">5</text>
<line x1="386.47" y1="624.1" x2="386.47" y2="625.96" stroke="#444" stroke-width="0.6"/>
<text transform="translate(386.47 631.2) scale(0.97 1.03)" font-size="5.19" text-anchor="middle" fill="#333" textLength="2.8" lengthAdjust="spacingAndGlyphs">6</text>
<line x1="407.76" y1="624.1" x2="407.76" y2="625.96" stroke="#444" stroke-width="0.6"/>
<text transform="translate(407.76 631.2) scale(0.97 1.03)" font-size="5.19" text-anchor="middle" fill="#333" textLength="2.8" lengthAdjust="spacingAndGlyphs">7</text>
<line x1="246.35" y1="454.79" x2="248.1" y2="454.79" stroke="#444" stroke-width="0.6"/>
<text dy="1.7" transform="translate(244.4 455.29) rotate(-45) scale(0.97 1.03)" font-size="5.97" text-anchor="middle" fill="#2a2a2a" textLength="3.22" lengthAdjust="spacingAndGlyphs">0</text>
<line x1="246.35" y1="477.36" x2="248.1" y2="477.36" stroke="#444" stroke-width="0.6"/>
<text dy="1.7" transform="translate(244.4 477.86) rotate(-45) scale(0.97 1.03)" font-size="5.97" text-anchor="middle" fill="#2a2a2a" textLength="3.22" lengthAdjust="spacingAndGlyphs">1</text>
<line x1="246.35" y1="499.94" x2="248.1" y2="499.94" stroke="#444" stroke-width="0.6"/>
<text dy="1.7" transform="translate(244.4 500.44) rotate(-45) scale(0.97 1.03)" font-size="5.97" text-anchor="middle" fill="#2a2a2a" textLength="3.22" lengthAdjust="spacingAndGlyphs">2</text>
<line x1="246.35" y1="522.51" x2="248.1" y2="522.51" stroke="#444" stroke-width="0.6"/>
<text dy="1.7" transform="translate(244.4 523.01) rotate(-45) scale(0.97 1.03)" font-size="5.97" text-anchor="middle" fill="#2a2a2a" textLength="3.22" lengthAdjust="spacingAndGlyphs">3</text>
<line x1="246.35" y1="545.09" x2="248.1" y2="545.09" stroke="#444" stroke-width="0.6"/>
<text dy="1.7" transform="translate(244.4 545.59) rotate(-45) scale(0.97 1.03)" font-size="5.97" text-anchor="middle" fill="#2a2a2a" textLength="3.22" lengthAdjust="spacingAndGlyphs">4</text>
<line x1="246.35" y1="567.66" x2="248.1" y2="567.66" stroke="#444" stroke-width="0.6"/>
<text dy="1.7" transform="translate(244.4 568.16) rotate(-45) scale(0.97 1.03)" font-size="5.97" text-anchor="middle" fill="#2a2a2a" textLength="3.22" lengthAdjust="spacingAndGlyphs">5</text>
<line x1="246.35" y1="590.24" x2="248.1" y2="590.24" stroke="#444" stroke-width="0.6"/>
<text dy="1.7" transform="translate(244.4 590.74) rotate(-45) scale(0.97 1.03)" font-size="5.97" text-anchor="middle" fill="#2a2a2a" textLength="3.22" lengthAdjust="spacingAndGlyphs">6</text>
<line x1="246.35" y1="612.81" x2="248.1" y2="612.81" stroke="#444" stroke-width="0.6"/>
<text dy="1.7" transform="translate(244.4 613.31) rotate(-45) scale(0.97 1.03)" font-size="5.97" text-anchor="middle" fill="#2a2a2a" textLength="3.22" lengthAdjust="spacingAndGlyphs">7</text>
<text transform="translate(333.25 441.02) scale(0.97 1.03)" font-size="9.09" text-anchor="middle" fill="#1a1a1a" stroke="#1a1a1a" stroke-width="0.14" textLength="76.97" lengthAdjust="spacingAndGlyphs">Confusion matrix</text>
<text transform="translate(333.25 639.17) scale(0.97 1.03)" font-size="7.34" text-anchor="middle" fill="#2a2a2a" stroke="#2a2a2a" stroke-width="0.1" textLength="55.97" lengthAdjust="spacingAndGlyphs">Predicted Labels</text>
<text transform="translate(238.76 533.8) rotate(-90) scale(0.97 1.03)" font-size="7.34" text-anchor="middle" fill="#2a2a2a" stroke="#2a2a2a" stroke-width="0.1" textLength="38.49" lengthAdjust="spacingAndGlyphs">True Labels</text>
<rect x="431" y="443.5" width="8.5" height="180.6" fill="url(#gH)"/>
<line x1="439.7" y1="624.1" x2="441.1" y2="624.1" stroke="#555" stroke-width="0.7"/>
<text transform="translate(442.2 625.96) scale(0.97 1.03)" font-size="5.07" text-anchor="start" fill="#2a2a2a" textLength="2.74" lengthAdjust="spacingAndGlyphs">0</text>
<line x1="439.7" y1="603.29" x2="441.1" y2="603.29" stroke="#555" stroke-width="0.7"/>
<text transform="translate(442.2 605.15) scale(0.97 1.03)" font-size="5.07" text-anchor="start" fill="#2a2a2a" textLength="5.47" lengthAdjust="spacingAndGlyphs">25</text>
<line x1="439.7" y1="582.49" x2="441.1" y2="582.49" stroke="#555" stroke-width="0.7"/>
<text transform="translate(442.2 584.34) scale(0.97 1.03)" font-size="5.07" text-anchor="start" fill="#2a2a2a" textLength="5.47" lengthAdjust="spacingAndGlyphs">50</text>
<line x1="439.7" y1="561.68" x2="441.1" y2="561.68" stroke="#555" stroke-width="0.7"/>
<text transform="translate(442.2 563.54) scale(0.97 1.03)" font-size="5.07" text-anchor="start" fill="#2a2a2a" textLength="5.47" lengthAdjust="spacingAndGlyphs">75</text>
<line x1="439.7" y1="540.87" x2="441.1" y2="540.87" stroke="#555" stroke-width="0.7"/>
<text transform="translate(442.2 542.73) scale(0.97 1.03)" font-size="5.07" text-anchor="start" fill="#2a2a2a" textLength="8.21" lengthAdjust="spacingAndGlyphs">100</text>
<line x1="439.7" y1="520.07" x2="441.1" y2="520.07" stroke="#555" stroke-width="0.7"/>
<text transform="translate(442.2 521.93) scale(0.97 1.03)" font-size="5.07" text-anchor="start" fill="#2a2a2a" textLength="8.21" lengthAdjust="spacingAndGlyphs">125</text>
<line x1="439.7" y1="499.26" x2="441.1" y2="499.26" stroke="#555" stroke-width="0.7"/>
<text transform="translate(442.2 501.12) scale(0.97 1.03)" font-size="5.07" text-anchor="start" fill="#2a2a2a" textLength="8.21" lengthAdjust="spacingAndGlyphs">150</text>
<line x1="439.7" y1="478.45" x2="441.1" y2="478.45" stroke="#555" stroke-width="0.7"/>
<text transform="translate(442.2 480.31) scale(0.97 1.03)" font-size="5.07" text-anchor="start" fill="#2a2a2a" textLength="8.21" lengthAdjust="spacingAndGlyphs">175</text>
<line x1="439.7" y1="457.65" x2="441.1" y2="457.65" stroke="#555" stroke-width="0.7"/>
<text transform="translate(442.2 459.51) scale(0.97 1.03)" font-size="5.07" text-anchor="start" fill="#2a2a2a" textLength="8.21" lengthAdjust="spacingAndGlyphs">200</text>
<rect x="470.6" y="443.5" width="22.48" height="22.64" fill="#549fcd"/>
<rect x="493.03" y="443.5" width="22.48" height="22.64" fill="#f7fbff"/>
<rect x="515.45" y="443.5" width="22.48" height="22.64" fill="#f5f9fe"/>
<rect x="537.88" y="443.5" width="22.48" height="22.64" fill="#f7fbff"/>
<rect x="560.3" y="443.5" width="22.48" height="22.64" fill="#f5f9fe"/>
<rect x="582.73" y="443.5" width="22.48" height="22.64" fill="#f5fafe"/>
<rect x="605.15" y="443.5" width="22.48" height="22.64" fill="#f6faff"/>
<rect x="627.58" y="443.5" width="22.48" height="22.64" fill="#f7fbff"/>
<rect x="470.6" y="466.07" width="22.48" height="22.64" fill="#f0f6fd"/>
<rect x="493.03" y="466.07" width="22.48" height="22.64" fill="#dae8f6"/>
<rect x="515.45" y="466.07" width="22.48" height="22.64" fill="#f7fbff"/>
<rect x="537.88" y="466.07" width="22.48" height="22.64" fill="#f5fafe"/>
<rect x="560.3" y="466.07" width="22.48" height="22.64" fill="#f7fbff"/>
<rect x="582.73" y="466.07" width="22.48" height="22.64" fill="#e6f0f9"/>
<rect x="605.15" y="466.07" width="22.48" height="22.64" fill="#ecf4fb"/>
<rect x="627.58" y="466.07" width="22.48" height="22.64" fill="#f7fbff"/>
<rect x="470.6" y="488.65" width="22.48" height="22.64" fill="#f5fafe"/>
<rect x="493.03" y="488.65" width="22.48" height="22.64" fill="#f6faff"/>
<rect x="515.45" y="488.65" width="22.48" height="22.64" fill="#3d8dc4"/>
<rect x="537.88" y="488.65" width="22.48" height="22.64" fill="#f7fbff"/>
<rect x="560.3" y="488.65" width="22.48" height="22.64" fill="#f5fafe"/>
<rect x="582.73" y="488.65" width="22.48" height="22.64" fill="#f6faff"/>
<rect x="605.15" y="488.65" width="22.48" height="22.64" fill="#f7fbff"/>
<rect x="627.58" y="488.65" width="22.48" height="22.64" fill="#f7fbff"/>
<rect x="470.6" y="511.23" width="22.48" height="22.64" fill="#f7fbff"/>
<rect x="493.03" y="511.23" width="22.48" height="22.64" fill="#f7fbff"/>
<rect x="515.45" y="511.23" width="22.48" height="22.64" fill="#f5f9fe"/>
<rect x="537.88" y="511.23" width="22.48" height="22.64" fill="#2e7ebc"/>
<rect x="560.3" y="511.23" width="22.48" height="22.64" fill="#f3f8fe"/>
<rect x="582.73" y="511.23" width="22.48" height="22.64" fill="#f6faff"/>
<rect x="605.15" y="511.23" width="22.48" height="22.64" fill="#f5fafe"/>
<rect x="627.58" y="511.23" width="22.48" height="22.64" fill="#f5f9fe"/>
<rect x="470.6" y="533.8" width="22.48" height="22.64" fill="#dfecf7"/>
<rect x="493.03" y="533.8" width="22.48" height="22.64" fill="#f7fbff"/>
<rect x="515.45" y="533.8" width="22.48" height="22.64" fill="#e2edf8"/>
<rect x="537.88" y="533.8" width="22.48" height="22.64" fill="#f7fbff"/>
<rect x="560.3" y="533.8" width="22.48" height="22.64" fill="#bcd7eb"/>
<rect x="582.73" y="533.8" width="22.48" height="22.64" fill="#f7fbff"/>
<rect x="605.15" y="533.8" width="22.48" height="22.64" fill="#f7fbff"/>
<rect x="627.58" y="533.8" width="22.48" height="22.64" fill="#f6faff"/>
<rect x="470.6" y="556.38" width="22.48" height="22.64" fill="#f5f9fe"/>
<rect x="493.03" y="556.38" width="22.48" height="22.64" fill="#f2f7fd"/>
<rect x="515.45" y="556.38" width="22.48" height="22.64" fill="#f5fafe"/>
<rect x="537.88" y="556.38" width="22.48" height="22.64" fill="#f5fafe"/>
<rect x="560.3" y="556.38" width="22.48" height="22.64" fill="#f7fbff"/>
<rect x="582.73" y="556.38" width="22.48" height="22.64" fill="#a9cfe5"/>
<rect x="605.15" y="556.38" width="22.48" height="22.64" fill="#f3f8fe"/>
<rect x="627.58" y="556.38" width="22.48" height="22.64" fill="#f7fbff"/>
<rect x="470.6" y="578.95" width="22.48" height="22.64" fill="#eaf2fb"/>
<rect x="493.03" y="578.95" width="22.48" height="22.64" fill="#f2f8fd"/>
<rect x="515.45" y="578.95" width="22.48" height="22.64" fill="#f2f7fd"/>
<rect x="537.88" y="578.95" width="22.48" height="22.64" fill="#eef5fc"/>
<rect x="560.3" y="578.95" width="22.48" height="22.64" fill="#f5f9fe"/>
<rect x="582.73" y="578.95" width="22.48" height="22.64" fill="#d7e6f5"/>
<rect x="605.15" y="578.95" width="22.48" height="22.64" fill="#08306b"/>
<rect x="627.58" y="578.95" width="22.48" height="22.64" fill="#f5fafe"/>
<rect x="470.6" y="601.53" width="22.48" height="22.64" fill="#c6dbef"/>
<rect x="493.03" y="601.53" width="22.48" height="22.64" fill="#f7fbff"/>
<rect x="515.45" y="601.53" width="22.48" height="22.64" fill="#f7fbff"/>
<rect x="537.88" y="601.53" width="22.48" height="22.64" fill="#f6faff"/>
<rect x="560.3" y="601.53" width="22.48" height="22.64" fill="#e8f1fa"/>
<rect x="582.73" y="601.53" width="22.48" height="22.64" fill="#f7fbff"/>
<rect x="605.15" y="601.53" width="22.48" height="22.64" fill="#f7fbff"/>
<rect x="627.58" y="601.53" width="22.48" height="22.64" fill="#a9cfe5"/>
<text transform="translate(481.81 457.57) scale(1.03 1.03)" font-size="8.5" text-anchor="middle" fill="#f7fbff" textLength="13.74" lengthAdjust="spacingAndGlyphs">110</text>
<text transform="translate(504.24 457.57) scale(1.03 1.03)" font-size="8.5" text-anchor="middle" fill="#262626" textLength="4.58" lengthAdjust="spacingAndGlyphs">0</text>
<text transform="translate(526.66 457.57) scale(1.03 1.03)" font-size="8.5" text-anchor="middle" fill="#262626" textLength="4.58" lengthAdjust="spacingAndGlyphs">3</text>
<text transform="translate(549.09 457.57) scale(1.03 1.03)" font-size="8.5" text-anchor="middle" fill="#262626" textLength="4.58" lengthAdjust="spacingAndGlyphs">0</text>
<text transform="translate(571.51 457.57) scale(1.03 1.03)" font-size="8.5" text-anchor="middle" fill="#262626" textLength="4.58" lengthAdjust="spacingAndGlyphs">3</text>
<text transform="translate(593.94 457.57) scale(1.03 1.03)" font-size="8.5" text-anchor="middle" fill="#262626" textLength="4.58" lengthAdjust="spacingAndGlyphs">2</text>
<text transform="translate(616.36 457.57) scale(1.03 1.03)" font-size="8.5" text-anchor="middle" fill="#262626" textLength="4.58" lengthAdjust="spacingAndGlyphs">1</text>
<text transform="translate(638.79 457.57) scale(1.03 1.03)" font-size="8.5" text-anchor="middle" fill="#262626" textLength="4.58" lengthAdjust="spacingAndGlyphs">0</text>
<text transform="translate(481.81 480.15) scale(1.03 1.03)" font-size="8.5" text-anchor="middle" fill="#262626" textLength="4.58" lengthAdjust="spacingAndGlyphs">7</text>
<text transform="translate(504.24 480.15) scale(1.03 1.03)" font-size="8.5" text-anchor="middle" fill="#262626" textLength="9.16" lengthAdjust="spacingAndGlyphs">28</text>
<text transform="translate(526.66 480.15) scale(1.03 1.03)" font-size="8.5" text-anchor="middle" fill="#262626" textLength="4.58" lengthAdjust="spacingAndGlyphs">0</text>
<text transform="translate(549.09 480.15) scale(1.03 1.03)" font-size="8.5" text-anchor="middle" fill="#262626" textLength="4.58" lengthAdjust="spacingAndGlyphs">2</text>
<text transform="translate(571.51 480.15) scale(1.03 1.03)" font-size="8.5" text-anchor="middle" fill="#262626" textLength="4.58" lengthAdjust="spacingAndGlyphs">0</text>
<text transform="translate(593.94 480.15) scale(1.03 1.03)" font-size="8.5" text-anchor="middle" fill="#262626" textLength="9.16" lengthAdjust="spacingAndGlyphs">17</text>
<text transform="translate(616.36 480.15) scale(1.03 1.03)" font-size="8.5" text-anchor="middle" fill="#262626" textLength="9.16" lengthAdjust="spacingAndGlyphs">11</text>
<text transform="translate(638.79 480.15) scale(1.03 1.03)" font-size="8.5" text-anchor="middle" fill="#262626" textLength="4.58" lengthAdjust="spacingAndGlyphs">0</text>
<text transform="translate(481.81 502.72) scale(1.03 1.03)" font-size="8.5" text-anchor="middle" fill="#262626" textLength="4.58" lengthAdjust="spacingAndGlyphs">2</text>
<text transform="translate(504.24 502.72) scale(1.03 1.03)" font-size="8.5" text-anchor="middle" fill="#262626" textLength="4.58" lengthAdjust="spacingAndGlyphs">1</text>
<text transform="translate(526.66 502.72) scale(1.03 1.03)" font-size="8.5" text-anchor="middle" fill="#f7fbff" textLength="13.74" lengthAdjust="spacingAndGlyphs">124</text>
<text transform="translate(549.09 502.72) scale(1.03 1.03)" font-size="8.5" text-anchor="middle" fill="#262626" textLength="4.58" lengthAdjust="spacingAndGlyphs">0</text>
<text transform="translate(571.51 502.72) scale(1.03 1.03)" font-size="8.5" text-anchor="middle" fill="#262626" textLength="4.58" lengthAdjust="spacingAndGlyphs">2</text>
<text transform="translate(593.94 502.72) scale(1.03 1.03)" font-size="8.5" text-anchor="middle" fill="#262626" textLength="4.58" lengthAdjust="spacingAndGlyphs">1</text>
<text transform="translate(616.36 502.72) scale(1.03 1.03)" font-size="8.5" text-anchor="middle" fill="#262626" textLength="4.58" lengthAdjust="spacingAndGlyphs">0</text>
<text transform="translate(638.79 502.72) scale(1.03 1.03)" font-size="8.5" text-anchor="middle" fill="#262626" textLength="4.58" lengthAdjust="spacingAndGlyphs">0</text>
<text transform="translate(481.81 525.3) scale(1.03 1.03)" font-size="8.5" text-anchor="middle" fill="#262626" textLength="4.58" lengthAdjust="spacingAndGlyphs">0</text>
<text transform="translate(504.24 525.3) scale(1.03 1.03)" font-size="8.5" text-anchor="middle" fill="#262626" textLength="4.58" lengthAdjust="spacingAndGlyphs">0</text>
<text transform="translate(526.66 525.3) scale(1.03 1.03)" font-size="8.5" text-anchor="middle" fill="#262626" textLength="4.58" lengthAdjust="spacingAndGlyphs">3</text>
<text transform="translate(549.09 525.3) scale(1.03 1.03)" font-size="8.5" text-anchor="middle" fill="#f7fbff" textLength="13.74" lengthAdjust="spacingAndGlyphs">135</text>
<text transform="translate(571.51 525.3) scale(1.03 1.03)" font-size="8.5" text-anchor="middle" fill="#262626" textLength="4.58" lengthAdjust="spacingAndGlyphs">4</text>
<text transform="translate(593.94 525.3) scale(1.03 1.03)" font-size="8.5" text-anchor="middle" fill="#262626" textLength="4.58" lengthAdjust="spacingAndGlyphs">1</text>
<text transform="translate(616.36 525.3) scale(1.03 1.03)" font-size="8.5" text-anchor="middle" fill="#262626" textLength="4.58" lengthAdjust="spacingAndGlyphs">2</text>
<text transform="translate(638.79 525.3) scale(1.03 1.03)" font-size="8.5" text-anchor="middle" fill="#262626" textLength="4.58" lengthAdjust="spacingAndGlyphs">3</text>
<text transform="translate(481.81 547.87) scale(1.03 1.03)" font-size="8.5" text-anchor="middle" fill="#262626" textLength="9.16" lengthAdjust="spacingAndGlyphs">23</text>
<text transform="translate(504.24 547.87) scale(1.03 1.03)" font-size="8.5" text-anchor="middle" fill="#262626" textLength="4.58" lengthAdjust="spacingAndGlyphs">0</text>
<text transform="translate(526.66 547.87) scale(1.03 1.03)" font-size="8.5" text-anchor="middle" fill="#262626" textLength="9.16" lengthAdjust="spacingAndGlyphs">21</text>
<text transform="translate(549.09 547.87) scale(1.03 1.03)" font-size="8.5" text-anchor="middle" fill="#262626" textLength="4.58" lengthAdjust="spacingAndGlyphs">0</text>
<text transform="translate(571.51 547.87) scale(1.03 1.03)" font-size="8.5" text-anchor="middle" fill="#262626" textLength="9.16" lengthAdjust="spacingAndGlyphs">55</text>
<text transform="translate(593.94 547.87) scale(1.03 1.03)" font-size="8.5" text-anchor="middle" fill="#262626" textLength="4.58" lengthAdjust="spacingAndGlyphs">0</text>
<text transform="translate(616.36 547.87) scale(1.03 1.03)" font-size="8.5" text-anchor="middle" fill="#262626" textLength="4.58" lengthAdjust="spacingAndGlyphs">0</text>
<text transform="translate(638.79 547.87) scale(1.03 1.03)" font-size="8.5" text-anchor="middle" fill="#262626" textLength="4.58" lengthAdjust="spacingAndGlyphs">1</text>
<text transform="translate(481.81 570.45) scale(1.03 1.03)" font-size="8.5" text-anchor="middle" fill="#262626" textLength="4.58" lengthAdjust="spacingAndGlyphs">3</text>
<text transform="translate(504.24 570.45) scale(1.03 1.03)" font-size="8.5" text-anchor="middle" fill="#262626" textLength="4.58" lengthAdjust="spacingAndGlyphs">6</text>
<text transform="translate(526.66 570.45) scale(1.03 1.03)" font-size="8.5" text-anchor="middle" fill="#262626" textLength="4.58" lengthAdjust="spacingAndGlyphs">2</text>
<text transform="translate(549.09 570.45) scale(1.03 1.03)" font-size="8.5" text-anchor="middle" fill="#262626" textLength="4.58" lengthAdjust="spacingAndGlyphs">2</text>
<text transform="translate(571.51 570.45) scale(1.03 1.03)" font-size="8.5" text-anchor="middle" fill="#262626" textLength="4.58" lengthAdjust="spacingAndGlyphs">0</text>
<text transform="translate(593.94 570.45) scale(1.03 1.03)" font-size="8.5" text-anchor="middle" fill="#262626" textLength="9.16" lengthAdjust="spacingAndGlyphs">66</text>
<text transform="translate(616.36 570.45) scale(1.03 1.03)" font-size="8.5" text-anchor="middle" fill="#262626" textLength="4.58" lengthAdjust="spacingAndGlyphs">4</text>
<text transform="translate(638.79 570.45) scale(1.03 1.03)" font-size="8.5" text-anchor="middle" fill="#262626" textLength="4.58" lengthAdjust="spacingAndGlyphs">0</text>
<text transform="translate(481.81 593.02) scale(1.03 1.03)" font-size="8.5" text-anchor="middle" fill="#262626" textLength="9.16" lengthAdjust="spacingAndGlyphs">13</text>
<text transform="translate(504.24 593.02) scale(1.03 1.03)" font-size="8.5" text-anchor="middle" fill="#262626" textLength="4.58" lengthAdjust="spacingAndGlyphs">5</text>
<text transform="translate(526.66 593.02) scale(1.03 1.03)" font-size="8.5" text-anchor="middle" fill="#262626" textLength="4.58" lengthAdjust="spacingAndGlyphs">6</text>
<text transform="translate(549.09 593.02) scale(1.03 1.03)" font-size="8.5" text-anchor="middle" fill="#262626" textLength="4.58" lengthAdjust="spacingAndGlyphs">9</text>
<text transform="translate(571.51 593.02) scale(1.03 1.03)" font-size="8.5" text-anchor="middle" fill="#262626" textLength="4.58" lengthAdjust="spacingAndGlyphs">3</text>
<text transform="translate(593.94 593.02) scale(1.03 1.03)" font-size="8.5" text-anchor="middle" fill="#262626" textLength="9.16" lengthAdjust="spacingAndGlyphs">31</text>
<text transform="translate(616.36 593.02) scale(1.03 1.03)" font-size="8.5" text-anchor="middle" fill="#f7fbff" textLength="13.74" lengthAdjust="spacingAndGlyphs">193</text>
<text transform="translate(638.79 593.02) scale(1.03 1.03)" font-size="8.5" text-anchor="middle" fill="#262626" textLength="4.58" lengthAdjust="spacingAndGlyphs">2</text>
<text transform="translate(481.81 615.6) scale(1.03 1.03)" font-size="8.5" text-anchor="middle" fill="#262626" textLength="9.16" lengthAdjust="spacingAndGlyphs">49</text>
<text transform="translate(504.24 615.6) scale(1.03 1.03)" font-size="8.5" text-anchor="middle" fill="#262626" textLength="4.58" lengthAdjust="spacingAndGlyphs">0</text>
<text transform="translate(526.66 615.6) scale(1.03 1.03)" font-size="8.5" text-anchor="middle" fill="#262626" textLength="4.58" lengthAdjust="spacingAndGlyphs">0</text>
<text transform="translate(549.09 615.6) scale(1.03 1.03)" font-size="8.5" text-anchor="middle" fill="#262626" textLength="4.58" lengthAdjust="spacingAndGlyphs">1</text>
<text transform="translate(571.51 615.6) scale(1.03 1.03)" font-size="8.5" text-anchor="middle" fill="#262626" textLength="9.16" lengthAdjust="spacingAndGlyphs">15</text>
<text transform="translate(593.94 615.6) scale(1.03 1.03)" font-size="8.5" text-anchor="middle" fill="#262626" textLength="4.58" lengthAdjust="spacingAndGlyphs">0</text>
<text transform="translate(616.36 615.6) scale(1.03 1.03)" font-size="8.5" text-anchor="middle" fill="#262626" textLength="4.58" lengthAdjust="spacingAndGlyphs">0</text>
<text transform="translate(638.79 615.6) scale(1.03 1.03)" font-size="8.5" text-anchor="middle" fill="#262626" textLength="9.16" lengthAdjust="spacingAndGlyphs">66</text>
<rect x="470.6" y="443.5" width="179.4" height="180.6" fill="none" stroke="#444" stroke-width="1.0"/>
<line x1="481.81" y1="624.1" x2="481.81" y2="625.96" stroke="#444" stroke-width="0.6"/>
<text transform="translate(481.81 631.2) scale(1.03 1.03)" font-size="5.19" text-anchor="middle" fill="#333" textLength="2.8" lengthAdjust="spacingAndGlyphs">0</text>
<line x1="504.24" y1="624.1" x2="504.24" y2="625.96" stroke="#444" stroke-width="0.6"/>
<text transform="translate(504.24 631.2) scale(1.03 1.03)" font-size="5.19" text-anchor="middle" fill="#333" textLength="2.8" lengthAdjust="spacingAndGlyphs">1</text>
<line x1="526.66" y1="624.1" x2="526.66" y2="625.96" stroke="#444" stroke-width="0.6"/>
<text transform="translate(526.66 631.2) scale(1.03 1.03)" font-size="5.19" text-anchor="middle" fill="#333" textLength="2.8" lengthAdjust="spacingAndGlyphs">2</text>
<line x1="549.09" y1="624.1" x2="549.09" y2="625.96" stroke="#444" stroke-width="0.6"/>
<text transform="translate(549.09 631.2) scale(1.03 1.03)" font-size="5.19" text-anchor="middle" fill="#333" textLength="2.8" lengthAdjust="spacingAndGlyphs">3</text>
<line x1="571.51" y1="624.1" x2="571.51" y2="625.96" stroke="#444" stroke-width="0.6"/>
<text transform="translate(571.51 631.2) scale(1.03 1.03)" font-size="5.19" text-anchor="middle" fill="#333" textLength="2.8" lengthAdjust="spacingAndGlyphs">4</text>
<line x1="593.94" y1="624.1" x2="593.94" y2="625.96" stroke="#444" stroke-width="0.6"/>
<text transform="translate(593.94 631.2) scale(1.03 1.03)" font-size="5.19" text-anchor="middle" fill="#333" textLength="2.8" lengthAdjust="spacingAndGlyphs">5</text>
<line x1="616.36" y1="624.1" x2="616.36" y2="625.96" stroke="#444" stroke-width="0.6"/>
<text transform="translate(616.36 631.2) scale(1.03 1.03)" font-size="5.19" text-anchor="middle" fill="#333" textLength="2.8" lengthAdjust="spacingAndGlyphs">6</text>
<line x1="638.79" y1="624.1" x2="638.79" y2="625.96" stroke="#444" stroke-width="0.6"/>
<text transform="translate(638.79 631.2) scale(1.03 1.03)" font-size="5.19" text-anchor="middle" fill="#333" textLength="2.8" lengthAdjust="spacingAndGlyphs">7</text>
<line x1="468.75" y1="454.79" x2="470.6" y2="454.79" stroke="#444" stroke-width="0.6"/>
<text dy="1.7" transform="translate(466.7 455.29) rotate(-45) scale(1.03 1.03)" font-size="5.97" text-anchor="middle" fill="#2a2a2a" textLength="3.22" lengthAdjust="spacingAndGlyphs">0</text>
<line x1="468.75" y1="477.36" x2="470.6" y2="477.36" stroke="#444" stroke-width="0.6"/>
<text dy="1.7" transform="translate(466.7 477.86) rotate(-45) scale(1.03 1.03)" font-size="5.97" text-anchor="middle" fill="#2a2a2a" textLength="3.22" lengthAdjust="spacingAndGlyphs">1</text>
<line x1="468.75" y1="499.94" x2="470.6" y2="499.94" stroke="#444" stroke-width="0.6"/>
<text dy="1.7" transform="translate(466.7 500.44) rotate(-45) scale(1.03 1.03)" font-size="5.97" text-anchor="middle" fill="#2a2a2a" textLength="3.22" lengthAdjust="spacingAndGlyphs">2</text>
<line x1="468.75" y1="522.51" x2="470.6" y2="522.51" stroke="#444" stroke-width="0.6"/>
<text dy="1.7" transform="translate(466.7 523.01) rotate(-45) scale(1.03 1.03)" font-size="5.97" text-anchor="middle" fill="#2a2a2a" textLength="3.22" lengthAdjust="spacingAndGlyphs">3</text>
<line x1="468.75" y1="545.09" x2="470.6" y2="545.09" stroke="#444" stroke-width="0.6"/>
<text dy="1.7" transform="translate(466.7 545.59) rotate(-45) scale(1.03 1.03)" font-size="5.97" text-anchor="middle" fill="#2a2a2a" textLength="3.22" lengthAdjust="spacingAndGlyphs">4</text>
<line x1="468.75" y1="567.66" x2="470.6" y2="567.66" stroke="#444" stroke-width="0.6"/>
<text dy="1.7" transform="translate(466.7 568.16) rotate(-45) scale(1.03 1.03)" font-size="5.97" text-anchor="middle" fill="#2a2a2a" textLength="3.22" lengthAdjust="spacingAndGlyphs">5</text>
<line x1="468.75" y1="590.24" x2="470.6" y2="590.24" stroke="#444" stroke-width="0.6"/>
<text dy="1.7" transform="translate(466.7 590.74) rotate(-45) scale(1.03 1.03)" font-size="5.97" text-anchor="middle" fill="#2a2a2a" textLength="3.22" lengthAdjust="spacingAndGlyphs">6</text>
<line x1="468.75" y1="612.81" x2="470.6" y2="612.81" stroke="#444" stroke-width="0.6"/>
<text dy="1.7" transform="translate(466.7 613.31) rotate(-45) scale(1.03 1.03)" font-size="5.97" text-anchor="middle" fill="#2a2a2a" textLength="3.22" lengthAdjust="spacingAndGlyphs">7</text>
<text transform="translate(560.3 441.02) scale(1.03 1.03)" font-size="9.09" text-anchor="middle" fill="#1a1a1a" stroke="#1a1a1a" stroke-width="0.14" textLength="76.97" lengthAdjust="spacingAndGlyphs">Confusion matrix</text>
<text transform="translate(560.3 639.17) scale(1.03 1.03)" font-size="7.34" text-anchor="middle" fill="#2a2a2a" stroke="#2a2a2a" stroke-width="0.1" textLength="55.97" lengthAdjust="spacingAndGlyphs">Predicted Labels</text>
<text transform="translate(460.76 533.8) rotate(-90) scale(1.03 1.03)" font-size="7.34" text-anchor="middle" fill="#2a2a2a" stroke="#2a2a2a" stroke-width="0.1" textLength="38.49" lengthAdjust="spacingAndGlyphs">True Labels</text>
<rect x="662.8" y="443.5" width="9" height="180.6" fill="url(#gI)"/>
<line x1="672" y1="624.1" x2="673.4" y2="624.1" stroke="#555" stroke-width="0.7"/>
<text transform="translate(674.5 625.96) scale(1.03 1.03)" font-size="5.07" text-anchor="start" fill="#2a2a2a" textLength="2.74" lengthAdjust="spacingAndGlyphs">0</text>
<line x1="672" y1="600.71" x2="673.4" y2="600.71" stroke="#555" stroke-width="0.7"/>
<text transform="translate(674.5 602.56) scale(1.03 1.03)" font-size="5.07" text-anchor="start" fill="#2a2a2a" textLength="5.47" lengthAdjust="spacingAndGlyphs">25</text>
<line x1="672" y1="577.31" x2="673.4" y2="577.31" stroke="#555" stroke-width="0.7"/>
<text transform="translate(674.5 579.17) scale(1.03 1.03)" font-size="5.07" text-anchor="start" fill="#2a2a2a" textLength="5.47" lengthAdjust="spacingAndGlyphs">50</text>
<line x1="672" y1="553.92" x2="673.4" y2="553.92" stroke="#555" stroke-width="0.7"/>
<text transform="translate(674.5 555.78) scale(1.03 1.03)" font-size="5.07" text-anchor="start" fill="#2a2a2a" textLength="5.47" lengthAdjust="spacingAndGlyphs">75</text>
<line x1="672" y1="530.52" x2="673.4" y2="530.52" stroke="#555" stroke-width="0.7"/>
<text transform="translate(674.5 532.38) scale(1.03 1.03)" font-size="5.07" text-anchor="start" fill="#2a2a2a" textLength="8.21" lengthAdjust="spacingAndGlyphs">100</text>
<line x1="672" y1="507.13" x2="673.4" y2="507.13" stroke="#555" stroke-width="0.7"/>
<text transform="translate(674.5 508.99) scale(1.03 1.03)" font-size="5.07" text-anchor="start" fill="#2a2a2a" textLength="8.21" lengthAdjust="spacingAndGlyphs">125</text>
<line x1="672" y1="483.74" x2="673.4" y2="483.74" stroke="#555" stroke-width="0.7"/>
<text transform="translate(674.5 485.59) scale(1.03 1.03)" font-size="5.07" text-anchor="start" fill="#2a2a2a" textLength="8.21" lengthAdjust="spacingAndGlyphs">150</text>
<line x1="672" y1="460.34" x2="673.4" y2="460.34" stroke="#555" stroke-width="0.7"/>
<text transform="translate(674.5 462.2) scale(1.03 1.03)" font-size="5.07" text-anchor="start" fill="#2a2a2a" textLength="8.21" lengthAdjust="spacingAndGlyphs">175</text>
<line x1="226" y1="8.2" x2="455" y2="8.2" stroke="#f4f4f4" stroke-width="0.8"/>
<line x1="682.5" y1="221" x2="682.5" y2="425" stroke="#f4f4f4" stroke-width="0.8"/>
<text x="110.7" y="9.7" class="cap">(A)</text>
<text x="341" y="8.9" class="cap">(B)</text>
<text x="568.3" y="8.9" class="cap">(C)</text>
<text x="104" y="220.1" class="cap">(D)</text>
<text x="331.4" y="221.2" class="cap">(E)</text>
<text x="563.7" y="221.5" class="cap">(F)</text>
<text x="104.2" y="430.8" class="cap">(G)</text>
<text x="332.8" y="431.4" class="cap">(H)</text>
<text x="562" y="431.7" class="cap">(I)</text>
<text x="103.5" y="654.8" class="cap">(H)</text>
</svg></body></html>
